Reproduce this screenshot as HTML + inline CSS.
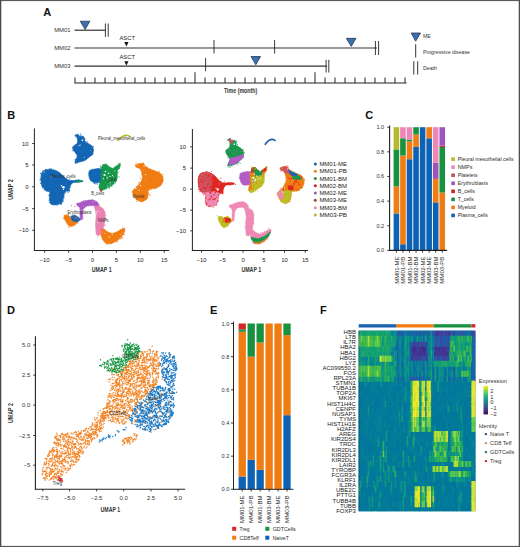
<!DOCTYPE html>
<html><head><meta charset="utf-8"><style>
html,body{margin:0;padding:0;background:#fff;}
svg{display:block;font-family:"Liberation Sans", sans-serif;}
</style></head><body>
<svg width="520" height="547" viewBox="0 0 520 547">
<rect x="0" y="0" width="520" height="547" fill="#fff"/>
<text x="43.3" y="15.8" font-size="11" font-weight="700" fill="#111">A</text>
<text x="70.6" y="32.3" font-size="5.9" text-anchor="end" textLength="16.4" lengthAdjust="spacingAndGlyphs" fill="#333">MM01</text>
<text x="70.6" y="50.1" font-size="5.9" text-anchor="end" textLength="16.4" lengthAdjust="spacingAndGlyphs" fill="#333">MM02</text>
<text x="70.6" y="68.3" font-size="5.9" text-anchor="end" textLength="16.4" lengthAdjust="spacingAndGlyphs" fill="#333">MM03</text>
<line x1="74.5" y1="30.2" x2="105.5" y2="30.2" stroke="#333" stroke-width="1.2"/>
<polygon points="80.2,21.2 89.9,21.2 85.1,29.6" fill="#3b6fae" stroke="#1c2c44" stroke-width="0.7"/>
<line x1="105.4" y1="23.5" x2="105.4" y2="36.8" stroke="#222" stroke-width="0.9"/>
<line x1="108.2" y1="23.5" x2="108.2" y2="36.8" stroke="#222" stroke-width="0.9"/>
<line x1="74.5" y1="48.0" x2="377" y2="48.0" stroke="#333" stroke-width="1.2"/>
<text x="127.2" y="39.8" font-size="5.6" text-anchor="middle" textLength="15.6" lengthAdjust="spacingAndGlyphs" fill="#222">ASCT</text>
<polygon points="124.3,42.0 128.5,42.0 126.4,46.6" fill="#111"/>
<line x1="214" y1="40" x2="214" y2="53.5" stroke="#222" stroke-width="0.9"/>
<line x1="274.6" y1="40" x2="274.6" y2="53.5" stroke="#222" stroke-width="0.9"/>
<polygon points="346.3,38.3 356.1,38.3 351.2,46.4" fill="#3b6fae" stroke="#1c2c44" stroke-width="0.7"/>
<line x1="375.4" y1="41" x2="375.4" y2="55" stroke="#222" stroke-width="0.9"/>
<line x1="378.6" y1="41" x2="378.6" y2="55" stroke="#222" stroke-width="0.9"/>
<line x1="74.5" y1="66.2" x2="327" y2="66.2" stroke="#333" stroke-width="1.2"/>
<text x="127.2" y="58.6" font-size="5.6" text-anchor="middle" textLength="15.6" lengthAdjust="spacingAndGlyphs" fill="#222">ASCT</text>
<polygon points="124.3,61.2 128.5,61.2 126.4,65.4" fill="#111"/>
<line x1="205.6" y1="57.9" x2="205.6" y2="71.3" stroke="#222" stroke-width="0.9"/>
<polygon points="251.0,56.5 260.6,56.5 255.8,64.8" fill="#3b6fae" stroke="#1c2c44" stroke-width="0.7"/>
<line x1="326.1" y1="59.8" x2="326.1" y2="72.5" stroke="#222" stroke-width="0.9"/>
<line x1="328.8" y1="59.8" x2="328.8" y2="72.5" stroke="#222" stroke-width="0.9"/>
<line x1="74.5" y1="83.0" x2="406.5" y2="83.0" stroke="#222" stroke-width="1.2"/>
<line x1="75" y1="77.5" x2="75" y2="83.0" stroke="#222" stroke-width="1.0"/>
<line x1="85" y1="77.5" x2="85" y2="83.0" stroke="#222" stroke-width="1.0"/>
<line x1="95" y1="77.5" x2="95" y2="83.0" stroke="#222" stroke-width="1.0"/>
<line x1="105" y1="77.5" x2="105" y2="83.0" stroke="#222" stroke-width="1.0"/>
<line x1="115" y1="77.5" x2="115" y2="83.0" stroke="#222" stroke-width="1.0"/>
<line x1="125" y1="77.5" x2="125" y2="83.0" stroke="#222" stroke-width="1.0"/>
<line x1="135" y1="77.5" x2="135" y2="83.0" stroke="#222" stroke-width="1.0"/>
<line x1="145" y1="77.5" x2="145" y2="83.0" stroke="#222" stroke-width="1.0"/>
<line x1="155" y1="77.5" x2="155" y2="83.0" stroke="#222" stroke-width="1.0"/>
<line x1="165" y1="77.5" x2="165" y2="83.0" stroke="#222" stroke-width="1.0"/>
<line x1="175" y1="77.5" x2="175" y2="83.0" stroke="#222" stroke-width="1.0"/>
<line x1="185" y1="77.5" x2="185" y2="83.0" stroke="#222" stroke-width="1.0"/>
<line x1="195" y1="72.2" x2="195" y2="83.0" stroke="#222" stroke-width="1.0"/>
<line x1="205" y1="77.5" x2="205" y2="83.0" stroke="#222" stroke-width="1.0"/>
<line x1="215" y1="77.5" x2="215" y2="83.0" stroke="#222" stroke-width="1.0"/>
<line x1="225" y1="77.5" x2="225" y2="83.0" stroke="#222" stroke-width="1.0"/>
<line x1="235" y1="77.5" x2="235" y2="83.0" stroke="#222" stroke-width="1.0"/>
<line x1="245" y1="77.5" x2="245" y2="83.0" stroke="#222" stroke-width="1.0"/>
<line x1="255" y1="77.5" x2="255" y2="83.0" stroke="#222" stroke-width="1.0"/>
<line x1="265" y1="77.5" x2="265" y2="83.0" stroke="#222" stroke-width="1.0"/>
<line x1="275" y1="77.5" x2="275" y2="83.0" stroke="#222" stroke-width="1.0"/>
<line x1="285" y1="77.5" x2="285" y2="83.0" stroke="#222" stroke-width="1.0"/>
<line x1="295" y1="77.5" x2="295" y2="83.0" stroke="#222" stroke-width="1.0"/>
<line x1="305" y1="77.5" x2="305" y2="83.0" stroke="#222" stroke-width="1.0"/>
<line x1="315" y1="72.2" x2="315" y2="83.0" stroke="#222" stroke-width="1.0"/>
<line x1="325" y1="77.5" x2="325" y2="83.0" stroke="#222" stroke-width="1.0"/>
<line x1="335" y1="77.5" x2="335" y2="83.0" stroke="#222" stroke-width="1.0"/>
<line x1="345" y1="77.5" x2="345" y2="83.0" stroke="#222" stroke-width="1.0"/>
<line x1="355" y1="77.5" x2="355" y2="83.0" stroke="#222" stroke-width="1.0"/>
<line x1="365" y1="77.5" x2="365" y2="83.0" stroke="#222" stroke-width="1.0"/>
<line x1="375" y1="77.5" x2="375" y2="83.0" stroke="#222" stroke-width="1.0"/>
<line x1="385" y1="77.5" x2="385" y2="83.0" stroke="#222" stroke-width="1.0"/>
<line x1="395" y1="77.5" x2="395" y2="83.0" stroke="#222" stroke-width="1.0"/>
<line x1="405" y1="77.5" x2="405" y2="83.0" stroke="#222" stroke-width="1.0"/>
<text x="240.6" y="92.6" font-size="7" text-anchor="middle" font-weight="700" textLength="33.2" lengthAdjust="spacingAndGlyphs" fill="#333">Time (month)</text>
<polygon points="411.1,33.0 420.5,33.0 415.7,41.2" fill="#3b6fae" stroke="#1c2c44" stroke-width="0.7"/>
<text x="423" y="38.3" font-size="5.5" textLength="7.8" lengthAdjust="spacingAndGlyphs" fill="#333">ME</text>
<line x1="415.7" y1="44.2" x2="415.7" y2="57.6" stroke="#333" stroke-width="1"/>
<text x="423" y="53.6" font-size="5.5" textLength="47" lengthAdjust="spacingAndGlyphs" fill="#333">Progressive disease</text>
<line x1="413.8" y1="61.2" x2="413.8" y2="74.5" stroke="#333" stroke-width="1"/>
<line x1="417.7" y1="61.2" x2="417.7" y2="74.5" stroke="#333" stroke-width="1"/>
<text x="423" y="69.9" font-size="5.5" textLength="14" lengthAdjust="spacingAndGlyphs" fill="#333">Death</text>
<text x="7.3" y="118.8" font-size="11" font-weight="700" fill="#111">B</text>
<line x1="34.4" y1="128.4" x2="34.4" y2="251.0" stroke="#222" stroke-width="1"/>
<line x1="33.9" y1="250.5" x2="169.2" y2="250.5" stroke="#222" stroke-width="1"/>
<line x1="32.199999999999996" y1="143.5" x2="34.4" y2="143.5" stroke="#222" stroke-width="0.9"/>
<text x="28.6" y="145.6" font-size="5.9" text-anchor="end" fill="#222">10</text>
<line x1="32.199999999999996" y1="165.0" x2="34.4" y2="165.0" stroke="#222" stroke-width="0.9"/>
<text x="28.6" y="167.1" font-size="5.9" text-anchor="end" fill="#222">5</text>
<line x1="32.199999999999996" y1="186.8" x2="34.4" y2="186.8" stroke="#222" stroke-width="0.9"/>
<text x="28.6" y="188.9" font-size="5.9" text-anchor="end" fill="#222">0</text>
<line x1="32.199999999999996" y1="208.6" x2="34.4" y2="208.6" stroke="#222" stroke-width="0.9"/>
<text x="28.6" y="210.7" font-size="5.9" text-anchor="end" fill="#222">−5</text>
<line x1="32.199999999999996" y1="230.3" x2="34.4" y2="230.3" stroke="#222" stroke-width="0.9"/>
<text x="28.6" y="232.4" font-size="5.9" text-anchor="end" fill="#222">−10</text>
<line x1="44.6" y1="250.5" x2="44.6" y2="252.7" stroke="#222" stroke-width="0.9"/>
<text x="44.6" y="261.5" font-size="5.9" text-anchor="middle" fill="#222">−10</text>
<line x1="68.6" y1="250.5" x2="68.6" y2="252.7" stroke="#222" stroke-width="0.9"/>
<text x="68.6" y="261.5" font-size="5.9" text-anchor="middle" fill="#222">−5</text>
<line x1="92.5" y1="250.5" x2="92.5" y2="252.7" stroke="#222" stroke-width="0.9"/>
<text x="92.5" y="261.5" font-size="5.9" text-anchor="middle" fill="#222">0</text>
<line x1="116.4" y1="250.5" x2="116.4" y2="252.7" stroke="#222" stroke-width="0.9"/>
<text x="116.4" y="261.5" font-size="5.9" text-anchor="middle" fill="#222">5</text>
<line x1="140.3" y1="250.5" x2="140.3" y2="252.7" stroke="#222" stroke-width="0.9"/>
<text x="140.3" y="261.5" font-size="5.9" text-anchor="middle" fill="#222">10</text>
<line x1="164.2" y1="250.5" x2="164.2" y2="252.7" stroke="#222" stroke-width="0.9"/>
<text x="164.2" y="261.5" font-size="5.9" text-anchor="middle" fill="#222">15</text>
<text x="101.7" y="272.4" font-size="7.2" text-anchor="middle" font-weight="700" textLength="19.8" lengthAdjust="spacingAndGlyphs" fill="#333">UMAP 1</text>
<text x="13.4" y="189.5" font-size="7.2" text-anchor="middle" font-weight="700" textLength="20.5" lengthAdjust="spacingAndGlyphs" transform="rotate(-90 13.4 189.5)" fill="#333">UMAP 2</text>
<line x1="192.4" y1="129.0" x2="192.4" y2="251.0" stroke="#222" stroke-width="1"/>
<line x1="191.9" y1="250.5" x2="308" y2="250.5" stroke="#222" stroke-width="1"/>
<line x1="190.20000000000002" y1="146.9" x2="192.4" y2="146.9" stroke="#222" stroke-width="0.9"/>
<text x="186.1" y="149.0" font-size="5.9" text-anchor="end" fill="#222">10</text>
<line x1="190.20000000000002" y1="168.1" x2="192.4" y2="168.1" stroke="#222" stroke-width="0.9"/>
<text x="186.1" y="170.2" font-size="5.9" text-anchor="end" fill="#222">5</text>
<line x1="190.20000000000002" y1="189.1" x2="192.4" y2="189.1" stroke="#222" stroke-width="0.9"/>
<text x="186.1" y="191.2" font-size="5.9" text-anchor="end" fill="#222">0</text>
<line x1="190.20000000000002" y1="210.1" x2="192.4" y2="210.1" stroke="#222" stroke-width="0.9"/>
<text x="186.1" y="212.2" font-size="5.9" text-anchor="end" fill="#222">−5</text>
<line x1="190.20000000000002" y1="230.8" x2="192.4" y2="230.8" stroke="#222" stroke-width="0.9"/>
<text x="186.1" y="232.9" font-size="5.9" text-anchor="end" fill="#222">−10</text>
<line x1="201.6" y1="250.5" x2="201.6" y2="252.7" stroke="#222" stroke-width="0.9"/>
<text x="201.6" y="261.5" font-size="5.9" text-anchor="middle" fill="#222">−10</text>
<line x1="222.3" y1="250.5" x2="222.3" y2="252.7" stroke="#222" stroke-width="0.9"/>
<text x="222.3" y="261.5" font-size="5.9" text-anchor="middle" fill="#222">−5</text>
<line x1="243.1" y1="250.5" x2="243.1" y2="252.7" stroke="#222" stroke-width="0.9"/>
<text x="243.1" y="261.5" font-size="5.9" text-anchor="middle" fill="#222">0</text>
<line x1="263.8" y1="250.5" x2="263.8" y2="252.7" stroke="#222" stroke-width="0.9"/>
<text x="263.8" y="261.5" font-size="5.9" text-anchor="middle" fill="#222">5</text>
<line x1="284.5" y1="250.5" x2="284.5" y2="252.7" stroke="#222" stroke-width="0.9"/>
<text x="284.5" y="261.5" font-size="5.9" text-anchor="middle" fill="#222">10</text>
<line x1="305.2" y1="250.5" x2="305.2" y2="252.7" stroke="#222" stroke-width="0.9"/>
<text x="305.2" y="261.5" font-size="5.9" text-anchor="middle" fill="#222">15</text>
<text x="251.3" y="272.4" font-size="7.2" text-anchor="middle" font-weight="700" textLength="19.8" lengthAdjust="spacingAndGlyphs" fill="#333">UMAP 1</text>
<circle cx="315.3" cy="163.90" r="1.5" fill="#1a64ad"/>
<text x="319.4" y="166.0" font-size="5.9" textLength="27.5" lengthAdjust="spacingAndGlyphs" fill="#222">MM01-ME</text>
<circle cx="315.3" cy="171.19" r="1.5" fill="#e8801e"/>
<text x="319.4" y="173.29" font-size="5.9" textLength="27.5" lengthAdjust="spacingAndGlyphs" fill="#222">MM01-PB</text>
<circle cx="315.3" cy="178.48" r="1.5" fill="#1a9147"/>
<text x="319.4" y="180.58" font-size="5.9" textLength="27.5" lengthAdjust="spacingAndGlyphs" fill="#222">MM01-BM</text>
<circle cx="315.3" cy="185.77" r="1.5" fill="#c8202a"/>
<text x="319.4" y="187.87" font-size="5.9" textLength="27.5" lengthAdjust="spacingAndGlyphs" fill="#222">MM02-BM</text>
<circle cx="315.3" cy="193.06" r="1.5" fill="#9a5aa6"/>
<text x="319.4" y="195.16" font-size="5.9" textLength="27.5" lengthAdjust="spacingAndGlyphs" fill="#222">MM02-ME</text>
<circle cx="315.3" cy="200.35" r="1.5" fill="#8d4a4a"/>
<text x="319.4" y="202.45000000000002" font-size="5.9" textLength="27.5" lengthAdjust="spacingAndGlyphs" fill="#222">MM03-ME</text>
<circle cx="315.3" cy="207.64" r="1.5" fill="#e389b9"/>
<text x="319.4" y="209.74" font-size="5.9" textLength="27.5" lengthAdjust="spacingAndGlyphs" fill="#222">MM03-BM</text>
<circle cx="315.3" cy="214.93" r="1.5" fill="#b3b33c"/>
<text x="319.4" y="217.03" font-size="5.9" textLength="27.5" lengthAdjust="spacingAndGlyphs" fill="#222">MM03-PB</text>
<text x="365.2" y="118.8" font-size="11" font-weight="700" fill="#111">C</text>
<rect x="393.60" y="213.44" width="5.60" height="36.96" fill="#0d62b4"/>
<rect x="393.60" y="186.34" width="5.60" height="27.10" fill="#f07c14"/>
<rect x="393.60" y="149.38" width="5.60" height="36.96" fill="#19923f"/>
<rect x="393.60" y="127.20" width="5.60" height="22.18" fill="#b7b82b"/>
<rect x="400.15" y="244.24" width="5.60" height="6.16" fill="#0d62b4"/>
<rect x="400.15" y="155.54" width="5.60" height="88.70" fill="#f07c14"/>
<rect x="400.15" y="138.29" width="5.60" height="17.25" fill="#19923f"/>
<rect x="400.15" y="127.20" width="5.60" height="11.09" fill="#ef86ba"/>
<rect x="406.70" y="159.23" width="5.60" height="91.17" fill="#0d62b4"/>
<rect x="406.70" y="141.37" width="5.60" height="17.86" fill="#f07c14"/>
<rect x="406.70" y="139.52" width="5.60" height="1.85" fill="#19923f"/>
<rect x="406.70" y="127.20" width="5.60" height="12.32" fill="#ef86ba"/>
<rect x="413.25" y="146.91" width="5.60" height="103.49" fill="#0d62b4"/>
<rect x="413.25" y="134.59" width="5.60" height="12.32" fill="#f07c14"/>
<rect x="413.25" y="127.20" width="5.60" height="7.39" fill="#19923f"/>
<rect x="419.80" y="127.20" width="5.60" height="123.20" fill="#0d62b4"/>
<rect x="426.35" y="138.29" width="5.60" height="112.11" fill="#0d62b4"/>
<rect x="426.35" y="127.20" width="5.60" height="11.09" fill="#f07c14"/>
<rect x="432.90" y="202.35" width="5.60" height="48.05" fill="#0d62b4"/>
<rect x="432.90" y="178.94" width="5.60" height="23.41" fill="#f07c14"/>
<rect x="432.90" y="162.93" width="5.60" height="16.02" fill="#9d55bd"/>
<rect x="432.90" y="127.20" width="5.60" height="35.73" fill="#ef86ba"/>
<rect x="439.45" y="192.50" width="5.60" height="57.90" fill="#f07c14"/>
<rect x="439.45" y="146.91" width="5.60" height="45.58" fill="#19923f"/>
<rect x="439.45" y="145.68" width="5.60" height="1.23" fill="#d32027"/>
<rect x="439.45" y="127.20" width="5.60" height="18.48" fill="#9d55bd"/>
<line x1="389.6" y1="125.5" x2="389.6" y2="250.9" stroke="#222" stroke-width="1.1"/>
<line x1="389.1" y1="250.4" x2="447.2" y2="250.4" stroke="#222" stroke-width="1.1"/>
<line x1="387.3" y1="250.4" x2="389.8" y2="250.4" stroke="#222" stroke-width="0.9"/>
<text x="384.2" y="252.4" font-size="5.6" text-anchor="end" fill="#333">0.0</text>
<line x1="387.3" y1="225.76" x2="389.8" y2="225.76" stroke="#222" stroke-width="0.9"/>
<text x="384.2" y="227.76" font-size="5.6" text-anchor="end" fill="#333">0.2</text>
<line x1="387.3" y1="201.12" x2="389.8" y2="201.12" stroke="#222" stroke-width="0.9"/>
<text x="384.2" y="203.12" font-size="5.6" text-anchor="end" fill="#333">0.4</text>
<line x1="387.3" y1="176.48" x2="389.8" y2="176.48" stroke="#222" stroke-width="0.9"/>
<text x="384.2" y="178.48" font-size="5.6" text-anchor="end" fill="#333">0.6</text>
<line x1="387.3" y1="151.84" x2="389.8" y2="151.84" stroke="#222" stroke-width="0.9"/>
<text x="384.2" y="153.84" font-size="5.6" text-anchor="end" fill="#333">0.8</text>
<line x1="387.3" y1="127.2" x2="389.8" y2="127.2" stroke="#222" stroke-width="0.9"/>
<text x="384.2" y="129.2" font-size="5.6" text-anchor="end" fill="#333">1.0</text>
<line x1="396.40000000000003" y1="250.4" x2="396.40000000000003" y2="252.6" stroke="#222" stroke-width="0.9"/>
<text x="398.6" y="256.7" font-size="6.2" text-anchor="end" textLength="27.0" lengthAdjust="spacingAndGlyphs" transform="rotate(-90 398.6 256.7)" fill="#2a2a2a">MM01-ME</text>
<line x1="402.95000000000005" y1="250.4" x2="402.95000000000005" y2="252.6" stroke="#222" stroke-width="0.9"/>
<text x="405.15000000000003" y="256.7" font-size="6.2" text-anchor="end" textLength="27.0" lengthAdjust="spacingAndGlyphs" transform="rotate(-90 405.15000000000003 256.7)" fill="#2a2a2a">MM01-PB</text>
<line x1="409.50000000000006" y1="250.4" x2="409.50000000000006" y2="252.6" stroke="#222" stroke-width="0.9"/>
<text x="411.70000000000005" y="256.7" font-size="6.2" text-anchor="end" textLength="27.0" lengthAdjust="spacingAndGlyphs" transform="rotate(-90 411.70000000000005 256.7)" fill="#2a2a2a">MM01-BM</text>
<line x1="416.05" y1="250.4" x2="416.05" y2="252.6" stroke="#222" stroke-width="0.9"/>
<text x="418.25" y="256.7" font-size="6.2" text-anchor="end" textLength="27.0" lengthAdjust="spacingAndGlyphs" transform="rotate(-90 418.25 256.7)" fill="#2a2a2a">MM02-BM</text>
<line x1="422.6" y1="250.4" x2="422.6" y2="252.6" stroke="#222" stroke-width="0.9"/>
<text x="424.8" y="256.7" font-size="6.2" text-anchor="end" textLength="27.0" lengthAdjust="spacingAndGlyphs" transform="rotate(-90 424.8 256.7)" fill="#2a2a2a">MM02-ME</text>
<line x1="429.15000000000003" y1="250.4" x2="429.15000000000003" y2="252.6" stroke="#222" stroke-width="0.9"/>
<text x="431.35" y="256.7" font-size="6.2" text-anchor="end" textLength="27.0" lengthAdjust="spacingAndGlyphs" transform="rotate(-90 431.35 256.7)" fill="#2a2a2a">MM03-ME</text>
<line x1="435.70000000000005" y1="250.4" x2="435.70000000000005" y2="252.6" stroke="#222" stroke-width="0.9"/>
<text x="437.90000000000003" y="256.7" font-size="6.2" text-anchor="end" textLength="27.0" lengthAdjust="spacingAndGlyphs" transform="rotate(-90 437.90000000000003 256.7)" fill="#2a2a2a">MM03-BM</text>
<line x1="442.25000000000006" y1="250.4" x2="442.25000000000006" y2="252.6" stroke="#222" stroke-width="0.9"/>
<text x="444.45000000000005" y="256.7" font-size="6.2" text-anchor="end" textLength="27.0" lengthAdjust="spacingAndGlyphs" transform="rotate(-90 444.45000000000005 256.7)" fill="#2a2a2a">MM03-PB</text>
<rect x="451.30" y="157.35" width="3.60" height="3.60" fill="#b7b82b"/>
<text x="457.7" y="161.1" font-size="5.7" textLength="55.8" lengthAdjust="spacingAndGlyphs" fill="#2a2a2a">Pleural mesothelial cells</text>
<rect x="451.30" y="165.39" width="3.60" height="3.60" fill="#ef86ba"/>
<text x="457.7" y="169.14" font-size="5.7" textLength="14.7" lengthAdjust="spacingAndGlyphs" fill="#2a2a2a">NMPs</text>
<rect x="451.30" y="173.43" width="3.60" height="3.60" fill="#c05457"/>
<text x="457.7" y="177.18" font-size="5.7" textLength="19.8" lengthAdjust="spacingAndGlyphs" fill="#2a2a2a">Platelets</text>
<rect x="451.30" y="181.47" width="3.60" height="3.60" fill="#9d55bd"/>
<text x="457.7" y="185.22" font-size="5.7" textLength="30.3" lengthAdjust="spacingAndGlyphs" fill="#2a2a2a">Erythroblasts</text>
<rect x="451.30" y="189.51" width="3.60" height="3.60" fill="#d32027"/>
<text x="457.7" y="193.26" font-size="5.7" textLength="17.2" lengthAdjust="spacingAndGlyphs" fill="#2a2a2a">B_cells</text>
<rect x="451.30" y="197.55" width="3.60" height="3.60" fill="#19923f"/>
<text x="457.7" y="201.29999999999998" font-size="5.7" textLength="16.2" lengthAdjust="spacingAndGlyphs" fill="#2a2a2a">T_cells</text>
<rect x="451.30" y="205.59" width="3.60" height="3.60" fill="#f07c14"/>
<text x="457.7" y="209.33999999999997" font-size="5.7" textLength="18.0" lengthAdjust="spacingAndGlyphs" fill="#2a2a2a">Myeloid</text>
<rect x="451.30" y="213.63" width="3.60" height="3.60" fill="#0d62b4"/>
<text x="457.7" y="217.38" font-size="5.7" textLength="30.2" lengthAdjust="spacingAndGlyphs" fill="#2a2a2a">Plasma_cells</text>
<text x="210.0" y="314.4" font-size="11" font-weight="700" fill="#111">E</text>
<rect x="238.60" y="476.53" width="7.30" height="12.77" fill="#0d62b4"/>
<rect x="238.60" y="331.79" width="7.30" height="144.74" fill="#f07c14"/>
<rect x="238.60" y="329.30" width="7.30" height="2.49" fill="#19923f"/>
<rect x="238.60" y="323.50" width="7.30" height="5.80" fill="#d62728"/>
<rect x="247.55" y="459.79" width="7.30" height="29.51" fill="#0d62b4"/>
<rect x="247.55" y="356.66" width="7.30" height="103.13" fill="#f07c14"/>
<rect x="247.55" y="323.50" width="7.30" height="33.16" fill="#19923f"/>
<rect x="256.50" y="469.90" width="7.30" height="19.40" fill="#0d62b4"/>
<rect x="256.50" y="342.57" width="7.30" height="127.33" fill="#f07c14"/>
<rect x="256.50" y="323.50" width="7.30" height="19.07" fill="#19923f"/>
<rect x="265.45" y="323.50" width="7.30" height="165.80" fill="#f07c14"/>
<rect x="274.40" y="323.50" width="7.30" height="165.80" fill="#f07c14"/>
<rect x="283.35" y="415.19" width="7.30" height="74.11" fill="#0d62b4"/>
<rect x="283.35" y="335.11" width="7.30" height="80.08" fill="#f07c14"/>
<rect x="283.35" y="323.50" width="7.30" height="11.61" fill="#19923f"/>
<line x1="233.5" y1="321.5" x2="233.5" y2="489.8" stroke="#222" stroke-width="1"/>
<line x1="233.0" y1="489.3" x2="293.5" y2="489.3" stroke="#222" stroke-width="1"/>
<line x1="231.0" y1="489.3" x2="233.5" y2="489.3" stroke="#222" stroke-width="0.9"/>
<text x="229.3" y="491.3" font-size="5.6" text-anchor="end" fill="#333">0.0</text>
<line x1="231.0" y1="456.14" x2="233.5" y2="456.14" stroke="#222" stroke-width="0.9"/>
<text x="229.3" y="458.14" font-size="5.6" text-anchor="end" fill="#333">0.2</text>
<line x1="231.0" y1="422.98" x2="233.5" y2="422.98" stroke="#222" stroke-width="0.9"/>
<text x="229.3" y="424.98" font-size="5.6" text-anchor="end" fill="#333">0.4</text>
<line x1="231.0" y1="389.82" x2="233.5" y2="389.82" stroke="#222" stroke-width="0.9"/>
<text x="229.3" y="391.82" font-size="5.6" text-anchor="end" fill="#333">0.6</text>
<line x1="231.0" y1="356.65999999999997" x2="233.5" y2="356.65999999999997" stroke="#222" stroke-width="0.9"/>
<text x="229.3" y="358.65999999999997" font-size="5.6" text-anchor="end" fill="#333">0.8</text>
<line x1="231.0" y1="323.5" x2="233.5" y2="323.5" stroke="#222" stroke-width="0.9"/>
<text x="229.3" y="325.5" font-size="5.6" text-anchor="end" fill="#333">1.0</text>
<line x1="242.25" y1="489.3" x2="242.25" y2="491.5" stroke="#222" stroke-width="0.9"/>
<text x="244.45" y="495.5" font-size="6.2" text-anchor="end" textLength="27.4" lengthAdjust="spacingAndGlyphs" transform="rotate(-90 244.45 495.5)" fill="#2a2a2a">MM01-ME</text>
<line x1="251.2" y1="489.3" x2="251.2" y2="491.5" stroke="#222" stroke-width="0.9"/>
<text x="253.39999999999998" y="495.5" font-size="6.2" text-anchor="end" textLength="27.4" lengthAdjust="spacingAndGlyphs" transform="rotate(-90 253.39999999999998 495.5)" fill="#2a2a2a">MM01-PB</text>
<line x1="260.15" y1="489.3" x2="260.15" y2="491.5" stroke="#222" stroke-width="0.9"/>
<text x="262.34999999999997" y="495.5" font-size="6.2" text-anchor="end" textLength="27.4" lengthAdjust="spacingAndGlyphs" transform="rotate(-90 262.34999999999997 495.5)" fill="#2a2a2a">MM01-BM</text>
<line x1="269.09999999999997" y1="489.3" x2="269.09999999999997" y2="491.5" stroke="#222" stroke-width="0.9"/>
<text x="271.29999999999995" y="495.5" font-size="6.2" text-anchor="end" textLength="27.4" lengthAdjust="spacingAndGlyphs" transform="rotate(-90 271.29999999999995 495.5)" fill="#2a2a2a">MM03-BM</text>
<line x1="278.04999999999995" y1="489.3" x2="278.04999999999995" y2="491.5" stroke="#222" stroke-width="0.9"/>
<text x="280.24999999999994" y="495.5" font-size="6.2" text-anchor="end" textLength="27.4" lengthAdjust="spacingAndGlyphs" transform="rotate(-90 280.24999999999994 495.5)" fill="#2a2a2a">MM03-ME</text>
<line x1="287.0" y1="489.3" x2="287.0" y2="491.5" stroke="#222" stroke-width="0.9"/>
<text x="289.2" y="495.5" font-size="6.2" text-anchor="end" textLength="27.4" lengthAdjust="spacingAndGlyphs" transform="rotate(-90 289.2 495.5)" fill="#2a2a2a">MM03-PB</text>
<rect x="232.20" y="526.80" width="4.00" height="4.00" fill="#d62728"/>
<text x="239.6" y="530.8" font-size="5.6" textLength="10" lengthAdjust="spacingAndGlyphs" fill="#2a2a2a">Treg</text>
<rect x="265.30" y="526.80" width="4.00" height="4.00" fill="#19923f"/>
<text x="272.7" y="530.8" font-size="5.6" textLength="23.1" lengthAdjust="spacingAndGlyphs" fill="#2a2a2a">GDTCells</text>
<rect x="232.20" y="535.70" width="4.00" height="4.00" fill="#f07c14"/>
<text x="239.6" y="539.7" font-size="5.6" textLength="19.2" lengthAdjust="spacingAndGlyphs" fill="#2a2a2a">CD8Teff</text>
<rect x="265.30" y="535.70" width="4.00" height="4.00" fill="#0d62b4"/>
<text x="272.7" y="539.7" font-size="5.6" textLength="16.1" lengthAdjust="spacingAndGlyphs" fill="#2a2a2a">NaiveT</text>
<text x="319.9" y="314.4" font-size="11" font-weight="700" fill="#111">F</text>
<rect x="358.70" y="324.20" width="37.30" height="3.30" fill="#1a64ad"/>
<rect x="396.00" y="324.20" width="37.70" height="3.30" fill="#f07c14"/>
<rect x="433.70" y="324.20" width="37.70" height="3.30" fill="#19923f"/>
<rect x="471.40" y="324.20" width="4.00" height="3.30" fill="#d62728"/>
<rect x="358.7" y="330.7" width="116.70" height="180.50" fill="#00789b"/>
<g transform="translate(358.7,330.7) scale(0.99744,5.01389)">
<path fill="#3b1f7d" d="M55 3h1.6v1.2h-1.6zM63 3h1.6v1.2h-1.6z"/>
<path fill="#3d2481" d="M75 4h1.6v1.2h-1.6z"/>
<path fill="#3e2986" d="M64 3h1.6v1.2h-1.6zM66 3h1.6v1.2h-1.6zM81 3h1.6v1.2h-1.6zM83 3h1.6v1.2h-1.6zM85 3h1.6v1.2h-1.6zM87 3h1.6v1.2h-1.6zM90 3h1.6v1.2h-1.6zM54 4h1.6v1.2h-1.6zM87 4h1.6v1.2h-1.6z"/>
<path fill="#402d8a" d="M78 0h1.6v1.2h-1.6zM91 0h1.6v1.2h-1.6zM57 3h1.6v1.2h-1.6zM61 3h1.6v1.2h-1.6zM65 3h1.6v1.2h-1.6zM76 3h1.6v1.2h-1.6zM80 3h1.6v1.2h-1.6zM55 4h1.6v1.2h-1.6zM57 4h1.6v1.2h-1.6zM60 4h1.6v1.2h-1.6zM65 4h1.6v1.2h-1.6zM76 4h1.6v1.2h-1.6zM78 4h1.6v1.2h-1.6zM81 4h1.6v1.2h-1.6zM84 4h1.6v1.2h-1.6zM88 4h1.6v1.2h-1.6zM52 5h1.6v1.2h-1.6z"/>
<path fill="#41328f" d="M52 3h1.6v1.2h-1.6zM54 3h1.6v1.2h-1.6zM56 3h1.6v1.2h-1.6zM59 3h1.6v1.2h-1.6zM77 3h2.6v1.2h-2.6zM52 4h1.6v1.2h-1.6zM61 4h1.6v1.2h-1.6zM63 4h2.6v1.2h-2.6zM66 4h1.6v1.2h-1.6zM80 4h1.6v1.2h-1.6zM83 4h1.6v1.2h-1.6zM86 4h1.6v1.2h-1.6z"/>
<path fill="#433793" d="M39 0h1.6v1.2h-1.6zM77 0h1.6v1.2h-1.6zM80 0h1.6v1.2h-1.6zM83 0h1.6v1.2h-1.6zM90 0h1.6v1.2h-1.6zM94 0h2.6v1.2h-2.6zM112 0h1.6v1.2h-1.6zM55 2h1.6v1.2h-1.6zM58 2h2.6v1.2h-2.6zM67 2h1.6v1.2h-1.6zM53 3h1.6v1.2h-1.6zM60 3h1.6v1.2h-1.6zM62 3h1.6v1.2h-1.6zM67 3h1.6v1.2h-1.6zM79 3h1.6v1.2h-1.6zM84 3h1.6v1.2h-1.6zM86 3h1.6v1.2h-1.6zM89 3h1.6v1.2h-1.6zM56 4h1.6v1.2h-1.6zM58 4h2.6v1.2h-2.6zM62 4h1.6v1.2h-1.6zM67 4h1.6v1.2h-1.6zM85 4h1.6v1.2h-1.6zM53 5h1.6v1.2h-1.6zM55 5h1.6v1.2h-1.6zM59 5h1.6v1.2h-1.6zM67 5h1.6v1.2h-1.6z"/>
<path fill="#443c98" d="M79 0h1.6v1.2h-1.6zM87 0h1.6v1.2h-1.6zM89 0h1.6v1.2h-1.6zM56 2h1.6v1.2h-1.6zM75 3h1.6v1.2h-1.6zM53 4h1.6v1.2h-1.6zM77 4h1.6v1.2h-1.6zM79 4h1.6v1.2h-1.6zM82 4h1.6v1.2h-1.6zM57 5h1.6v1.2h-1.6zM61 5h1.6v1.2h-1.6zM85 5h1.6v1.2h-1.6zM60 9h1.6v1.2h-1.6z"/>
<path fill="#40419b" d="M68 0h1.6v1.2h-1.6zM73 0h1.6v1.2h-1.6zM75 0h2.6v1.2h-2.6zM82 0h1.6v1.2h-1.6zM88 0h1.6v1.2h-1.6zM114 0h1.6v1.2h-1.6zM76 1h1.6v1.2h-1.6zM54 2h1.6v1.2h-1.6zM63 2h1.6v1.2h-1.6zM82 3h1.6v1.2h-1.6zM88 3h1.6v1.2h-1.6zM90 4h1.6v1.2h-1.6zM56 5h1.6v1.2h-1.6zM60 5h1.6v1.2h-1.6zM79 5h1.6v1.2h-1.6zM86 5h1.6v1.2h-1.6zM89 5h1.6v1.2h-1.6z"/>
<path fill="#3b469d" d="M60 0h1.6v1.2h-1.6zM81 0h1.6v1.2h-1.6zM86 0h1.6v1.2h-1.6zM104 0h1.6v1.2h-1.6zM113 0h1.6v1.2h-1.6zM64 1h1.6v1.2h-1.6zM78 1h1.6v1.2h-1.6zM89 1h1.6v1.2h-1.6zM52 2h1.6v1.2h-1.6zM61 2h2.6v1.2h-2.6zM58 3h1.6v1.2h-1.6zM89 4h1.6v1.2h-1.6zM54 5h1.6v1.2h-1.6zM58 5h1.6v1.2h-1.6zM62 5h2.6v1.2h-2.6zM65 5h1.6v1.2h-1.6zM77 5h1.6v1.2h-1.6zM80 5h1.6v1.2h-1.6zM84 5h1.6v1.2h-1.6zM87 5h1.6v1.2h-1.6zM68 7h1.6v1.2h-1.6zM112 7h1.6v1.2h-1.6zM53 9h1.6v1.2h-1.6zM68 9h1.6v1.2h-1.6zM89 9h1.6v1.2h-1.6z"/>
<path fill="#374ba0" d="M51 0h1.6v1.2h-1.6zM57 0h1.6v1.2h-1.6zM84 0h2.6v1.2h-2.6zM108 0h1.6v1.2h-1.6zM115 0h2v1.2h-2zM81 1h2.6v1.2h-2.6zM88 1h1.6v1.2h-1.6zM90 1h1.6v1.2h-1.6zM53 2h1.6v1.2h-1.6zM57 2h1.6v1.2h-1.6zM64 2h1.6v1.2h-1.6zM66 2h1.6v1.2h-1.6zM81 2h2.6v1.2h-2.6zM84 2h1.6v1.2h-1.6zM90 2h1.6v1.2h-1.6zM82 5h2.6v1.2h-2.6zM88 5h1.6v1.2h-1.6zM54 9h1.6v1.2h-1.6zM57 9h1.6v1.2h-1.6zM95 9h1.6v1.2h-1.6z"/>
<path fill="#3350a3" d="M38 0h1.6v1.2h-1.6zM64 0h2.6v1.2h-2.6zM100 0h1.6v1.2h-1.6zM105 0h1.6v1.2h-1.6zM68 1h1.6v1.2h-1.6zM83 1h1.6v1.2h-1.6zM60 2h1.6v1.2h-1.6zM65 2h1.6v1.2h-1.6zM75 2h1.6v1.2h-1.6zM78 2h1.6v1.2h-1.6zM89 2h1.6v1.2h-1.6zM68 4h1.6v1.2h-1.6zM114 4h1.6v1.2h-1.6zM64 5h1.6v1.2h-1.6zM68 5h1.6v1.2h-1.6zM78 5h1.6v1.2h-1.6zM64 6h1.6v1.2h-1.6zM68 6h1.6v1.2h-1.6zM64 7h1.6v1.2h-1.6zM94 7h1.6v1.2h-1.6zM95 8h1.6v1.2h-1.6zM39 9h1.6v1.2h-1.6zM64 9h1.6v1.2h-1.6zM79 9h1.6v1.2h-1.6z"/>
<path fill="#2e55a5" d="M42 0h2.6v1.2h-2.6zM69 0h1.6v1.2h-1.6zM71 0h1.6v1.2h-1.6zM96 0h1.6v1.2h-1.6zM102 0h1.6v1.2h-1.6zM57 1h1.6v1.2h-1.6zM80 1h1.6v1.2h-1.6zM86 1h1.6v1.2h-1.6zM68 2h1.6v1.2h-1.6zM76 2h2.6v1.2h-2.6zM83 2h1.6v1.2h-1.6zM85 2h1.6v1.2h-1.6zM87 2h2.6v1.2h-2.6zM38 4h1.6v1.2h-1.6zM66 5h1.6v1.2h-1.6zM75 5h1.6v1.2h-1.6zM81 5h1.6v1.2h-1.6zM39 6h1.6v1.2h-1.6zM60 6h1.6v1.2h-1.6zM95 7h1.6v1.2h-1.6zM51 9h1.6v1.2h-1.6zM55 9h1.6v1.2h-1.6zM112 9h1.6v1.2h-1.6zM115 9h1.6v1.2h-1.6z"/>
<path fill="#2a5aa8" d="M55 0h1.6v1.2h-1.6zM101 0h1.6v1.2h-1.6zM103 0h1.6v1.2h-1.6zM75 1h1.6v1.2h-1.6zM79 1h1.6v1.2h-1.6zM85 1h1.6v1.2h-1.6zM38 2h1.6v1.2h-1.6zM80 2h1.6v1.2h-1.6zM113 2h1.6v1.2h-1.6zM39 3h1.6v1.2h-1.6zM113 3h1.6v1.2h-1.6zM39 5h1.6v1.2h-1.6zM76 5h1.6v1.2h-1.6zM114 5h1.6v1.2h-1.6zM116 5h1v1.2h-1zM39 7h1.6v1.2h-1.6zM79 7h1.6v1.2h-1.6zM51 8h1.6v1.2h-1.6zM79 8h1.6v1.2h-1.6zM43 9h1.6v1.2h-1.6zM62 9h1.6v1.2h-1.6zM71 9h1.6v1.2h-1.6zM73 9h1.6v1.2h-1.6z"/>
<path fill="#245da8" d="M44 0h2.6v1.2h-2.6zM61 0h1.6v1.2h-1.6zM99 0h1.6v1.2h-1.6zM77 1h1.6v1.2h-1.6zM87 1h1.6v1.2h-1.6zM113 1h3.6v1.2h-3.6zM39 2h1.6v1.2h-1.6zM86 2h1.6v1.2h-1.6zM114 2h2.6v1.2h-2.6zM68 3h1.6v1.2h-1.6zM114 3h1.6v1.2h-1.6zM39 4h1.6v1.2h-1.6zM115 4h2v1.2h-2zM73 5h1.6v1.2h-1.6zM90 5h1.6v1.2h-1.6zM115 5h1.6v1.2h-1.6zM38 6h1.6v1.2h-1.6zM57 6h1.6v1.2h-1.6zM71 6h1.6v1.2h-1.6zM51 7h1.6v1.2h-1.6zM57 8h1.6v1.2h-1.6zM64 8h1.6v1.2h-1.6zM68 8h1.6v1.2h-1.6zM112 8h1.6v1.2h-1.6zM65 9h1.6v1.2h-1.6zM94 9h1.6v1.2h-1.6zM95 24h1.6v1.2h-1.6z"/>
<path fill="#1e60a8" d="M40 0h1.6v1.2h-1.6zM62 0h1.6v1.2h-1.6zM93 0h1.6v1.2h-1.6zM106 0h1.6v1.2h-1.6zM84 1h1.6v1.2h-1.6zM116 1h1v1.2h-1zM43 2h1.6v1.2h-1.6zM73 2h1.6v1.2h-1.6zM79 2h1.6v1.2h-1.6zM37 3h1.6v1.2h-1.6zM51 3h1.6v1.2h-1.6zM115 3h2v1.2h-2zM51 4h1.6v1.2h-1.6zM113 4h1.6v1.2h-1.6zM51 5h1.6v1.2h-1.6zM113 5h1.6v1.2h-1.6zM62 6h1.6v1.2h-1.6zM113 6h1.6v1.2h-1.6zM60 7h1.6v1.2h-1.6zM75 7h1.6v1.2h-1.6zM89 7h1.6v1.2h-1.6zM113 7h1.6v1.2h-1.6zM116 7h1v1.2h-1zM38 8h2.6v1.2h-2.6zM73 8h1.6v1.2h-1.6zM113 8h2.6v1.2h-2.6zM45 9h1.6v1.2h-1.6zM56 9h1.6v1.2h-1.6zM86 9h2.6v1.2h-2.6zM90 9h1.6v1.2h-1.6zM104 9h1.6v1.2h-1.6zM116 9h1v1.2h-1zM67 15h1.6v1.2h-1.6z"/>
<path fill="#1963a8" d="M49 0h2.6v1.2h-2.6zM54 0h1.6v1.2h-1.6zM56 0h1.6v1.2h-1.6zM92 0h1.6v1.2h-1.6zM98 0h1.6v1.2h-1.6zM39 1h1.6v1.2h-1.6zM51 1h1.6v1.2h-1.6zM65 1h1.6v1.2h-1.6zM71 1h1.6v1.2h-1.6zM116 2h1v1.2h-1zM43 3h1.6v1.2h-1.6zM34 4h1.6v1.2h-1.6zM14 5h1.6v1.2h-1.6zM43 5h1.6v1.2h-1.6zM43 6h1.6v1.2h-1.6zM69 6h1.6v1.2h-1.6zM73 6h1.6v1.2h-1.6zM114 6h3v1.2h-3zM38 7h1.6v1.2h-1.6zM73 7h1.6v1.2h-1.6zM43 8h1.6v1.2h-1.6zM87 8h1.6v1.2h-1.6zM94 8h1.6v1.2h-1.6zM115 8h1.6v1.2h-1.6zM38 9h1.6v1.2h-1.6zM52 9h1.6v1.2h-1.6zM69 9h1.6v1.2h-1.6zM75 9h1.6v1.2h-1.6zM100 9h1.6v1.2h-1.6zM113 9h2.6v1.2h-2.6zM66 11h1.6v1.2h-1.6zM62 12h1.6v1.2h-1.6zM79 22h1.6v1.2h-1.6z"/>
<path fill="#1366a8" d="M41 0h1.6v1.2h-1.6zM59 0h1.6v1.2h-1.6zM70 0h1.6v1.2h-1.6zM60 1h1.6v1.2h-1.6zM34 3h1.6v1.2h-1.6zM38 3h1.6v1.2h-1.6zM50 3h1.6v1.2h-1.6zM73 3h1.6v1.2h-1.6zM43 4h1.6v1.2h-1.6zM71 4h1.6v1.2h-1.6zM73 4h1.6v1.2h-1.6zM38 5h1.6v1.2h-1.6zM42 5h1.6v1.2h-1.6zM71 5h1.6v1.2h-1.6zM42 6h1.6v1.2h-1.6zM48 6h1.6v1.2h-1.6zM51 6h1.6v1.2h-1.6zM54 6h1.6v1.2h-1.6zM104 6h1.6v1.2h-1.6zM112 6h1.6v1.2h-1.6zM42 7h1.6v1.2h-1.6zM62 7h1.6v1.2h-1.6zM71 7h1.6v1.2h-1.6zM85 7h2.6v1.2h-2.6zM115 7h1.6v1.2h-1.6zM60 8h1.6v1.2h-1.6zM65 8h1.6v1.2h-1.6zM75 8h1.6v1.2h-1.6zM78 8h1.6v1.2h-1.6zM89 8h1.6v1.2h-1.6zM100 8h1.6v1.2h-1.6zM116 8h1v1.2h-1zM42 9h1.6v1.2h-1.6zM58 9h2.6v1.2h-2.6zM67 11h1.6v1.2h-1.6zM66 16h1.6v1.2h-1.6zM97 23h1.6v1.2h-1.6z"/>
<path fill="#0d6ba6" d="M33 0h1.6v1.2h-1.6zM52 0h1.6v1.2h-1.6zM58 0h1.6v1.2h-1.6zM66 0h1.6v1.2h-1.6zM74 0h1.6v1.2h-1.6zM97 0h1.6v1.2h-1.6zM107 0h1.6v1.2h-1.6zM111 0h1.6v1.2h-1.6zM38 1h1.6v1.2h-1.6zM55 1h1.6v1.2h-1.6zM73 1h1.6v1.2h-1.6zM36 3h1.6v1.2h-1.6zM71 3h1.6v1.2h-1.6zM42 4h1.6v1.2h-1.6zM69 4h1.6v1.2h-1.6zM45 5h1.6v1.2h-1.6zM69 5h1.6v1.2h-1.6zM55 6h1.6v1.2h-1.6zM55 7h2.6v1.2h-2.6zM65 7h1.6v1.2h-1.6zM87 7h1.6v1.2h-1.6zM104 7h1.6v1.2h-1.6zM114 7h1.6v1.2h-1.6zM54 8h2.6v1.2h-2.6zM50 9h1.6v1.2h-1.6zM63 9h1.6v1.2h-1.6zM106 9h1.6v1.2h-1.6zM116 22h1v1.2h-1zM46 23h1.6v1.2h-1.6zM116 24h1v1.2h-1zM116 29h1v1.2h-1zM109 31h1.6v1.2h-1.6zM97 33h1.6v1.2h-1.6z"/>
<path fill="#0870a2" d="M48 0h1.6v1.2h-1.6zM53 0h1.6v1.2h-1.6zM48 1h1.6v1.2h-1.6zM62 1h1.6v1.2h-1.6zM45 2h1.6v1.2h-1.6zM51 2h1.6v1.2h-1.6zM71 2h1.6v1.2h-1.6zM42 3h1.6v1.2h-1.6zM74 3h1.6v1.2h-1.6zM36 4h1.6v1.2h-1.6zM45 4h1.6v1.2h-1.6zM94 4h1.6v1.2h-1.6zM8 5h1.6v1.2h-1.6zM36 5h1.6v1.2h-1.6zM50 5h1.6v1.2h-1.6zM97 5h1.6v1.2h-1.6zM65 6h1.6v1.2h-1.6zM57 7h1.6v1.2h-1.6zM63 7h1.6v1.2h-1.6zM90 7h2.6v1.2h-2.6zM96 7h1.6v1.2h-1.6zM100 7h1.6v1.2h-1.6zM62 8h1.6v1.2h-1.6zM85 8h1.6v1.2h-1.6zM36 9h1.6v1.2h-1.6zM44 9h1.6v1.2h-1.6zM66 9h1.6v1.2h-1.6zM74 9h1.6v1.2h-1.6zM78 9h1.6v1.2h-1.6zM84 9h2.6v1.2h-2.6zM91 9h1.6v1.2h-1.6zM96 9h1.6v1.2h-1.6zM98 9h1.6v1.2h-1.6zM101 9h1.6v1.2h-1.6zM105 9h1.6v1.2h-1.6zM11 10h1.6v1.2h-1.6zM110 10h1.6v1.2h-1.6zM3 11h1.6v1.2h-1.6zM29 11h1.6v1.2h-1.6zM36 11h1.6v1.2h-1.6zM40 11h1.6v1.2h-1.6zM49 11h1.6v1.2h-1.6zM103 11h1.6v1.2h-1.6zM17 12h1.6v1.2h-1.6zM25 12h1.6v1.2h-1.6zM79 12h1.6v1.2h-1.6zM83 12h1.6v1.2h-1.6zM91 12h1.6v1.2h-1.6zM95 12h1.6v1.2h-1.6zM11 13h1.6v1.2h-1.6zM18 13h1.6v1.2h-1.6zM36 13h2.6v1.2h-2.6zM47 13h1.6v1.2h-1.6zM72 13h1.6v1.2h-1.6zM79 13h1.6v1.2h-1.6zM110 13h1.6v1.2h-1.6zM30 14h1.6v1.2h-1.6zM35 14h1.6v1.2h-1.6zM39 14h1.6v1.2h-1.6zM41 14h1.6v1.2h-1.6zM45 14h2.6v1.2h-2.6zM80 14h1.6v1.2h-1.6zM91 14h1.6v1.2h-1.6zM96 14h1.6v1.2h-1.6zM7 15h1.6v1.2h-1.6zM11 15h1.6v1.2h-1.6zM20 15h1.6v1.2h-1.6zM45 15h1.6v1.2h-1.6zM49 15h1.6v1.2h-1.6zM82 15h1.6v1.2h-1.6zM101 15h1.6v1.2h-1.6zM110 15h1.6v1.2h-1.6zM30 16h1.6v1.2h-1.6zM92 16h2.6v1.2h-2.6zM95 16h1.6v1.2h-1.6zM110 16h1.6v1.2h-1.6zM0 17h1.6v1.2h-1.6zM3 17h1.6v1.2h-1.6zM46 17h1.6v1.2h-1.6zM62 17h1.6v1.2h-1.6zM91 17h1.6v1.2h-1.6zM107 17h1.6v1.2h-1.6zM111 17h1.6v1.2h-1.6zM6 18h1.6v1.2h-1.6zM39 18h1.6v1.2h-1.6zM47 18h1.6v1.2h-1.6zM73 18h1.6v1.2h-1.6zM84 18h1.6v1.2h-1.6zM112 18h1.6v1.2h-1.6zM15 19h1.6v1.2h-1.6zM32 19h1.6v1.2h-1.6zM42 19h1.6v1.2h-1.6zM78 19h1.6v1.2h-1.6zM94 19h3.6v1.2h-3.6zM111 19h1.6v1.2h-1.6zM21 20h1.6v1.2h-1.6zM29 20h1.6v1.2h-1.6zM37 20h1.6v1.2h-1.6zM47 20h1.6v1.2h-1.6zM54 20h1.6v1.2h-1.6zM59 20h1.6v1.2h-1.6zM64 20h2.6v1.2h-2.6zM67 20h1.6v1.2h-1.6zM107 20h1.6v1.2h-1.6zM111 20h1.6v1.2h-1.6zM2 21h1.6v1.2h-1.6zM10 21h1.6v1.2h-1.6zM13 21h1.6v1.2h-1.6zM18 21h1.6v1.2h-1.6zM26 21h1.6v1.2h-1.6zM52 21h1.6v1.2h-1.6zM62 21h1.6v1.2h-1.6zM66 21h1.6v1.2h-1.6zM103 21h1.6v1.2h-1.6zM109 21h1.6v1.2h-1.6zM115 21h1.6v1.2h-1.6zM8 22h2.6v1.2h-2.6zM12 22h1.6v1.2h-1.6zM15 22h1.6v1.2h-1.6zM21 22h1.6v1.2h-1.6zM27 22h1.6v1.2h-1.6zM46 22h1.6v1.2h-1.6zM52 22h1.6v1.2h-1.6zM63 22h1.6v1.2h-1.6zM65 22h1.6v1.2h-1.6zM3 23h1.6v1.2h-1.6zM32 23h1.6v1.2h-1.6zM40 23h1.6v1.2h-1.6zM0 24h1.6v1.2h-1.6zM9 24h1.6v1.2h-1.6zM22 24h1.6v1.2h-1.6zM28 24h1.6v1.2h-1.6zM32 24h1.6v1.2h-1.6zM46 24h1.6v1.2h-1.6zM68 24h1.6v1.2h-1.6zM104 24h1.6v1.2h-1.6zM115 24h1.6v1.2h-1.6zM12 25h1.6v1.2h-1.6zM15 25h1.6v1.2h-1.6zM41 25h1.6v1.2h-1.6zM60 25h1.6v1.2h-1.6zM105 25h1.6v1.2h-1.6zM5 26h1.6v1.2h-1.6zM48 26h1.6v1.2h-1.6zM77 26h1.6v1.2h-1.6zM79 26h1.6v1.2h-1.6zM93 26h1.6v1.2h-1.6zM4 27h1.6v1.2h-1.6zM27 27h1.6v1.2h-1.6zM36 27h1.6v1.2h-1.6zM39 27h3.6v1.2h-3.6zM48 27h1.6v1.2h-1.6zM91 27h1.6v1.2h-1.6zM112 27h1.6v1.2h-1.6zM115 27h2v1.2h-2zM1 28h1.6v1.2h-1.6zM3 28h1.6v1.2h-1.6zM11 28h1.6v1.2h-1.6zM16 28h1.6v1.2h-1.6zM66 28h1.6v1.2h-1.6zM68 28h1.6v1.2h-1.6zM80 28h1.6v1.2h-1.6zM82 28h1.6v1.2h-1.6zM4 29h1.6v1.2h-1.6zM27 29h1.6v1.2h-1.6zM35 29h1.6v1.2h-1.6zM42 29h1.6v1.2h-1.6zM60 29h1.6v1.2h-1.6zM66 29h2.6v1.2h-2.6zM114 29h1.6v1.2h-1.6zM3 30h1.6v1.2h-1.6zM9 30h1.6v1.2h-1.6zM21 30h1.6v1.2h-1.6zM29 30h1.6v1.2h-1.6zM33 30h1.6v1.2h-1.6zM38 30h1.6v1.2h-1.6zM40 30h1.6v1.2h-1.6zM87 30h1.6v1.2h-1.6zM94 30h1.6v1.2h-1.6zM96 30h1.6v1.2h-1.6zM109 30h1.6v1.2h-1.6zM1 31h1.6v1.2h-1.6zM6 31h1.6v1.2h-1.6zM9 31h1.6v1.2h-1.6zM11 31h2.6v1.2h-2.6zM48 31h1.6v1.2h-1.6zM54 31h1.6v1.2h-1.6zM90 31h1.6v1.2h-1.6zM97 31h1.6v1.2h-1.6zM31 32h1.6v1.2h-1.6zM34 32h1.6v1.2h-1.6zM37 32h1.6v1.2h-1.6zM50 32h1.6v1.2h-1.6zM32 33h1.6v1.2h-1.6zM37 33h1.6v1.2h-1.6zM45 33h1.6v1.2h-1.6zM73 33h1.6v1.2h-1.6zM81 33h1.6v1.2h-1.6zM31 34h2.6v1.2h-2.6zM46 34h1.6v1.2h-1.6zM72 34h1.6v1.2h-1.6zM87 34h1.6v1.2h-1.6zM93 34h1.6v1.2h-1.6zM105 34h1.6v1.2h-1.6zM112 34h1.6v1.2h-1.6zM34 35h2.6v1h-2.6zM37 35h1.6v1h-1.6zM39 35h1.6v1h-1.6zM60 35h1.6v1h-1.6zM89 35h1.6v1h-1.6zM98 35h1.6v1h-1.6zM103 35h1.6v1h-1.6zM110 35h1.6v1h-1.6z"/>
<path fill="#03759d" d="M47 0h1.6v1.2h-1.6zM63 0h1.6v1.2h-1.6zM110 0h1.6v1.2h-1.6zM43 1h1.6v1.2h-1.6zM54 1h1.6v1.2h-1.6zM56 1h1.6v1.2h-1.6zM69 1h1.6v1.2h-1.6zM37 2h1.6v1.2h-1.6zM42 2h1.6v1.2h-1.6zM44 2h1.6v1.2h-1.6zM50 2h1.6v1.2h-1.6zM69 2h1.6v1.2h-1.6zM32 4h2.6v1.2h-2.6zM44 4h1.6v1.2h-1.6zM50 4h1.6v1.2h-1.6zM3 5h1.6v1.2h-1.6zM6 5h1.6v1.2h-1.6zM40 5h1.6v1.2h-1.6zM48 5h1.6v1.2h-1.6zM95 5h1.6v1.2h-1.6zM6 6h1.6v1.2h-1.6zM14 6h1.6v1.2h-1.6zM33 6h1.6v1.2h-1.6zM44 6h1.6v1.2h-1.6zM43 7h1.6v1.2h-1.6zM45 7h1.6v1.2h-1.6zM54 7h1.6v1.2h-1.6zM106 7h1.6v1.2h-1.6zM48 8h1.6v1.2h-1.6zM61 8h1.6v1.2h-1.6zM71 8h1.6v1.2h-1.6zM74 8h1.6v1.2h-1.6zM86 8h1.6v1.2h-1.6zM35 9h1.6v1.2h-1.6zM48 9h1.6v1.2h-1.6zM61 9h1.6v1.2h-1.6zM92 9h1.6v1.2h-1.6zM102 9h1.6v1.2h-1.6zM107 9h1.6v1.2h-1.6zM0 10h2.6v1.2h-2.6zM3 10h2.6v1.2h-2.6zM7 10h1.6v1.2h-1.6zM12 10h2.6v1.2h-2.6zM18 10h1.6v1.2h-1.6zM21 10h1.6v1.2h-1.6zM24 10h1.6v1.2h-1.6zM28 10h1.6v1.2h-1.6zM32 10h1.6v1.2h-1.6zM35 10h1.6v1.2h-1.6zM39 10h3.6v1.2h-3.6zM43 10h3.6v1.2h-3.6zM48 10h1.6v1.2h-1.6zM50 10h1.6v1.2h-1.6zM67 10h1.6v1.2h-1.6zM72 10h1.6v1.2h-1.6zM74 10h2.6v1.2h-2.6zM78 10h1.6v1.2h-1.6zM80 10h2.6v1.2h-2.6zM83 10h3.6v1.2h-3.6zM88 10h3.6v1.2h-3.6zM93 10h1.6v1.2h-1.6zM95 10h2.6v1.2h-2.6zM98 10h1.6v1.2h-1.6zM101 10h2.6v1.2h-2.6zM107 10h2.6v1.2h-2.6zM112 10h1.6v1.2h-1.6zM1 11h2.6v1.2h-2.6zM4 11h1.6v1.2h-1.6zM9 11h3.6v1.2h-3.6zM15 11h1.6v1.2h-1.6zM18 11h4.6v1.2h-4.6zM26 11h1.6v1.2h-1.6zM33 11h2.6v1.2h-2.6zM37 11h3.6v1.2h-3.6zM41 11h1.6v1.2h-1.6zM45 11h1.6v1.2h-1.6zM51 11h1.6v1.2h-1.6zM72 11h1.6v1.2h-1.6zM75 11h2.6v1.2h-2.6zM78 11h1.6v1.2h-1.6zM83 11h1.6v1.2h-1.6zM87 11h1.6v1.2h-1.6zM89 11h1.6v1.2h-1.6zM91 11h1.6v1.2h-1.6zM96 11h2.6v1.2h-2.6zM99 11h2.6v1.2h-2.6zM104 11h1.6v1.2h-1.6zM107 11h1.6v1.2h-1.6zM109 11h2.6v1.2h-2.6zM0 12h2.6v1.2h-2.6zM5 12h3.6v1.2h-3.6zM9 12h1.6v1.2h-1.6zM16 12h1.6v1.2h-1.6zM22 12h2.6v1.2h-2.6zM27 12h1.6v1.2h-1.6zM31 12h1.6v1.2h-1.6zM33 12h2.6v1.2h-2.6zM37 12h1.6v1.2h-1.6zM40 12h2.6v1.2h-2.6zM43 12h1.6v1.2h-1.6zM51 12h1.6v1.2h-1.6zM60 12h1.6v1.2h-1.6zM72 12h1.6v1.2h-1.6zM78 12h1.6v1.2h-1.6zM84 12h3.6v1.2h-3.6zM89 12h2.6v1.2h-2.6zM92 12h2.6v1.2h-2.6zM96 12h1.6v1.2h-1.6zM98 12h1.6v1.2h-1.6zM100 12h1.6v1.2h-1.6zM1 13h1.6v1.2h-1.6zM3 13h3.6v1.2h-3.6zM10 13h1.6v1.2h-1.6zM16 13h2.6v1.2h-2.6zM20 13h2.6v1.2h-2.6zM23 13h2.6v1.2h-2.6zM32 13h1.6v1.2h-1.6zM34 13h2.6v1.2h-2.6zM40 13h2.6v1.2h-2.6zM43 13h1.6v1.2h-1.6zM45 13h1.6v1.2h-1.6zM51 13h1.6v1.2h-1.6zM60 13h1.6v1.2h-1.6zM66 13h2.6v1.2h-2.6zM73 13h6.6v1.2h-6.6zM81 13h3.6v1.2h-3.6zM85 13h3.6v1.2h-3.6zM89 13h1.6v1.2h-1.6zM92 13h1.6v1.2h-1.6zM95 13h1.6v1.2h-1.6zM98 13h1.6v1.2h-1.6zM103 13h1.6v1.2h-1.6zM105 13h3.6v1.2h-3.6zM111 13h1.6v1.2h-1.6zM0 14h4.6v1.2h-4.6zM6 14h1.6v1.2h-1.6zM11 14h1.6v1.2h-1.6zM13 14h1.6v1.2h-1.6zM15 14h7.6v1.2h-7.6zM24 14h1.6v1.2h-1.6zM27 14h2.6v1.2h-2.6zM31 14h1.6v1.2h-1.6zM40 14h1.6v1.2h-1.6zM42 14h1.6v1.2h-1.6zM48 14h1.6v1.2h-1.6zM50 14h2.6v1.2h-2.6zM74 14h2.6v1.2h-2.6zM77 14h3.6v1.2h-3.6zM81 14h2.6v1.2h-2.6zM85 14h2.6v1.2h-2.6zM90 14h1.6v1.2h-1.6zM92 14h3.6v1.2h-3.6zM97 14h1.6v1.2h-1.6zM101 14h2.6v1.2h-2.6zM105 14h2.6v1.2h-2.6zM108 14h2.6v1.2h-2.6zM0 15h1.6v1.2h-1.6zM3 15h3.6v1.2h-3.6zM10 15h1.6v1.2h-1.6zM13 15h1.6v1.2h-1.6zM15 15h2.6v1.2h-2.6zM19 15h1.6v1.2h-1.6zM24 15h1.6v1.2h-1.6zM26 15h1.6v1.2h-1.6zM28 15h1.6v1.2h-1.6zM30 15h2.6v1.2h-2.6zM34 15h2.6v1.2h-2.6zM37 15h1.6v1.2h-1.6zM41 15h2.6v1.2h-2.6zM44 15h1.6v1.2h-1.6zM46 15h2.6v1.2h-2.6zM51 15h1.6v1.2h-1.6zM74 15h2.6v1.2h-2.6zM84 15h1.6v1.2h-1.6zM86 15h3.6v1.2h-3.6zM92 15h2.6v1.2h-2.6zM96 15h1.6v1.2h-1.6zM103 15h2.6v1.2h-2.6zM107 15h3.6v1.2h-3.6zM0 16h1.6v1.2h-1.6zM2 16h1.6v1.2h-1.6zM5 16h1.6v1.2h-1.6zM7 16h2.6v1.2h-2.6zM10 16h1.6v1.2h-1.6zM12 16h1.6v1.2h-1.6zM15 16h1.6v1.2h-1.6zM18 16h1.6v1.2h-1.6zM22 16h1.6v1.2h-1.6zM24 16h1.6v1.2h-1.6zM26 16h2.6v1.2h-2.6zM29 16h1.6v1.2h-1.6zM31 16h2.6v1.2h-2.6zM35 16h1.6v1.2h-1.6zM37 16h1.6v1.2h-1.6zM41 16h1.6v1.2h-1.6zM44 16h1.6v1.2h-1.6zM47 16h1.6v1.2h-1.6zM72 16h2.6v1.2h-2.6zM75 16h1.6v1.2h-1.6zM77 16h1.6v1.2h-1.6zM80 16h4.6v1.2h-4.6zM86 16h3.6v1.2h-3.6zM90 16h1.6v1.2h-1.6zM94 16h1.6v1.2h-1.6zM96 16h2.6v1.2h-2.6zM106 16h3.6v1.2h-3.6zM112 16h1.6v1.2h-1.6zM5 17h1.6v1.2h-1.6zM7 17h1.6v1.2h-1.6zM11 17h1.6v1.2h-1.6zM16 17h1.6v1.2h-1.6zM22 17h1.6v1.2h-1.6zM24 17h1.6v1.2h-1.6zM27 17h3.6v1.2h-3.6zM31 17h1.6v1.2h-1.6zM34 17h2.6v1.2h-2.6zM41 17h1.6v1.2h-1.6zM44 17h2.6v1.2h-2.6zM51 17h1.6v1.2h-1.6zM60 17h1.6v1.2h-1.6zM73 17h6.6v1.2h-6.6zM80 17h4.6v1.2h-4.6zM87 17h1.6v1.2h-1.6zM90 17h1.6v1.2h-1.6zM98 17h1.6v1.2h-1.6zM101 17h1.6v1.2h-1.6zM105 17h2.6v1.2h-2.6zM108 17h2.6v1.2h-2.6zM112 17h1.6v1.2h-1.6zM0 18h2.6v1.2h-2.6zM4 18h1.6v1.2h-1.6zM7 18h1.6v1.2h-1.6zM9 18h1.6v1.2h-1.6zM11 18h4.6v1.2h-4.6zM19 18h1.6v1.2h-1.6zM23 18h2.6v1.2h-2.6zM28 18h2.6v1.2h-2.6zM32 18h2.6v1.2h-2.6zM35 18h1.6v1.2h-1.6zM38 18h1.6v1.2h-1.6zM41 18h3.6v1.2h-3.6zM46 18h1.6v1.2h-1.6zM49 18h1.6v1.2h-1.6zM51 18h1.6v1.2h-1.6zM61 18h1.6v1.2h-1.6zM72 18h1.6v1.2h-1.6zM75 18h1.6v1.2h-1.6zM77 18h5.6v1.2h-5.6zM83 18h1.6v1.2h-1.6zM86 18h2.6v1.2h-2.6zM89 18h3.6v1.2h-3.6zM93 18h1.6v1.2h-1.6zM96 18h2.6v1.2h-2.6zM99 18h2.6v1.2h-2.6zM104 18h4.6v1.2h-4.6zM109 18h2.6v1.2h-2.6zM4 19h1.6v1.2h-1.6zM6 19h1.6v1.2h-1.6zM9 19h2.6v1.2h-2.6zM12 19h2.6v1.2h-2.6zM16 19h1.6v1.2h-1.6zM19 19h1.6v1.2h-1.6zM21 19h1.6v1.2h-1.6zM24 19h1.6v1.2h-1.6zM27 19h1.6v1.2h-1.6zM29 19h1.6v1.2h-1.6zM31 19h1.6v1.2h-1.6zM33 19h2.6v1.2h-2.6zM38 19h3.6v1.2h-3.6zM46 19h1.6v1.2h-1.6zM49 19h1.6v1.2h-1.6zM51 19h1.6v1.2h-1.6zM72 19h1.6v1.2h-1.6zM75 19h1.6v1.2h-1.6zM79 19h1.6v1.2h-1.6zM81 19h1.6v1.2h-1.6zM83 19h4.6v1.2h-4.6zM88 19h1.6v1.2h-1.6zM90 19h4.6v1.2h-4.6zM98 19h2.6v1.2h-2.6zM102 19h1.6v1.2h-1.6zM105 19h1.6v1.2h-1.6zM109 19h1.6v1.2h-1.6zM112 19h1.6v1.2h-1.6zM1 20h4.6v1.2h-4.6zM9 20h2.6v1.2h-2.6zM12 20h1.6v1.2h-1.6zM14 20h2.6v1.2h-2.6zM24 20h3.6v1.2h-3.6zM28 20h1.6v1.2h-1.6zM30 20h3.6v1.2h-3.6zM34 20h2.6v1.2h-2.6zM42 20h1.6v1.2h-1.6zM44 20h3.6v1.2h-3.6zM52 20h2.6v1.2h-2.6zM57 20h2.6v1.2h-2.6zM61 20h1.6v1.2h-1.6zM70 20h1.6v1.2h-1.6zM72 20h1.6v1.2h-1.6zM74 20h1.6v1.2h-1.6zM90 20h2.6v1.2h-2.6zM105 20h2.6v1.2h-2.6zM109 20h2.6v1.2h-2.6zM112 20h1.6v1.2h-1.6zM114 20h3v1.2h-3zM1 21h1.6v1.2h-1.6zM3 21h6.6v1.2h-6.6zM14 21h1.6v1.2h-1.6zM20 21h1.6v1.2h-1.6zM22 21h1.6v1.2h-1.6zM28 21h2.6v1.2h-2.6zM31 21h1.6v1.2h-1.6zM33 21h1.6v1.2h-1.6zM36 21h1.6v1.2h-1.6zM39 21h1.6v1.2h-1.6zM42 21h2.6v1.2h-2.6zM45 21h2.6v1.2h-2.6zM53 21h1.6v1.2h-1.6zM64 21h1.6v1.2h-1.6zM67 21h2.6v1.2h-2.6zM71 21h2.6v1.2h-2.6zM74 21h1.6v1.2h-1.6zM89 21h3.6v1.2h-3.6zM101 21h1.6v1.2h-1.6zM106 21h3.6v1.2h-3.6zM112 21h1.6v1.2h-1.6zM114 21h1.6v1.2h-1.6zM2 22h1.6v1.2h-1.6zM4 22h1.6v1.2h-1.6zM7 22h1.6v1.2h-1.6zM10 22h1.6v1.2h-1.6zM13 22h1.6v1.2h-1.6zM23 22h1.6v1.2h-1.6zM25 22h1.6v1.2h-1.6zM30 22h1.6v1.2h-1.6zM36 22h3.6v1.2h-3.6zM43 22h2.6v1.2h-2.6zM49 22h1.6v1.2h-1.6zM51 22h1.6v1.2h-1.6zM53 22h1.6v1.2h-1.6zM57 22h2.6v1.2h-2.6zM61 22h2.6v1.2h-2.6zM70 22h1.6v1.2h-1.6zM89 22h2.6v1.2h-2.6zM104 22h3.6v1.2h-3.6zM108 22h3.6v1.2h-3.6zM0 23h2.6v1.2h-2.6zM5 23h2.6v1.2h-2.6zM8 23h6.6v1.2h-6.6zM15 23h1.6v1.2h-1.6zM17 23h1.6v1.2h-1.6zM19 23h2.6v1.2h-2.6zM22 23h1.6v1.2h-1.6zM25 23h2.6v1.2h-2.6zM29 23h3.6v1.2h-3.6zM33 23h2.6v1.2h-2.6zM37 23h3.6v1.2h-3.6zM41 23h1.6v1.2h-1.6zM45 23h1.6v1.2h-1.6zM57 23h3.6v1.2h-3.6zM61 23h1.6v1.2h-1.6zM63 23h2.6v1.2h-2.6zM66 23h1.6v1.2h-1.6zM68 23h2.6v1.2h-2.6zM71 23h1.6v1.2h-1.6zM89 23h2.6v1.2h-2.6zM105 23h1.6v1.2h-1.6zM110 23h2.6v1.2h-2.6zM114 23h1.6v1.2h-1.6zM116 23h1v1.2h-1zM1 24h1.6v1.2h-1.6zM5 24h2.6v1.2h-2.6zM11 24h1.6v1.2h-1.6zM17 24h2.6v1.2h-2.6zM26 24h1.6v1.2h-1.6zM29 24h1.6v1.2h-1.6zM36 24h1.6v1.2h-1.6zM38 24h1.6v1.2h-1.6zM41 24h1.6v1.2h-1.6zM43 24h1.6v1.2h-1.6zM49 24h5.6v1.2h-5.6zM64 24h2.6v1.2h-2.6zM72 24h1.6v1.2h-1.6zM89 24h1.6v1.2h-1.6zM107 24h2.6v1.2h-2.6zM111 24h1.6v1.2h-1.6zM113 24h1.6v1.2h-1.6zM1 25h1.6v1.2h-1.6zM3 25h1.6v1.2h-1.6zM7 25h1.6v1.2h-1.6zM9 25h1.6v1.2h-1.6zM13 25h1.6v1.2h-1.6zM16 25h1.6v1.2h-1.6zM19 25h1.6v1.2h-1.6zM22 25h1.6v1.2h-1.6zM25 25h1.6v1.2h-1.6zM29 25h2.6v1.2h-2.6zM32 25h1.6v1.2h-1.6zM37 25h1.6v1.2h-1.6zM39 25h2.6v1.2h-2.6zM42 25h1.6v1.2h-1.6zM48 25h1.6v1.2h-1.6zM52 25h3.6v1.2h-3.6zM57 25h2.6v1.2h-2.6zM61 25h3.6v1.2h-3.6zM69 25h1.6v1.2h-1.6zM74 25h1.6v1.2h-1.6zM89 25h2.6v1.2h-2.6zM107 25h2.6v1.2h-2.6zM111 25h1.6v1.2h-1.6zM113 25h1.6v1.2h-1.6zM116 25h1v1.2h-1zM0 26h1.6v1.2h-1.6zM4 26h1.6v1.2h-1.6zM6 26h2.6v1.2h-2.6zM15 26h1.6v1.2h-1.6zM20 26h1.6v1.2h-1.6zM25 26h2.6v1.2h-2.6zM31 26h2.6v1.2h-2.6zM34 26h1.6v1.2h-1.6zM36 26h1.6v1.2h-1.6zM38 26h1.6v1.2h-1.6zM41 26h1.6v1.2h-1.6zM43 26h1.6v1.2h-1.6zM45 26h1.6v1.2h-1.6zM47 26h1.6v1.2h-1.6zM49 26h1.6v1.2h-1.6zM51 26h2.6v1.2h-2.6zM54 26h1.6v1.2h-1.6zM57 26h2.6v1.2h-2.6zM61 26h4.6v1.2h-4.6zM68 26h2.6v1.2h-2.6zM71 26h2.6v1.2h-2.6zM74 26h2.6v1.2h-2.6zM82 26h1.6v1.2h-1.6zM84 26h1.6v1.2h-1.6zM90 26h3.6v1.2h-3.6zM115 26h2v1.2h-2zM0 27h1.6v1.2h-1.6zM2 27h2.6v1.2h-2.6zM7 27h2.6v1.2h-2.6zM11 27h1.6v1.2h-1.6zM22 27h1.6v1.2h-1.6zM25 27h2.6v1.2h-2.6zM28 27h1.6v1.2h-1.6zM31 27h1.6v1.2h-1.6zM37 27h2.6v1.2h-2.6zM42 27h1.6v1.2h-1.6zM45 27h3.6v1.2h-3.6zM49 27h3.6v1.2h-3.6zM53 27h1.6v1.2h-1.6zM55 27h1.6v1.2h-1.6zM57 27h1.6v1.2h-1.6zM60 27h4.6v1.2h-4.6zM65 27h2.6v1.2h-2.6zM69 27h1.6v1.2h-1.6zM89 27h2.6v1.2h-2.6zM94 27h1.6v1.2h-1.6zM97 27h1.6v1.2h-1.6zM99 27h1.6v1.2h-1.6zM101 27h3.6v1.2h-3.6zM107 27h1.6v1.2h-1.6zM110 27h2.6v1.2h-2.6zM4 28h2.6v1.2h-2.6zM12 28h2.6v1.2h-2.6zM19 28h2.6v1.2h-2.6zM22 28h1.6v1.2h-1.6zM27 28h1.6v1.2h-1.6zM33 28h1.6v1.2h-1.6zM37 28h2.6v1.2h-2.6zM40 28h1.6v1.2h-1.6zM42 28h2.6v1.2h-2.6zM49 28h1.6v1.2h-1.6zM51 28h2.6v1.2h-2.6zM55 28h1.6v1.2h-1.6zM57 28h1.6v1.2h-1.6zM60 28h1.6v1.2h-1.6zM62 28h1.6v1.2h-1.6zM65 28h1.6v1.2h-1.6zM67 28h1.6v1.2h-1.6zM70 28h2.6v1.2h-2.6zM74 28h1.6v1.2h-1.6zM77 28h1.6v1.2h-1.6zM86 28h2.6v1.2h-2.6zM114 28h1.6v1.2h-1.6zM116 28h1v1.2h-1zM0 29h1.6v1.2h-1.6zM6 29h2.6v1.2h-2.6zM9 29h3.6v1.2h-3.6zM13 29h4.6v1.2h-4.6zM19 29h1.6v1.2h-1.6zM24 29h1.6v1.2h-1.6zM31 29h1.6v1.2h-1.6zM37 29h1.6v1.2h-1.6zM40 29h2.6v1.2h-2.6zM46 29h1.6v1.2h-1.6zM51 29h2.6v1.2h-2.6zM55 29h1.6v1.2h-1.6zM58 29h2.6v1.2h-2.6zM64 29h2.6v1.2h-2.6zM70 29h2.6v1.2h-2.6zM73 29h1.6v1.2h-1.6zM76 29h1.6v1.2h-1.6zM78 29h2.6v1.2h-2.6zM82 29h2.6v1.2h-2.6zM85 29h1.6v1.2h-1.6zM88 29h1.6v1.2h-1.6zM106 29h1.6v1.2h-1.6zM109 29h1.6v1.2h-1.6zM112 29h2.6v1.2h-2.6zM5 30h2.6v1.2h-2.6zM10 30h1.6v1.2h-1.6zM13 30h1.6v1.2h-1.6zM16 30h1.6v1.2h-1.6zM22 30h1.6v1.2h-1.6zM24 30h2.6v1.2h-2.6zM27 30h2.6v1.2h-2.6zM31 30h1.6v1.2h-1.6zM39 30h1.6v1.2h-1.6zM43 30h2.6v1.2h-2.6zM48 30h1.6v1.2h-1.6zM50 30h1.6v1.2h-1.6zM53 30h2.6v1.2h-2.6zM57 30h2.6v1.2h-2.6zM60 30h1.6v1.2h-1.6zM63 30h1.6v1.2h-1.6zM67 30h1.6v1.2h-1.6zM71 30h2.6v1.2h-2.6zM74 30h6.6v1.2h-6.6zM81 30h2.6v1.2h-2.6zM84 30h1.6v1.2h-1.6zM88 30h2.6v1.2h-2.6zM92 30h2.6v1.2h-2.6zM95 30h1.6v1.2h-1.6zM97 30h1.6v1.2h-1.6zM103 30h1.6v1.2h-1.6zM108 30h1.6v1.2h-1.6zM112 30h1.6v1.2h-1.6zM2 31h4.6v1.2h-4.6zM7 31h1.6v1.2h-1.6zM10 31h1.6v1.2h-1.6zM15 31h1.6v1.2h-1.6zM19 31h1.6v1.2h-1.6zM21 31h2.6v1.2h-2.6zM24 31h1.6v1.2h-1.6zM26 31h3.6v1.2h-3.6zM34 31h3.6v1.2h-3.6zM44 31h1.6v1.2h-1.6zM47 31h1.6v1.2h-1.6zM49 31h5.6v1.2h-5.6zM61 31h1.6v1.2h-1.6zM67 31h1.6v1.2h-1.6zM72 31h2.6v1.2h-2.6zM75 31h1.6v1.2h-1.6zM77 31h1.6v1.2h-1.6zM79 31h2.6v1.2h-2.6zM82 31h2.6v1.2h-2.6zM85 31h1.6v1.2h-1.6zM88 31h2.6v1.2h-2.6zM91 31h1.6v1.2h-1.6zM96 31h1.6v1.2h-1.6zM101 31h1.6v1.2h-1.6zM103 31h3.6v1.2h-3.6zM110 31h2.6v1.2h-2.6zM6 32h6.6v1.2h-6.6zM15 32h1.6v1.2h-1.6zM17 32h2.6v1.2h-2.6zM24 32h3.6v1.2h-3.6zM28 32h3.6v1.2h-3.6zM36 32h1.6v1.2h-1.6zM38 32h1.6v1.2h-1.6zM42 32h2.6v1.2h-2.6zM49 32h1.6v1.2h-1.6zM55 32h1.6v1.2h-1.6zM72 32h1.6v1.2h-1.6zM79 32h3.6v1.2h-3.6zM86 32h3.6v1.2h-3.6zM90 32h3.6v1.2h-3.6zM95 32h3.6v1.2h-3.6zM104 32h1.6v1.2h-1.6zM108 32h1.6v1.2h-1.6zM110 32h3.6v1.2h-3.6zM0 33h1.6v1.2h-1.6zM4 33h1.6v1.2h-1.6zM7 33h3.6v1.2h-3.6zM11 33h1.6v1.2h-1.6zM15 33h1.6v1.2h-1.6zM21 33h3.6v1.2h-3.6zM25 33h1.6v1.2h-1.6zM27 33h5.6v1.2h-5.6zM33 33h1.6v1.2h-1.6zM35 33h2.6v1.2h-2.6zM38 33h1.6v1.2h-1.6zM40 33h1.6v1.2h-1.6zM42 33h1.6v1.2h-1.6zM46 33h1.6v1.2h-1.6zM48 33h1.6v1.2h-1.6zM50 33h2.6v1.2h-2.6zM53 33h2.6v1.2h-2.6zM67 33h1.6v1.2h-1.6zM75 33h1.6v1.2h-1.6zM77 33h3.6v1.2h-3.6zM83 33h1.6v1.2h-1.6zM89 33h2.6v1.2h-2.6zM93 33h1.6v1.2h-1.6zM95 33h2.6v1.2h-2.6zM103 33h1.6v1.2h-1.6zM106 33h1.6v1.2h-1.6zM108 33h1.6v1.2h-1.6zM0 34h2.6v1.2h-2.6zM3 34h6.6v1.2h-6.6zM14 34h4.6v1.2h-4.6zM26 34h1.6v1.2h-1.6zM28 34h1.6v1.2h-1.6zM30 34h1.6v1.2h-1.6zM35 34h2.6v1.2h-2.6zM38 34h1.6v1.2h-1.6zM45 34h1.6v1.2h-1.6zM48 34h1.6v1.2h-1.6zM50 34h2.6v1.2h-2.6zM53 34h2.6v1.2h-2.6zM62 34h1.6v1.2h-1.6zM66 34h1.6v1.2h-1.6zM73 34h1.6v1.2h-1.6zM77 34h1.6v1.2h-1.6zM81 34h3.6v1.2h-3.6zM91 34h1.6v1.2h-1.6zM95 34h3.6v1.2h-3.6zM99 34h1.6v1.2h-1.6zM104 34h1.6v1.2h-1.6zM106 34h1.6v1.2h-1.6zM108 34h3.6v1.2h-3.6zM1 35h1.6v1h-1.6zM4 35h2.6v1h-2.6zM7 35h2.6v1h-2.6zM11 35h1.6v1h-1.6zM13 35h1.6v1h-1.6zM18 35h1.6v1h-1.6zM20 35h1.6v1h-1.6zM22 35h1.6v1h-1.6zM24 35h1.6v1h-1.6zM26 35h1.6v1h-1.6zM29 35h1.6v1h-1.6zM32 35h2.6v1h-2.6zM36 35h1.6v1h-1.6zM40 35h1.6v1h-1.6zM42 35h2.6v1h-2.6zM45 35h1.6v1h-1.6zM47 35h2.6v1h-2.6zM51 35h1.6v1h-1.6zM56 35h1.6v1h-1.6zM59 35h1.6v1h-1.6zM61 35h1.6v1h-1.6zM64 35h1.6v1h-1.6zM66 35h1.6v1h-1.6zM68 35h1.6v1h-1.6zM71 35h1.6v1h-1.6zM73 35h1.6v1h-1.6zM75 35h2.6v1h-2.6zM79 35h2.6v1h-2.6zM84 35h2.6v1h-2.6zM87 35h2.6v1h-2.6zM90 35h3.6v1h-3.6zM94 35h1.6v1h-1.6zM96 35h2.6v1h-2.6zM101 35h2.6v1h-2.6zM104 35h2.6v1h-2.6zM107 35h1.6v1h-1.6zM109 35h1.6v1h-1.6zM111 35h2.6v1h-2.6z"/>
<path fill="#027b99" d="M67 0h1.6v1.2h-1.6zM109 0h1.6v1.2h-1.6zM36 1h1.6v1.2h-1.6zM42 1h1.6v1.2h-1.6zM44 1h2.6v1.2h-2.6zM48 2h1.6v1.2h-1.6zM44 3h1.6v1.2h-1.6zM48 3h1.6v1.2h-1.6zM69 3h1.6v1.2h-1.6zM40 4h1.6v1.2h-1.6zM48 4h1.6v1.2h-1.6zM12 5h1.6v1.2h-1.6zM47 5h1.6v1.2h-1.6zM12 6h1.6v1.2h-1.6zM17 6h1.6v1.2h-1.6zM30 6h1.6v1.2h-1.6zM47 6h1.6v1.2h-1.6zM58 6h1.6v1.2h-1.6zM44 7h1.6v1.2h-1.6zM69 7h1.6v1.2h-1.6zM74 7h1.6v1.2h-1.6zM77 7h2.6v1.2h-2.6zM99 7h1.6v1.2h-1.6zM102 7h1.6v1.2h-1.6zM105 7h1.6v1.2h-1.6zM108 7h1.6v1.2h-1.6zM40 8h1.6v1.2h-1.6zM42 8h1.6v1.2h-1.6zM44 8h1.6v1.2h-1.6zM50 8h1.6v1.2h-1.6zM52 8h1.6v1.2h-1.6zM69 8h1.6v1.2h-1.6zM90 8h1.6v1.2h-1.6zM96 8h1.6v1.2h-1.6zM40 9h2.6v1.2h-2.6zM67 9h1.6v1.2h-1.6zM70 9h1.6v1.2h-1.6zM108 9h1.6v1.2h-1.6zM2 10h1.6v1.2h-1.6zM5 10h1.6v1.2h-1.6zM8 10h3.6v1.2h-3.6zM15 10h3.6v1.2h-3.6zM19 10h2.6v1.2h-2.6zM23 10h1.6v1.2h-1.6zM25 10h3.6v1.2h-3.6zM29 10h1.6v1.2h-1.6zM31 10h1.6v1.2h-1.6zM33 10h1.6v1.2h-1.6zM36 10h1.6v1.2h-1.6zM38 10h1.6v1.2h-1.6zM46 10h2.6v1.2h-2.6zM49 10h1.6v1.2h-1.6zM51 10h1.6v1.2h-1.6zM73 10h1.6v1.2h-1.6zM76 10h2.6v1.2h-2.6zM82 10h1.6v1.2h-1.6zM86 10h2.6v1.2h-2.6zM91 10h2.6v1.2h-2.6zM94 10h1.6v1.2h-1.6zM97 10h1.6v1.2h-1.6zM99 10h2.6v1.2h-2.6zM104 10h3.6v1.2h-3.6zM109 10h1.6v1.2h-1.6zM111 10h1.6v1.2h-1.6zM0 11h1.6v1.2h-1.6zM5 11h4.6v1.2h-4.6zM13 11h2.6v1.2h-2.6zM16 11h2.6v1.2h-2.6zM22 11h4.6v1.2h-4.6zM27 11h2.6v1.2h-2.6zM30 11h2.6v1.2h-2.6zM35 11h1.6v1.2h-1.6zM42 11h3.6v1.2h-3.6zM47 11h2.6v1.2h-2.6zM50 11h1.6v1.2h-1.6zM61 11h1.6v1.2h-1.6zM74 11h1.6v1.2h-1.6zM80 11h1.6v1.2h-1.6zM82 11h1.6v1.2h-1.6zM84 11h3.6v1.2h-3.6zM90 11h1.6v1.2h-1.6zM92 11h4.6v1.2h-4.6zM98 11h1.6v1.2h-1.6zM101 11h2.6v1.2h-2.6zM105 11h2.6v1.2h-2.6zM111 11h2.6v1.2h-2.6zM3 12h2.6v1.2h-2.6zM8 12h1.6v1.2h-1.6zM10 12h6.6v1.2h-6.6zM19 12h3.6v1.2h-3.6zM24 12h1.6v1.2h-1.6zM26 12h1.6v1.2h-1.6zM28 12h1.6v1.2h-1.6zM32 12h1.6v1.2h-1.6zM35 12h2.6v1.2h-2.6zM38 12h2.6v1.2h-2.6zM44 12h2.6v1.2h-2.6zM47 12h1.6v1.2h-1.6zM50 12h1.6v1.2h-1.6zM73 12h5.6v1.2h-5.6zM80 12h2.6v1.2h-2.6zM87 12h2.6v1.2h-2.6zM94 12h1.6v1.2h-1.6zM97 12h1.6v1.2h-1.6zM99 12h1.6v1.2h-1.6zM101 12h2.6v1.2h-2.6zM104 12h1.6v1.2h-1.6zM106 12h2.6v1.2h-2.6zM109 12h1.6v1.2h-1.6zM111 12h1.6v1.2h-1.6zM0 13h1.6v1.2h-1.6zM2 13h1.6v1.2h-1.6zM6 13h4.6v1.2h-4.6zM12 13h3.6v1.2h-3.6zM19 13h1.6v1.2h-1.6zM22 13h1.6v1.2h-1.6zM26 13h5.6v1.2h-5.6zM33 13h1.6v1.2h-1.6zM42 13h1.6v1.2h-1.6zM49 13h1.6v1.2h-1.6zM84 13h1.6v1.2h-1.6zM88 13h1.6v1.2h-1.6zM90 13h2.6v1.2h-2.6zM93 13h2.6v1.2h-2.6zM96 13h2.6v1.2h-2.6zM99 13h1.6v1.2h-1.6zM101 13h2.6v1.2h-2.6zM104 13h1.6v1.2h-1.6zM108 13h2.6v1.2h-2.6zM112 13h1.6v1.2h-1.6zM4 14h2.6v1.2h-2.6zM7 14h4.6v1.2h-4.6zM12 14h1.6v1.2h-1.6zM22 14h2.6v1.2h-2.6zM25 14h1.6v1.2h-1.6zM29 14h1.6v1.2h-1.6zM32 14h1.6v1.2h-1.6zM34 14h1.6v1.2h-1.6zM36 14h3.6v1.2h-3.6zM44 14h1.6v1.2h-1.6zM47 14h1.6v1.2h-1.6zM49 14h1.6v1.2h-1.6zM62 14h1.6v1.2h-1.6zM72 14h2.6v1.2h-2.6zM76 14h1.6v1.2h-1.6zM84 14h1.6v1.2h-1.6zM89 14h1.6v1.2h-1.6zM99 14h1.6v1.2h-1.6zM103 14h2.6v1.2h-2.6zM107 14h1.6v1.2h-1.6zM110 14h1.6v1.2h-1.6zM112 14h1.6v1.2h-1.6zM1 15h2.6v1.2h-2.6zM6 15h1.6v1.2h-1.6zM8 15h1.6v1.2h-1.6zM12 15h1.6v1.2h-1.6zM17 15h2.6v1.2h-2.6zM21 15h3.6v1.2h-3.6zM25 15h1.6v1.2h-1.6zM27 15h1.6v1.2h-1.6zM29 15h1.6v1.2h-1.6zM32 15h2.6v1.2h-2.6zM36 15h1.6v1.2h-1.6zM38 15h1.6v1.2h-1.6zM40 15h1.6v1.2h-1.6zM48 15h1.6v1.2h-1.6zM72 15h2.6v1.2h-2.6zM76 15h5.6v1.2h-5.6zM83 15h1.6v1.2h-1.6zM85 15h1.6v1.2h-1.6zM90 15h1.6v1.2h-1.6zM95 15h1.6v1.2h-1.6zM97 15h1.6v1.2h-1.6zM100 15h1.6v1.2h-1.6zM105 15h2.6v1.2h-2.6zM111 15h2.6v1.2h-2.6zM3 16h2.6v1.2h-2.6zM11 16h1.6v1.2h-1.6zM13 16h2.6v1.2h-2.6zM16 16h2.6v1.2h-2.6zM19 16h2.6v1.2h-2.6zM23 16h1.6v1.2h-1.6zM25 16h1.6v1.2h-1.6zM28 16h1.6v1.2h-1.6zM33 16h2.6v1.2h-2.6zM36 16h1.6v1.2h-1.6zM38 16h2.6v1.2h-2.6zM42 16h1.6v1.2h-1.6zM45 16h2.6v1.2h-2.6zM48 16h1.6v1.2h-1.6zM51 16h1.6v1.2h-1.6zM60 16h1.6v1.2h-1.6zM67 16h1.6v1.2h-1.6zM76 16h1.6v1.2h-1.6zM78 16h2.6v1.2h-2.6zM84 16h2.6v1.2h-2.6zM89 16h1.6v1.2h-1.6zM91 16h1.6v1.2h-1.6zM98 16h4.6v1.2h-4.6zM103 16h3.6v1.2h-3.6zM109 16h1.6v1.2h-1.6zM111 16h1.6v1.2h-1.6zM1 17h2.6v1.2h-2.6zM4 17h1.6v1.2h-1.6zM6 17h1.6v1.2h-1.6zM8 17h3.6v1.2h-3.6zM12 17h4.6v1.2h-4.6zM17 17h3.6v1.2h-3.6zM21 17h1.6v1.2h-1.6zM23 17h1.6v1.2h-1.6zM25 17h2.6v1.2h-2.6zM30 17h1.6v1.2h-1.6zM33 17h1.6v1.2h-1.6zM37 17h3.6v1.2h-3.6zM47 17h2.6v1.2h-2.6zM72 17h1.6v1.2h-1.6zM79 17h1.6v1.2h-1.6zM84 17h3.6v1.2h-3.6zM88 17h2.6v1.2h-2.6zM92 17h6.6v1.2h-6.6zM99 17h2.6v1.2h-2.6zM104 17h1.6v1.2h-1.6zM110 17h1.6v1.2h-1.6zM2 18h2.6v1.2h-2.6zM10 18h1.6v1.2h-1.6zM15 18h1.6v1.2h-1.6zM17 18h1.6v1.2h-1.6zM21 18h1.6v1.2h-1.6zM26 18h2.6v1.2h-2.6zM30 18h2.6v1.2h-2.6zM34 18h1.6v1.2h-1.6zM36 18h2.6v1.2h-2.6zM44 18h2.6v1.2h-2.6zM48 18h1.6v1.2h-1.6zM74 18h1.6v1.2h-1.6zM76 18h1.6v1.2h-1.6zM82 18h1.6v1.2h-1.6zM85 18h1.6v1.2h-1.6zM92 18h1.6v1.2h-1.6zM94 18h2.6v1.2h-2.6zM98 18h1.6v1.2h-1.6zM101 18h2.6v1.2h-2.6zM108 18h1.6v1.2h-1.6zM111 18h1.6v1.2h-1.6zM0 19h4.6v1.2h-4.6zM5 19h1.6v1.2h-1.6zM8 19h1.6v1.2h-1.6zM11 19h1.6v1.2h-1.6zM17 19h1.6v1.2h-1.6zM23 19h1.6v1.2h-1.6zM25 19h2.6v1.2h-2.6zM30 19h1.6v1.2h-1.6zM35 19h1.6v1.2h-1.6zM37 19h1.6v1.2h-1.6zM41 19h1.6v1.2h-1.6zM43 19h2.6v1.2h-2.6zM47 19h2.6v1.2h-2.6zM74 19h1.6v1.2h-1.6zM77 19h1.6v1.2h-1.6zM80 19h1.6v1.2h-1.6zM82 19h1.6v1.2h-1.6zM87 19h1.6v1.2h-1.6zM89 19h1.6v1.2h-1.6zM97 19h1.6v1.2h-1.6zM101 19h1.6v1.2h-1.6zM104 19h1.6v1.2h-1.6zM106 19h3.6v1.2h-3.6zM110 19h1.6v1.2h-1.6zM0 20h1.6v1.2h-1.6zM5 20h4.6v1.2h-4.6zM13 20h1.6v1.2h-1.6zM16 20h5.6v1.2h-5.6zM22 20h2.6v1.2h-2.6zM33 20h1.6v1.2h-1.6zM38 20h3.6v1.2h-3.6zM43 20h1.6v1.2h-1.6zM48 20h2.6v1.2h-2.6zM51 20h1.6v1.2h-1.6zM56 20h1.6v1.2h-1.6zM60 20h1.6v1.2h-1.6zM62 20h2.6v1.2h-2.6zM66 20h1.6v1.2h-1.6zM68 20h2.6v1.2h-2.6zM71 20h1.6v1.2h-1.6zM73 20h1.6v1.2h-1.6zM89 20h1.6v1.2h-1.6zM101 20h1.6v1.2h-1.6zM104 20h1.6v1.2h-1.6zM113 20h1.6v1.2h-1.6zM9 21h1.6v1.2h-1.6zM15 21h2.6v1.2h-2.6zM21 21h1.6v1.2h-1.6zM23 21h3.6v1.2h-3.6zM30 21h1.6v1.2h-1.6zM32 21h1.6v1.2h-1.6zM37 21h2.6v1.2h-2.6zM40 21h2.6v1.2h-2.6zM44 21h1.6v1.2h-1.6zM49 21h3.6v1.2h-3.6zM56 21h6.6v1.2h-6.6zM65 21h1.6v1.2h-1.6zM69 21h2.6v1.2h-2.6zM73 21h1.6v1.2h-1.6zM104 21h2.6v1.2h-2.6zM110 21h1.6v1.2h-1.6zM116 21h1v1.2h-1zM0 22h2.6v1.2h-2.6zM5 22h2.6v1.2h-2.6zM11 22h1.6v1.2h-1.6zM16 22h3.6v1.2h-3.6zM20 22h1.6v1.2h-1.6zM22 22h1.6v1.2h-1.6zM26 22h1.6v1.2h-1.6zM28 22h2.6v1.2h-2.6zM32 22h3.6v1.2h-3.6zM39 22h4.6v1.2h-4.6zM45 22h1.6v1.2h-1.6zM47 22h1.6v1.2h-1.6zM50 22h1.6v1.2h-1.6zM55 22h2.6v1.2h-2.6zM59 22h1.6v1.2h-1.6zM64 22h1.6v1.2h-1.6zM66 22h2.6v1.2h-2.6zM69 22h1.6v1.2h-1.6zM71 22h2.6v1.2h-2.6zM74 22h1.6v1.2h-1.6zM107 22h1.6v1.2h-1.6zM112 22h2.6v1.2h-2.6zM115 22h1.6v1.2h-1.6zM4 23h1.6v1.2h-1.6zM7 23h1.6v1.2h-1.6zM14 23h1.6v1.2h-1.6zM16 23h1.6v1.2h-1.6zM21 23h1.6v1.2h-1.6zM23 23h1.6v1.2h-1.6zM28 23h1.6v1.2h-1.6zM35 23h2.6v1.2h-2.6zM42 23h3.6v1.2h-3.6zM47 23h5.6v1.2h-5.6zM53 23h1.6v1.2h-1.6zM55 23h2.6v1.2h-2.6zM60 23h1.6v1.2h-1.6zM67 23h1.6v1.2h-1.6zM70 23h1.6v1.2h-1.6zM72 23h1.6v1.2h-1.6zM91 23h1.6v1.2h-1.6zM101 23h1.6v1.2h-1.6zM104 23h1.6v1.2h-1.6zM106 23h2.6v1.2h-2.6zM109 23h1.6v1.2h-1.6zM112 23h1.6v1.2h-1.6zM115 23h1.6v1.2h-1.6zM2 24h1.6v1.2h-1.6zM4 24h1.6v1.2h-1.6zM7 24h2.6v1.2h-2.6zM10 24h1.6v1.2h-1.6zM12 24h5.6v1.2h-5.6zM19 24h2.6v1.2h-2.6zM23 24h1.6v1.2h-1.6zM25 24h1.6v1.2h-1.6zM30 24h2.6v1.2h-2.6zM33 24h3.6v1.2h-3.6zM37 24h1.6v1.2h-1.6zM39 24h2.6v1.2h-2.6zM42 24h1.6v1.2h-1.6zM45 24h1.6v1.2h-1.6zM47 24h2.6v1.2h-2.6zM55 24h1.6v1.2h-1.6zM57 24h4.6v1.2h-4.6zM63 24h1.6v1.2h-1.6zM66 24h2.6v1.2h-2.6zM69 24h2.6v1.2h-2.6zM74 24h1.6v1.2h-1.6zM91 24h1.6v1.2h-1.6zM106 24h1.6v1.2h-1.6zM109 24h2.6v1.2h-2.6zM112 24h1.6v1.2h-1.6zM114 24h1.6v1.2h-1.6zM0 25h1.6v1.2h-1.6zM2 25h1.6v1.2h-1.6zM4 25h2.6v1.2h-2.6zM10 25h2.6v1.2h-2.6zM17 25h1.6v1.2h-1.6zM20 25h1.6v1.2h-1.6zM23 25h1.6v1.2h-1.6zM28 25h1.6v1.2h-1.6zM31 25h1.6v1.2h-1.6zM33 25h1.6v1.2h-1.6zM38 25h1.6v1.2h-1.6zM43 25h1.6v1.2h-1.6zM45 25h3.6v1.2h-3.6zM50 25h2.6v1.2h-2.6zM56 25h1.6v1.2h-1.6zM59 25h1.6v1.2h-1.6zM64 25h2.6v1.2h-2.6zM67 25h2.6v1.2h-2.6zM91 25h1.6v1.2h-1.6zM104 25h1.6v1.2h-1.6zM106 25h1.6v1.2h-1.6zM109 25h2.6v1.2h-2.6zM112 25h1.6v1.2h-1.6zM1 26h3.6v1.2h-3.6zM8 26h1.6v1.2h-1.6zM10 26h1.6v1.2h-1.6zM13 26h1.6v1.2h-1.6zM16 26h4.6v1.2h-4.6zM23 26h1.6v1.2h-1.6zM27 26h1.6v1.2h-1.6zM29 26h2.6v1.2h-2.6zM35 26h1.6v1.2h-1.6zM37 26h1.6v1.2h-1.6zM39 26h1.6v1.2h-1.6zM42 26h1.6v1.2h-1.6zM46 26h1.6v1.2h-1.6zM53 26h1.6v1.2h-1.6zM55 26h2.6v1.2h-2.6zM59 26h2.6v1.2h-2.6zM65 26h2.6v1.2h-2.6zM70 26h1.6v1.2h-1.6zM73 26h1.6v1.2h-1.6zM76 26h1.6v1.2h-1.6zM78 26h1.6v1.2h-1.6zM81 26h1.6v1.2h-1.6zM85 26h5.6v1.2h-5.6zM1 27h1.6v1.2h-1.6zM5 27h2.6v1.2h-2.6zM10 27h1.6v1.2h-1.6zM12 27h6.6v1.2h-6.6zM19 27h2.6v1.2h-2.6zM23 27h1.6v1.2h-1.6zM32 27h1.6v1.2h-1.6zM43 27h1.6v1.2h-1.6zM52 27h1.6v1.2h-1.6zM54 27h1.6v1.2h-1.6zM56 27h1.6v1.2h-1.6zM58 27h2.6v1.2h-2.6zM64 27h1.6v1.2h-1.6zM68 27h1.6v1.2h-1.6zM70 27h4.6v1.2h-4.6zM92 27h2.6v1.2h-2.6zM95 27h2.6v1.2h-2.6zM98 27h1.6v1.2h-1.6zM104 27h3.6v1.2h-3.6zM109 27h1.6v1.2h-1.6zM113 27h1.6v1.2h-1.6zM0 28h1.6v1.2h-1.6zM6 28h2.6v1.2h-2.6zM10 28h1.6v1.2h-1.6zM14 28h2.6v1.2h-2.6zM17 28h2.6v1.2h-2.6zM23 28h3.6v1.2h-3.6zM28 28h1.6v1.2h-1.6zM31 28h1.6v1.2h-1.6zM34 28h1.6v1.2h-1.6zM39 28h1.6v1.2h-1.6zM41 28h1.6v1.2h-1.6zM44 28h2.6v1.2h-2.6zM47 28h2.6v1.2h-2.6zM50 28h1.6v1.2h-1.6zM53 28h2.6v1.2h-2.6zM58 28h1.6v1.2h-1.6zM61 28h1.6v1.2h-1.6zM63 28h1.6v1.2h-1.6zM72 28h2.6v1.2h-2.6zM76 28h1.6v1.2h-1.6zM79 28h1.6v1.2h-1.6zM81 28h1.6v1.2h-1.6zM85 28h1.6v1.2h-1.6zM88 28h1.6v1.2h-1.6zM103 28h1.6v1.2h-1.6zM112 28h2.6v1.2h-2.6zM1 29h1.6v1.2h-1.6zM5 29h1.6v1.2h-1.6zM12 29h1.6v1.2h-1.6zM17 29h1.6v1.2h-1.6zM20 29h1.6v1.2h-1.6zM22 29h2.6v1.2h-2.6zM25 29h1.6v1.2h-1.6zM28 29h1.6v1.2h-1.6zM33 29h2.6v1.2h-2.6zM38 29h2.6v1.2h-2.6zM43 29h3.6v1.2h-3.6zM47 29h3.6v1.2h-3.6zM53 29h2.6v1.2h-2.6zM61 29h3.6v1.2h-3.6zM68 29h1.6v1.2h-1.6zM72 29h1.6v1.2h-1.6zM74 29h1.6v1.2h-1.6zM77 29h1.6v1.2h-1.6zM80 29h2.6v1.2h-2.6zM84 29h1.6v1.2h-1.6zM86 29h2.6v1.2h-2.6zM89 29h1.6v1.2h-1.6zM115 29h1.6v1.2h-1.6zM0 30h1.6v1.2h-1.6zM2 30h1.6v1.2h-1.6zM4 30h1.6v1.2h-1.6zM11 30h2.6v1.2h-2.6zM17 30h1.6v1.2h-1.6zM19 30h2.6v1.2h-2.6zM30 30h1.6v1.2h-1.6zM34 30h2.6v1.2h-2.6zM37 30h1.6v1.2h-1.6zM47 30h1.6v1.2h-1.6zM51 30h1.6v1.2h-1.6zM55 30h2.6v1.2h-2.6zM61 30h2.6v1.2h-2.6zM65 30h2.6v1.2h-2.6zM68 30h3.6v1.2h-3.6zM73 30h1.6v1.2h-1.6zM80 30h1.6v1.2h-1.6zM85 30h2.6v1.2h-2.6zM90 30h2.6v1.2h-2.6zM99 30h4.6v1.2h-4.6zM104 30h2.6v1.2h-2.6zM107 30h1.6v1.2h-1.6zM110 30h2.6v1.2h-2.6zM8 31h1.6v1.2h-1.6zM13 31h2.6v1.2h-2.6zM17 31h2.6v1.2h-2.6zM20 31h1.6v1.2h-1.6zM23 31h1.6v1.2h-1.6zM25 31h1.6v1.2h-1.6zM29 31h3.6v1.2h-3.6zM33 31h1.6v1.2h-1.6zM37 31h5.6v1.2h-5.6zM43 31h1.6v1.2h-1.6zM55 31h1.6v1.2h-1.6zM62 31h1.6v1.2h-1.6zM66 31h1.6v1.2h-1.6zM76 31h1.6v1.2h-1.6zM78 31h1.6v1.2h-1.6zM81 31h1.6v1.2h-1.6zM86 31h1.6v1.2h-1.6zM92 31h4.6v1.2h-4.6zM98 31h3.6v1.2h-3.6zM102 31h1.6v1.2h-1.6zM106 31h3.6v1.2h-3.6zM112 31h1.6v1.2h-1.6zM1 32h4.6v1.2h-4.6zM12 32h3.6v1.2h-3.6zM16 32h1.6v1.2h-1.6zM19 32h2.6v1.2h-2.6zM23 32h1.6v1.2h-1.6zM27 32h1.6v1.2h-1.6zM33 32h1.6v1.2h-1.6zM35 32h1.6v1.2h-1.6zM39 32h3.6v1.2h-3.6zM44 32h1.6v1.2h-1.6zM47 32h2.6v1.2h-2.6zM52 32h3.6v1.2h-3.6zM61 32h2.6v1.2h-2.6zM66 32h2.6v1.2h-2.6zM75 32h4.6v1.2h-4.6zM82 32h4.6v1.2h-4.6zM94 32h1.6v1.2h-1.6zM98 32h2.6v1.2h-2.6zM103 32h1.6v1.2h-1.6zM105 32h3.6v1.2h-3.6zM109 32h1.6v1.2h-1.6zM1 33h3.6v1.2h-3.6zM5 33h2.6v1.2h-2.6zM12 33h1.6v1.2h-1.6zM14 33h1.6v1.2h-1.6zM17 33h3.6v1.2h-3.6zM24 33h1.6v1.2h-1.6zM26 33h1.6v1.2h-1.6zM34 33h1.6v1.2h-1.6zM39 33h1.6v1.2h-1.6zM41 33h1.6v1.2h-1.6zM43 33h1.6v1.2h-1.6zM47 33h1.6v1.2h-1.6zM49 33h1.6v1.2h-1.6zM55 33h1.6v1.2h-1.6zM62 33h1.6v1.2h-1.6zM72 33h1.6v1.2h-1.6zM80 33h1.6v1.2h-1.6zM82 33h1.6v1.2h-1.6zM84 33h4.6v1.2h-4.6zM91 33h2.6v1.2h-2.6zM94 33h1.6v1.2h-1.6zM98 33h1.6v1.2h-1.6zM101 33h1.6v1.2h-1.6zM104 33h2.6v1.2h-2.6zM107 33h1.6v1.2h-1.6zM109 33h4.6v1.2h-4.6zM2 34h1.6v1.2h-1.6zM9 34h1.6v1.2h-1.6zM11 34h2.6v1.2h-2.6zM18 34h1.6v1.2h-1.6zM21 34h5.6v1.2h-5.6zM29 34h1.6v1.2h-1.6zM39 34h1.6v1.2h-1.6zM41 34h1.6v1.2h-1.6zM43 34h1.6v1.2h-1.6zM47 34h1.6v1.2h-1.6zM49 34h1.6v1.2h-1.6zM55 34h1.6v1.2h-1.6zM61 34h1.6v1.2h-1.6zM67 34h1.6v1.2h-1.6zM75 34h1.6v1.2h-1.6zM78 34h2.6v1.2h-2.6zM84 34h2.6v1.2h-2.6zM88 34h3.6v1.2h-3.6zM92 34h1.6v1.2h-1.6zM94 34h1.6v1.2h-1.6zM98 34h1.6v1.2h-1.6zM101 34h1.6v1.2h-1.6zM103 34h1.6v1.2h-1.6zM111 34h1.6v1.2h-1.6zM2 35h2.6v1h-2.6zM6 35h1.6v1h-1.6zM9 35h1.6v1h-1.6zM12 35h1.6v1h-1.6zM14 35h4.6v1h-4.6zM19 35h1.6v1h-1.6zM21 35h1.6v1h-1.6zM23 35h1.6v1h-1.6zM25 35h1.6v1h-1.6zM27 35h2.6v1h-2.6zM31 35h1.6v1h-1.6zM38 35h1.6v1h-1.6zM46 35h1.6v1h-1.6zM49 35h2.6v1h-2.6zM52 35h4.6v1h-4.6zM57 35h2.6v1h-2.6zM62 35h2.6v1h-2.6zM65 35h1.6v1h-1.6zM67 35h1.6v1h-1.6zM69 35h2.6v1h-2.6zM72 35h1.6v1h-1.6zM77 35h2.6v1h-2.6zM81 35h3.6v1h-3.6zM86 35h1.6v1h-1.6zM93 35h1.6v1h-1.6zM95 35h1.6v1h-1.6zM99 35h1.6v1h-1.6zM106 35h1.6v1h-1.6zM108 35h1.6v1h-1.6z"/>
<path fill="#058096" d="M32 0h1.6v1.2h-1.6zM34 0h1.6v1.2h-1.6zM59 1h1.6v1.2h-1.6zM61 1h1.6v1.2h-1.6zM70 1h1.6v1.2h-1.6zM74 1h1.6v1.2h-1.6zM94 1h1.6v1.2h-1.6zM91 2h1.6v1.2h-1.6zM40 3h1.6v1.2h-1.6zM70 3h1.6v1.2h-1.6zM70 4h1.6v1.2h-1.6zM1 5h1.6v1.2h-1.6zM7 5h1.6v1.2h-1.6zM19 5h1.6v1.2h-1.6zM34 5h1.6v1.2h-1.6zM74 5h1.6v1.2h-1.6zM107 5h1.6v1.2h-1.6zM7 6h1.6v1.2h-1.6zM20 6h1.6v1.2h-1.6zM23 6h1.6v1.2h-1.6zM32 6h1.6v1.2h-1.6zM40 6h1.6v1.2h-1.6zM50 6h1.6v1.2h-1.6zM53 6h1.6v1.2h-1.6zM56 6h1.6v1.2h-1.6zM61 6h1.6v1.2h-1.6zM36 7h2.6v1.2h-2.6zM50 7h1.6v1.2h-1.6zM92 7h2.6v1.2h-2.6zM45 8h1.6v1.2h-1.6zM47 8h1.6v1.2h-1.6zM56 8h1.6v1.2h-1.6zM58 8h1.6v1.2h-1.6zM66 8h1.6v1.2h-1.6zM77 8h1.6v1.2h-1.6zM101 8h1.6v1.2h-1.6zM81 9h2.6v1.2h-2.6zM93 9h1.6v1.2h-1.6zM97 9h1.6v1.2h-1.6zM99 9h1.6v1.2h-1.6zM14 10h1.6v1.2h-1.6zM30 10h1.6v1.2h-1.6zM34 10h1.6v1.2h-1.6zM37 10h1.6v1.2h-1.6zM42 10h1.6v1.2h-1.6zM60 10h1.6v1.2h-1.6zM103 10h1.6v1.2h-1.6zM12 11h1.6v1.2h-1.6zM32 11h1.6v1.2h-1.6zM73 11h1.6v1.2h-1.6zM77 11h1.6v1.2h-1.6zM81 11h1.6v1.2h-1.6zM88 11h1.6v1.2h-1.6zM108 11h1.6v1.2h-1.6zM2 12h1.6v1.2h-1.6zM18 12h1.6v1.2h-1.6zM29 12h2.6v1.2h-2.6zM42 12h1.6v1.2h-1.6zM48 12h2.6v1.2h-2.6zM61 12h1.6v1.2h-1.6zM82 12h1.6v1.2h-1.6zM103 12h1.6v1.2h-1.6zM105 12h1.6v1.2h-1.6zM108 12h1.6v1.2h-1.6zM110 12h1.6v1.2h-1.6zM112 12h1.6v1.2h-1.6zM15 13h1.6v1.2h-1.6zM25 13h1.6v1.2h-1.6zM31 13h1.6v1.2h-1.6zM38 13h2.6v1.2h-2.6zM44 13h1.6v1.2h-1.6zM48 13h1.6v1.2h-1.6zM50 13h1.6v1.2h-1.6zM80 13h1.6v1.2h-1.6zM100 13h1.6v1.2h-1.6zM14 14h1.6v1.2h-1.6zM33 14h1.6v1.2h-1.6zM43 14h1.6v1.2h-1.6zM67 14h1.6v1.2h-1.6zM83 14h1.6v1.2h-1.6zM87 14h2.6v1.2h-2.6zM95 14h1.6v1.2h-1.6zM100 14h1.6v1.2h-1.6zM111 14h1.6v1.2h-1.6zM14 15h1.6v1.2h-1.6zM39 15h1.6v1.2h-1.6zM50 15h1.6v1.2h-1.6zM61 15h1.6v1.2h-1.6zM66 15h1.6v1.2h-1.6zM81 15h1.6v1.2h-1.6zM91 15h1.6v1.2h-1.6zM99 15h1.6v1.2h-1.6zM1 16h1.6v1.2h-1.6zM6 16h1.6v1.2h-1.6zM21 16h1.6v1.2h-1.6zM49 16h2.6v1.2h-2.6zM74 16h1.6v1.2h-1.6zM32 17h1.6v1.2h-1.6zM36 17h1.6v1.2h-1.6zM42 17h1.6v1.2h-1.6zM49 17h2.6v1.2h-2.6zM103 17h1.6v1.2h-1.6zM5 18h1.6v1.2h-1.6zM16 18h1.6v1.2h-1.6zM18 18h1.6v1.2h-1.6zM20 18h1.6v1.2h-1.6zM22 18h1.6v1.2h-1.6zM25 18h1.6v1.2h-1.6zM62 18h1.6v1.2h-1.6zM88 18h1.6v1.2h-1.6zM7 19h1.6v1.2h-1.6zM14 19h1.6v1.2h-1.6zM18 19h1.6v1.2h-1.6zM20 19h1.6v1.2h-1.6zM22 19h1.6v1.2h-1.6zM28 19h1.6v1.2h-1.6zM36 19h1.6v1.2h-1.6zM45 19h1.6v1.2h-1.6zM73 19h1.6v1.2h-1.6zM100 19h1.6v1.2h-1.6zM11 20h1.6v1.2h-1.6zM36 20h1.6v1.2h-1.6zM41 20h1.6v1.2h-1.6zM108 20h1.6v1.2h-1.6zM0 21h1.6v1.2h-1.6zM11 21h2.6v1.2h-2.6zM17 21h1.6v1.2h-1.6zM34 21h2.6v1.2h-2.6zM47 21h1.6v1.2h-1.6zM63 21h1.6v1.2h-1.6zM111 21h1.6v1.2h-1.6zM113 21h1.6v1.2h-1.6zM3 22h1.6v1.2h-1.6zM14 22h1.6v1.2h-1.6zM31 22h1.6v1.2h-1.6zM35 22h1.6v1.2h-1.6zM60 22h1.6v1.2h-1.6zM91 22h1.6v1.2h-1.6zM111 22h1.6v1.2h-1.6zM2 23h1.6v1.2h-1.6zM18 23h1.6v1.2h-1.6zM52 23h1.6v1.2h-1.6zM54 23h1.6v1.2h-1.6zM65 23h1.6v1.2h-1.6zM73 23h2.6v1.2h-2.6zM108 23h1.6v1.2h-1.6zM113 23h1.6v1.2h-1.6zM3 24h1.6v1.2h-1.6zM54 24h1.6v1.2h-1.6zM56 24h1.6v1.2h-1.6zM61 24h2.6v1.2h-2.6zM105 24h1.6v1.2h-1.6zM6 25h1.6v1.2h-1.6zM8 25h1.6v1.2h-1.6zM18 25h1.6v1.2h-1.6zM34 25h3.6v1.2h-3.6zM72 25h1.6v1.2h-1.6zM114 25h2.6v1.2h-2.6zM12 26h1.6v1.2h-1.6zM22 26h1.6v1.2h-1.6zM28 26h1.6v1.2h-1.6zM33 26h1.6v1.2h-1.6zM40 26h1.6v1.2h-1.6zM67 26h1.6v1.2h-1.6zM80 26h1.6v1.2h-1.6zM94 26h1.6v1.2h-1.6zM112 26h1.6v1.2h-1.6zM114 26h1.6v1.2h-1.6zM18 27h1.6v1.2h-1.6zM33 27h1.6v1.2h-1.6zM44 27h1.6v1.2h-1.6zM100 27h1.6v1.2h-1.6zM108 27h1.6v1.2h-1.6zM2 28h1.6v1.2h-1.6zM8 28h1.6v1.2h-1.6zM32 28h1.6v1.2h-1.6zM59 28h1.6v1.2h-1.6zM64 28h1.6v1.2h-1.6zM69 28h1.6v1.2h-1.6zM78 28h1.6v1.2h-1.6zM84 28h1.6v1.2h-1.6zM89 28h1.6v1.2h-1.6zM115 28h1.6v1.2h-1.6zM2 29h2.6v1.2h-2.6zM32 29h1.6v1.2h-1.6zM50 29h1.6v1.2h-1.6zM69 29h1.6v1.2h-1.6zM95 29h1.6v1.2h-1.6zM102 29h1.6v1.2h-1.6zM104 29h1.6v1.2h-1.6zM108 29h1.6v1.2h-1.6zM7 30h1.6v1.2h-1.6zM23 30h1.6v1.2h-1.6zM41 30h1.6v1.2h-1.6zM49 30h1.6v1.2h-1.6zM52 30h1.6v1.2h-1.6zM59 30h1.6v1.2h-1.6zM64 30h1.6v1.2h-1.6zM83 30h1.6v1.2h-1.6zM106 30h1.6v1.2h-1.6zM87 31h1.6v1.2h-1.6zM5 32h1.6v1.2h-1.6zM22 32h1.6v1.2h-1.6zM32 32h1.6v1.2h-1.6zM51 32h1.6v1.2h-1.6zM89 32h1.6v1.2h-1.6zM93 32h1.6v1.2h-1.6zM100 32h2.6v1.2h-2.6zM16 33h1.6v1.2h-1.6zM61 33h1.6v1.2h-1.6zM76 33h1.6v1.2h-1.6zM88 33h1.6v1.2h-1.6zM99 33h1.6v1.2h-1.6zM19 34h1.6v1.2h-1.6zM27 34h1.6v1.2h-1.6zM33 34h2.6v1.2h-2.6zM37 34h1.6v1.2h-1.6zM40 34h1.6v1.2h-1.6zM42 34h1.6v1.2h-1.6zM76 34h1.6v1.2h-1.6zM80 34h1.6v1.2h-1.6zM86 34h1.6v1.2h-1.6zM102 34h1.6v1.2h-1.6zM107 34h1.6v1.2h-1.6zM0 35h1.6v1h-1.6zM30 35h1.6v1h-1.6zM41 35h1.6v1h-1.6z"/>
<path fill="#088693" d="M36 0h1.6v1.2h-1.6zM46 0h1.6v1.2h-1.6zM40 1h1.6v1.2h-1.6zM50 1h1.6v1.2h-1.6zM91 1h1.6v1.2h-1.6zM101 1h1.6v1.2h-1.6zM108 2h1.6v1.2h-1.6zM35 3h1.6v1.2h-1.6zM41 3h1.6v1.2h-1.6zM93 3h1.6v1.2h-1.6zM4 5h1.6v1.2h-1.6zM11 5h1.6v1.2h-1.6zM15 5h1.6v1.2h-1.6zM37 5h1.6v1.2h-1.6zM44 5h1.6v1.2h-1.6zM49 5h1.6v1.2h-1.6zM96 5h1.6v1.2h-1.6zM1 6h1.6v1.2h-1.6zM11 6h1.6v1.2h-1.6zM13 6h1.6v1.2h-1.6zM19 6h1.6v1.2h-1.6zM45 6h1.6v1.2h-1.6zM59 6h1.6v1.2h-1.6zM63 6h1.6v1.2h-1.6zM40 7h1.6v1.2h-1.6zM52 7h2.6v1.2h-2.6zM58 7h1.6v1.2h-1.6zM61 7h1.6v1.2h-1.6zM66 7h1.6v1.2h-1.6zM70 7h1.6v1.2h-1.6zM82 7h2.6v1.2h-2.6zM36 8h1.6v1.2h-1.6zM82 8h1.6v1.2h-1.6zM91 8h2.6v1.2h-2.6zM1 9h1.6v1.2h-1.6zM6 9h1.6v1.2h-1.6zM14 9h1.6v1.2h-1.6zM37 9h1.6v1.2h-1.6zM49 9h1.6v1.2h-1.6zM77 9h1.6v1.2h-1.6zM61 13h1.6v1.2h-1.6zM61 14h1.6v1.2h-1.6zM66 14h1.6v1.2h-1.6zM94 15h1.6v1.2h-1.6zM43 16h1.6v1.2h-1.6zM61 16h1.6v1.2h-1.6zM20 17h1.6v1.2h-1.6zM8 18h1.6v1.2h-1.6zM40 18h1.6v1.2h-1.6zM60 18h1.6v1.2h-1.6zM67 18h1.6v1.2h-1.6zM103 18h1.6v1.2h-1.6zM67 19h1.6v1.2h-1.6zM103 19h1.6v1.2h-1.6zM68 22h1.6v1.2h-1.6zM114 22h1.6v1.2h-1.6zM93 24h1.6v1.2h-1.6zM66 25h1.6v1.2h-1.6zM113 26h1.6v1.2h-1.6zM114 27h1.6v1.2h-1.6zM21 28h1.6v1.2h-1.6zM35 28h1.6v1.2h-1.6zM90 29h1.6v1.2h-1.6zM93 29h1.6v1.2h-1.6zM96 29h1.6v1.2h-1.6zM100 29h1.6v1.2h-1.6zM107 29h1.6v1.2h-1.6zM14 30h1.6v1.2h-1.6zM74 35h1.6v1h-1.6z"/>
<path fill="#0b8b8f" d="M37 0h1.6v1.2h-1.6zM41 1h1.6v1.2h-1.6zM96 1h1.6v1.2h-1.6zM36 2h1.6v1.2h-1.6zM40 2h2.6v1.2h-2.6zM49 2h1.6v1.2h-1.6zM70 2h1.6v1.2h-1.6zM74 2h1.6v1.2h-1.6zM96 2h1.6v1.2h-1.6zM99 2h1.6v1.2h-1.6zM102 2h1.6v1.2h-1.6zM33 3h1.6v1.2h-1.6zM45 3h1.6v1.2h-1.6zM47 3h1.6v1.2h-1.6zM37 4h1.6v1.2h-1.6zM41 4h1.6v1.2h-1.6zM74 4h1.6v1.2h-1.6zM92 4h1.6v1.2h-1.6zM108 4h1.6v1.2h-1.6zM5 5h1.6v1.2h-1.6zM17 5h1.6v1.2h-1.6zM10 6h1.6v1.2h-1.6zM24 6h1.6v1.2h-1.6zM28 6h1.6v1.2h-1.6zM34 6h1.6v1.2h-1.6zM41 6h1.6v1.2h-1.6zM66 6h2.6v1.2h-2.6zM74 6h1.6v1.2h-1.6zM106 6h1.6v1.2h-1.6zM41 7h1.6v1.2h-1.6zM48 7h1.6v1.2h-1.6zM59 7h1.6v1.2h-1.6zM67 7h1.6v1.2h-1.6zM84 7h1.6v1.2h-1.6zM98 7h1.6v1.2h-1.6zM101 7h1.6v1.2h-1.6zM107 7h1.6v1.2h-1.6zM111 7h1.6v1.2h-1.6zM31 8h1.6v1.2h-1.6zM53 8h1.6v1.2h-1.6zM59 8h1.6v1.2h-1.6zM84 8h1.6v1.2h-1.6zM88 8h1.6v1.2h-1.6zM98 8h1.6v1.2h-1.6zM4 9h1.6v1.2h-1.6zM13 9h1.6v1.2h-1.6zM23 9h1.6v1.2h-1.6zM47 9h1.6v1.2h-1.6zM6 10h1.6v1.2h-1.6zM98 14h1.6v1.2h-1.6zM9 16h1.6v1.2h-1.6zM40 17h1.6v1.2h-1.6zM67 17h1.6v1.2h-1.6zM60 19h1.6v1.2h-1.6zM66 19h1.6v1.2h-1.6zM55 20h1.6v1.2h-1.6zM99 20h1.6v1.2h-1.6zM102 20h1.6v1.2h-1.6zM73 22h1.6v1.2h-1.6zM78 23h1.6v1.2h-1.6zM21 24h1.6v1.2h-1.6zM81 24h1.6v1.2h-1.6zM88 24h1.6v1.2h-1.6zM24 25h1.6v1.2h-1.6zM102 25h1.6v1.2h-1.6zM14 26h1.6v1.2h-1.6zM24 26h1.6v1.2h-1.6zM29 28h2.6v1.2h-2.6zM30 29h1.6v1.2h-1.6zM36 29h1.6v1.2h-1.6zM94 29h1.6v1.2h-1.6zM110 29h2.6v1.2h-2.6zM36 30h1.6v1.2h-1.6zM46 30h1.6v1.2h-1.6zM98 30h1.6v1.2h-1.6zM45 31h1.6v1.2h-1.6zM0 32h1.6v1.2h-1.6zM20 33h1.6v1.2h-1.6zM10 34h1.6v1.2h-1.6zM100 34h1.6v1.2h-1.6zM10 35h1.6v1h-1.6z"/>
<path fill="#0e918c" d="M35 0h1.6v1.2h-1.6zM72 0h1.6v1.2h-1.6zM1 1h1.6v1.2h-1.6zM23 1h2.6v1.2h-2.6zM31 1h1.6v1.2h-1.6zM53 1h1.6v1.2h-1.6zM63 1h1.6v1.2h-1.6zM66 1h2.6v1.2h-2.6zM92 1h1.6v1.2h-1.6zM97 1h1.6v1.2h-1.6zM28 2h1.6v1.2h-1.6zM34 2h1.6v1.2h-1.6zM47 2h1.6v1.2h-1.6zM107 2h1.6v1.2h-1.6zM112 2h1.6v1.2h-1.6zM32 3h1.6v1.2h-1.6zM103 3h1.6v1.2h-1.6zM97 4h1.6v1.2h-1.6zM107 4h1.6v1.2h-1.6zM109 4h2.6v1.2h-2.6zM41 5h1.6v1.2h-1.6zM92 5h2.6v1.2h-2.6zM98 5h1.6v1.2h-1.6zM100 5h1.6v1.2h-1.6zM103 5h2.6v1.2h-2.6zM108 5h1.6v1.2h-1.6zM110 5h1.6v1.2h-1.6zM4 6h1.6v1.2h-1.6zM8 6h1.6v1.2h-1.6zM18 6h1.6v1.2h-1.6zM31 6h1.6v1.2h-1.6zM37 6h1.6v1.2h-1.6zM52 6h1.6v1.2h-1.6zM70 6h1.6v1.2h-1.6zM100 6h1.6v1.2h-1.6zM105 6h1.6v1.2h-1.6zM81 7h1.6v1.2h-1.6zM88 7h1.6v1.2h-1.6zM103 7h1.6v1.2h-1.6zM110 7h1.6v1.2h-1.6zM23 8h1.6v1.2h-1.6zM27 8h1.6v1.2h-1.6zM30 8h1.6v1.2h-1.6zM37 8h1.6v1.2h-1.6zM41 8h1.6v1.2h-1.6zM67 8h1.6v1.2h-1.6zM70 8h1.6v1.2h-1.6zM81 8h1.6v1.2h-1.6zM93 8h1.6v1.2h-1.6zM3 9h1.6v1.2h-1.6zM46 9h1.6v1.2h-1.6zM83 9h1.6v1.2h-1.6zM103 9h1.6v1.2h-1.6zM22 10h1.6v1.2h-1.6zM66 10h1.6v1.2h-1.6zM46 11h1.6v1.2h-1.6zM60 11h1.6v1.2h-1.6zM46 12h1.6v1.2h-1.6zM67 12h1.6v1.2h-1.6zM43 15h1.6v1.2h-1.6zM60 15h1.6v1.2h-1.6zM62 15h1.6v1.2h-1.6zM98 15h1.6v1.2h-1.6zM102 15h1.6v1.2h-1.6zM40 16h1.6v1.2h-1.6zM66 17h1.6v1.2h-1.6zM50 19h1.6v1.2h-1.6zM62 19h1.6v1.2h-1.6zM76 19h1.6v1.2h-1.6zM19 21h1.6v1.2h-1.6zM84 22h1.6v1.2h-1.6zM27 23h1.6v1.2h-1.6zM88 23h1.6v1.2h-1.6zM92 23h1.6v1.2h-1.6zM97 24h1.6v1.2h-1.6zM102 24h1.6v1.2h-1.6zM27 25h1.6v1.2h-1.6zM44 25h1.6v1.2h-1.6zM70 25h1.6v1.2h-1.6zM101 25h1.6v1.2h-1.6zM9 26h1.6v1.2h-1.6zM83 26h1.6v1.2h-1.6zM9 27h1.6v1.2h-1.6zM97 29h1.6v1.2h-1.6zM103 29h1.6v1.2h-1.6zM8 30h1.6v1.2h-1.6zM15 30h1.6v1.2h-1.6zM18 30h1.6v1.2h-1.6zM42 31h1.6v1.2h-1.6zM46 32h1.6v1.2h-1.6zM10 33h1.6v1.2h-1.6zM102 33h1.6v1.2h-1.6zM52 34h1.6v1.2h-1.6zM44 35h1.6v1h-1.6z"/>
<path fill="#0e9586" d="M28 1h1.6v1.2h-1.6zM30 1h1.6v1.2h-1.6zM24 2h1.6v1.2h-1.6zM106 2h1.6v1.2h-1.6zM46 3h1.6v1.2h-1.6zM96 3h1.6v1.2h-1.6zM99 3h1.6v1.2h-1.6zM106 3h1.6v1.2h-1.6zM21 4h1.6v1.2h-1.6zM47 4h1.6v1.2h-1.6zM96 4h1.6v1.2h-1.6zM10 5h1.6v1.2h-1.6zM13 5h1.6v1.2h-1.6zM70 5h1.6v1.2h-1.6zM72 5h1.6v1.2h-1.6zM3 6h1.6v1.2h-1.6zM22 6h1.6v1.2h-1.6zM49 6h1.6v1.2h-1.6zM72 6h1.6v1.2h-1.6zM101 6h2.6v1.2h-2.6zM22 7h3.6v1.2h-3.6zM46 7h2.6v1.2h-2.6zM63 8h1.6v1.2h-1.6zM80 8h1.6v1.2h-1.6zM83 8h1.6v1.2h-1.6zM99 8h1.6v1.2h-1.6zM107 8h1.6v1.2h-1.6zM8 9h1.6v1.2h-1.6zM11 9h1.6v1.2h-1.6zM19 9h1.6v1.2h-1.6zM22 9h1.6v1.2h-1.6zM24 9h1.6v1.2h-1.6zM31 9h1.6v1.2h-1.6zM76 9h1.6v1.2h-1.6zM80 9h1.6v1.2h-1.6zM110 9h1.6v1.2h-1.6zM61 10h1.6v1.2h-1.6zM79 11h1.6v1.2h-1.6zM60 14h1.6v1.2h-1.6zM102 17h1.6v1.2h-1.6zM61 19h1.6v1.2h-1.6zM27 21h1.6v1.2h-1.6zM95 22h1.6v1.2h-1.6zM62 23h1.6v1.2h-1.6zM73 24h1.6v1.2h-1.6zM92 24h1.6v1.2h-1.6zM94 24h1.6v1.2h-1.6zM105 26h1.6v1.2h-1.6zM21 27h1.6v1.2h-1.6zM80 27h1.6v1.2h-1.6zM9 28h1.6v1.2h-1.6zM56 28h1.6v1.2h-1.6zM83 28h1.6v1.2h-1.6zM18 29h1.6v1.2h-1.6zM26 29h1.6v1.2h-1.6zM92 29h1.6v1.2h-1.6zM99 29h1.6v1.2h-1.6zM105 29h1.6v1.2h-1.6zM32 30h1.6v1.2h-1.6zM42 30h1.6v1.2h-1.6zM45 30h1.6v1.2h-1.6zM46 31h1.6v1.2h-1.6zM64 32h1.6v1.2h-1.6zM73 32h1.6v1.2h-1.6zM102 32h1.6v1.2h-1.6zM13 34h1.6v1.2h-1.6zM100 35h1.6v1h-1.6z"/>
<path fill="#0f9880" d="M21 0h1.6v1.2h-1.6zM37 1h1.6v1.2h-1.6zM47 1h1.6v1.2h-1.6zM49 1h1.6v1.2h-1.6zM52 1h1.6v1.2h-1.6zM72 1h1.6v1.2h-1.6zM107 1h1.6v1.2h-1.6zM110 1h1.6v1.2h-1.6zM23 2h1.6v1.2h-1.6zM27 2h1.6v1.2h-1.6zM30 2h1.6v1.2h-1.6zM72 2h1.6v1.2h-1.6zM95 2h1.6v1.2h-1.6zM97 2h1.6v1.2h-1.6zM104 2h1.6v1.2h-1.6zM23 3h1.6v1.2h-1.6zM31 3h1.6v1.2h-1.6zM49 3h1.6v1.2h-1.6zM97 3h1.6v1.2h-1.6zM107 3h1.6v1.2h-1.6zM2 4h1.6v1.2h-1.6zM5 4h1.6v1.2h-1.6zM26 4h1.6v1.2h-1.6zM31 4h1.6v1.2h-1.6zM2 5h1.6v1.2h-1.6zM20 5h1.6v1.2h-1.6zM46 5h1.6v1.2h-1.6zM2 6h1.6v1.2h-1.6zM15 6h1.6v1.2h-1.6zM25 6h1.6v1.2h-1.6zM27 6h1.6v1.2h-1.6zM80 6h1.6v1.2h-1.6zM96 6h1.6v1.2h-1.6zM103 6h1.6v1.2h-1.6zM108 6h1.6v1.2h-1.6zM1 7h1.6v1.2h-1.6zM27 7h2.6v1.2h-2.6zM31 7h1.6v1.2h-1.6zM49 7h1.6v1.2h-1.6zM76 7h1.6v1.2h-1.6zM80 7h1.6v1.2h-1.6zM102 8h1.6v1.2h-1.6zM7 9h1.6v1.2h-1.6zM15 9h1.6v1.2h-1.6zM30 9h1.6v1.2h-1.6zM32 9h1.6v1.2h-1.6zM88 9h1.6v1.2h-1.6zM109 9h1.6v1.2h-1.6zM111 9h1.6v1.2h-1.6zM53 10h1.6v1.2h-1.6zM46 13h1.6v1.2h-1.6zM26 14h1.6v1.2h-1.6zM9 15h1.6v1.2h-1.6zM62 16h1.6v1.2h-1.6zM102 16h1.6v1.2h-1.6zM61 17h1.6v1.2h-1.6zM50 18h1.6v1.2h-1.6zM52 18h1.6v1.2h-1.6zM68 19h1.6v1.2h-1.6zM55 21h1.6v1.2h-1.6zM102 21h1.6v1.2h-1.6zM19 22h1.6v1.2h-1.6zM83 22h1.6v1.2h-1.6zM93 22h1.6v1.2h-1.6zM71 24h1.6v1.2h-1.6zM83 24h1.6v1.2h-1.6zM98 24h1.6v1.2h-1.6zM49 25h1.6v1.2h-1.6zM80 25h1.6v1.2h-1.6zM85 25h1.6v1.2h-1.6zM88 25h1.6v1.2h-1.6zM103 25h1.6v1.2h-1.6zM11 26h1.6v1.2h-1.6zM106 26h1.6v1.2h-1.6zM30 27h1.6v1.2h-1.6zM26 28h1.6v1.2h-1.6zM46 28h1.6v1.2h-1.6zM29 29h1.6v1.2h-1.6zM75 29h1.6v1.2h-1.6zM32 31h1.6v1.2h-1.6zM84 31h1.6v1.2h-1.6zM21 32h1.6v1.2h-1.6zM45 32h1.6v1.2h-1.6zM13 33h1.6v1.2h-1.6zM100 33h1.6v1.2h-1.6zM44 34h1.6v1.2h-1.6z"/>
<path fill="#109c7b" d="M3 0h1.6v1.2h-1.6zM5 0h1.6v1.2h-1.6zM7 0h1.6v1.2h-1.6zM25 0h1.6v1.2h-1.6zM30 0h2.6v1.2h-2.6zM35 1h1.6v1.2h-1.6zM46 1h1.6v1.2h-1.6zM58 1h1.6v1.2h-1.6zM106 1h1.6v1.2h-1.6zM22 2h1.6v1.2h-1.6zM105 2h1.6v1.2h-1.6zM110 2h1.6v1.2h-1.6zM2 3h3.6v1.2h-3.6zM15 3h1.6v1.2h-1.6zM17 3h1.6v1.2h-1.6zM20 3h2.6v1.2h-2.6zM26 3h1.6v1.2h-1.6zM72 3h1.6v1.2h-1.6zM98 3h1.6v1.2h-1.6zM101 3h2.6v1.2h-2.6zM105 3h1.6v1.2h-1.6zM109 3h1.6v1.2h-1.6zM112 3h1.6v1.2h-1.6zM0 4h2.6v1.2h-2.6zM6 4h1.6v1.2h-1.6zM10 4h1.6v1.2h-1.6zM12 4h1.6v1.2h-1.6zM16 4h1.6v1.2h-1.6zM19 4h2.6v1.2h-2.6zM22 4h1.6v1.2h-1.6zM25 4h1.6v1.2h-1.6zM29 4h2.6v1.2h-2.6zM35 4h1.6v1.2h-1.6zM46 4h1.6v1.2h-1.6zM49 4h1.6v1.2h-1.6zM104 4h1.6v1.2h-1.6zM18 5h1.6v1.2h-1.6zM35 5h1.6v1.2h-1.6zM5 6h1.6v1.2h-1.6zM16 6h1.6v1.2h-1.6zM46 6h1.6v1.2h-1.6zM78 6h1.6v1.2h-1.6zM85 6h1.6v1.2h-1.6zM91 6h1.6v1.2h-1.6zM93 6h2.6v1.2h-2.6zM25 7h1.6v1.2h-1.6zM30 7h1.6v1.2h-1.6zM33 7h1.6v1.2h-1.6zM72 7h1.6v1.2h-1.6zM97 7h1.6v1.2h-1.6zM24 8h1.6v1.2h-1.6zM28 8h1.6v1.2h-1.6zM34 8h1.6v1.2h-1.6zM49 8h1.6v1.2h-1.6zM97 8h1.6v1.2h-1.6zM12 9h1.6v1.2h-1.6zM16 9h2.6v1.2h-2.6zM20 9h1.6v1.2h-1.6zM25 9h1.6v1.2h-1.6zM27 9h2.6v1.2h-2.6zM79 10h1.6v1.2h-1.6zM62 13h1.6v1.2h-1.6zM89 15h1.6v1.2h-1.6zM43 17h1.6v1.2h-1.6zM66 18h1.6v1.2h-1.6zM50 20h1.6v1.2h-1.6zM92 20h1.6v1.2h-1.6zM103 20h1.6v1.2h-1.6zM48 21h1.6v1.2h-1.6zM93 21h1.6v1.2h-1.6zM48 22h1.6v1.2h-1.6zM82 22h1.6v1.2h-1.6zM92 22h1.6v1.2h-1.6zM94 22h1.6v1.2h-1.6zM102 22h1.6v1.2h-1.6zM79 23h1.6v1.2h-1.6zM83 23h1.6v1.2h-1.6zM86 23h1.6v1.2h-1.6zM82 24h1.6v1.2h-1.6zM90 24h1.6v1.2h-1.6zM99 24h2.6v1.2h-2.6zM103 24h1.6v1.2h-1.6zM14 25h1.6v1.2h-1.6zM26 25h1.6v1.2h-1.6zM73 25h1.6v1.2h-1.6zM100 25h1.6v1.2h-1.6zM21 26h1.6v1.2h-1.6zM24 27h1.6v1.2h-1.6zM29 27h1.6v1.2h-1.6zM75 28h1.6v1.2h-1.6zM108 28h1.6v1.2h-1.6zM110 28h2.6v1.2h-2.6zM21 29h1.6v1.2h-1.6zM57 29h1.6v1.2h-1.6zM98 29h1.6v1.2h-1.6zM101 29h1.6v1.2h-1.6zM1 30h1.6v1.2h-1.6zM26 30h1.6v1.2h-1.6zM44 33h1.6v1.2h-1.6zM20 34h1.6v1.2h-1.6z"/>
<path fill="#10a075" d="M0 0h1.6v1.2h-1.6zM4 0h1.6v1.2h-1.6zM6 0h1.6v1.2h-1.6zM10 0h3.6v1.2h-3.6zM14 0h3.6v1.2h-3.6zM18 0h1.6v1.2h-1.6zM20 0h1.6v1.2h-1.6zM22 0h1.6v1.2h-1.6zM24 0h1.6v1.2h-1.6zM26 0h1.6v1.2h-1.6zM29 0h1.6v1.2h-1.6zM21 1h1.6v1.2h-1.6zM25 1h1.6v1.2h-1.6zM27 1h1.6v1.2h-1.6zM29 1h1.6v1.2h-1.6zM33 1h2.6v1.2h-2.6zM95 1h1.6v1.2h-1.6zM104 1h1.6v1.2h-1.6zM111 1h1.6v1.2h-1.6zM1 2h1.6v1.2h-1.6zM31 2h3.6v1.2h-3.6zM98 2h1.6v1.2h-1.6zM101 2h1.6v1.2h-1.6zM109 2h1.6v1.2h-1.6zM1 3h1.6v1.2h-1.6zM5 3h1.6v1.2h-1.6zM7 3h2.6v1.2h-2.6zM10 3h5.6v1.2h-5.6zM16 3h1.6v1.2h-1.6zM22 3h1.6v1.2h-1.6zM25 3h1.6v1.2h-1.6zM29 3h1.6v1.2h-1.6zM94 3h1.6v1.2h-1.6zM110 3h1.6v1.2h-1.6zM8 4h2.6v1.2h-2.6zM11 4h1.6v1.2h-1.6zM15 4h1.6v1.2h-1.6zM17 4h1.6v1.2h-1.6zM23 4h1.6v1.2h-1.6zM95 4h1.6v1.2h-1.6zM112 4h1.6v1.2h-1.6zM33 5h1.6v1.2h-1.6zM105 5h1.6v1.2h-1.6zM111 5h1.6v1.2h-1.6zM21 6h1.6v1.2h-1.6zM29 6h1.6v1.2h-1.6zM35 6h2.6v1.2h-2.6zM75 6h3.6v1.2h-3.6zM79 6h1.6v1.2h-1.6zM81 6h2.6v1.2h-2.6zM84 6h1.6v1.2h-1.6zM87 6h4.6v1.2h-4.6zM92 6h1.6v1.2h-1.6zM95 6h1.6v1.2h-1.6zM99 6h1.6v1.2h-1.6zM6 7h1.6v1.2h-1.6zM14 7h1.6v1.2h-1.6zM34 7h2.6v1.2h-2.6zM109 7h1.6v1.2h-1.6zM1 8h1.6v1.2h-1.6zM6 8h1.6v1.2h-1.6zM25 8h1.6v1.2h-1.6zM29 8h1.6v1.2h-1.6zM33 8h1.6v1.2h-1.6zM46 8h1.6v1.2h-1.6zM76 8h1.6v1.2h-1.6zM111 8h1.6v1.2h-1.6zM5 9h1.6v1.2h-1.6zM10 9h1.6v1.2h-1.6zM33 9h2.6v1.2h-2.6zM72 9h1.6v1.2h-1.6zM62 10h1.6v1.2h-1.6zM62 11h1.6v1.2h-1.6zM64 17h1.6v1.2h-1.6zM53 19h1.6v1.2h-1.6zM27 20h1.6v1.2h-1.6zM54 21h1.6v1.2h-1.6zM81 21h1.6v1.2h-1.6zM78 22h1.6v1.2h-1.6zM80 22h1.6v1.2h-1.6zM103 22h1.6v1.2h-1.6zM98 23h1.6v1.2h-1.6zM27 24h1.6v1.2h-1.6zM44 24h1.6v1.2h-1.6zM87 24h1.6v1.2h-1.6zM55 25h1.6v1.2h-1.6zM44 26h1.6v1.2h-1.6zM50 26h1.6v1.2h-1.6zM108 26h1.6v1.2h-1.6zM110 26h1.6v1.2h-1.6zM34 27h2.6v1.2h-2.6zM67 27h1.6v1.2h-1.6zM56 29h1.6v1.2h-1.6zM91 29h1.6v1.2h-1.6zM16 31h1.6v1.2h-1.6zM66 33h1.6v1.2h-1.6z"/>
<path fill="#19a56c" d="M2 0h1.6v1.2h-1.6zM8 0h2.6v1.2h-2.6zM13 0h1.6v1.2h-1.6zM19 0h1.6v1.2h-1.6zM23 0h1.6v1.2h-1.6zM27 0h2.6v1.2h-2.6zM6 1h1.6v1.2h-1.6zM93 1h1.6v1.2h-1.6zM98 1h1.6v1.2h-1.6zM105 1h1.6v1.2h-1.6zM25 2h1.6v1.2h-1.6zM29 2h1.6v1.2h-1.6zM35 2h1.6v1.2h-1.6zM46 2h1.6v1.2h-1.6zM93 2h1.6v1.2h-1.6zM103 2h1.6v1.2h-1.6zM111 2h1.6v1.2h-1.6zM0 3h1.6v1.2h-1.6zM6 3h1.6v1.2h-1.6zM9 3h1.6v1.2h-1.6zM27 3h1.6v1.2h-1.6zM30 3h1.6v1.2h-1.6zM91 3h1.6v1.2h-1.6zM104 3h1.6v1.2h-1.6zM3 4h1.6v1.2h-1.6zM7 4h1.6v1.2h-1.6zM13 4h2.6v1.2h-2.6zM18 4h1.6v1.2h-1.6zM24 4h1.6v1.2h-1.6zM27 4h2.6v1.2h-2.6zM102 4h2.6v1.2h-2.6zM0 5h1.6v1.2h-1.6zM16 5h1.6v1.2h-1.6zM9 6h1.6v1.2h-1.6zM22 8h1.6v1.2h-1.6zM32 8h1.6v1.2h-1.6zM72 8h1.6v1.2h-1.6zM110 8h1.6v1.2h-1.6zM18 9h1.6v1.2h-1.6zM66 12h1.6v1.2h-1.6zM53 15h1.6v1.2h-1.6zM93 20h1.6v1.2h-1.6zM92 21h1.6v1.2h-1.6zM94 21h1.6v1.2h-1.6zM54 22h1.6v1.2h-1.6zM88 22h1.6v1.2h-1.6zM77 23h1.6v1.2h-1.6zM80 23h1.6v1.2h-1.6zM102 23h1.6v1.2h-1.6zM75 24h1.6v1.2h-1.6zM96 24h1.6v1.2h-1.6zM21 25h1.6v1.2h-1.6zM71 25h1.6v1.2h-1.6zM76 25h1.6v1.2h-1.6zM78 25h1.6v1.2h-1.6zM87 25h1.6v1.2h-1.6zM90 28h1.6v1.2h-1.6zM96 28h1.6v1.2h-1.6zM98 28h1.6v1.2h-1.6zM102 28h1.6v1.2h-1.6zM8 29h1.6v1.2h-1.6zM52 33h1.6v1.2h-1.6zM74 34h1.6v1.2h-1.6z"/>
<path fill="#22aa63" d="M1 0h1.6v1.2h-1.6zM17 0h1.6v1.2h-1.6zM14 1h1.6v1.2h-1.6zM32 1h1.6v1.2h-1.6zM99 1h1.6v1.2h-1.6zM108 1h1.6v1.2h-1.6zM18 3h2.6v1.2h-2.6zM24 3h1.6v1.2h-1.6zM28 3h1.6v1.2h-1.6zM72 4h1.6v1.2h-1.6zM93 4h1.6v1.2h-1.6zM99 4h1.6v1.2h-1.6zM9 5h1.6v1.2h-1.6zM106 5h1.6v1.2h-1.6zM83 6h1.6v1.2h-1.6zM110 6h1.6v1.2h-1.6zM29 7h1.6v1.2h-1.6zM32 7h1.6v1.2h-1.6zM3 8h2.6v1.2h-2.6zM13 8h1.6v1.2h-1.6zM35 8h1.6v1.2h-1.6zM21 9h1.6v1.2h-1.6zM52 12h2.6v1.2h-2.6zM53 16h1.6v1.2h-1.6zM53 18h1.6v1.2h-1.6zM100 21h1.6v1.2h-1.6zM75 22h1.6v1.2h-1.6zM86 22h2.6v1.2h-2.6zM98 22h2.6v1.2h-2.6zM75 25h1.6v1.2h-1.6zM77 25h1.6v1.2h-1.6zM83 25h1.6v1.2h-1.6zM95 25h1.6v1.2h-1.6zM100 26h1.6v1.2h-1.6zM102 26h1.6v1.2h-1.6zM109 28h1.6v1.2h-1.6z"/>
<path fill="#2aae5a" d="M8 1h1.6v1.2h-1.6zM12 1h1.6v1.2h-1.6zM15 1h1.6v1.2h-1.6zM100 1h1.6v1.2h-1.6zM102 1h2.6v1.2h-2.6zM112 1h1.6v1.2h-1.6zM3 2h1.6v1.2h-1.6zM6 2h1.6v1.2h-1.6zM13 2h1.6v1.2h-1.6zM15 2h1.6v1.2h-1.6zM21 2h1.6v1.2h-1.6zM26 2h1.6v1.2h-1.6zM100 2h1.6v1.2h-1.6zM92 3h1.6v1.2h-1.6zM100 3h1.6v1.2h-1.6zM4 4h1.6v1.2h-1.6zM91 4h1.6v1.2h-1.6zM98 4h1.6v1.2h-1.6zM100 4h1.6v1.2h-1.6zM106 4h1.6v1.2h-1.6zM91 5h1.6v1.2h-1.6zM101 5h1.6v1.2h-1.6zM112 5h1.6v1.2h-1.6zM0 6h1.6v1.2h-1.6zM86 6h1.6v1.2h-1.6zM97 6h1.6v1.2h-1.6zM107 6h1.6v1.2h-1.6zM109 6h1.6v1.2h-1.6zM3 7h1.6v1.2h-1.6zM21 8h1.6v1.2h-1.6zM26 8h1.6v1.2h-1.6zM104 8h1.6v1.2h-1.6zM109 8h1.6v1.2h-1.6zM0 9h1.6v1.2h-1.6zM2 9h1.6v1.2h-1.6zM9 9h1.6v1.2h-1.6zM52 11h1.6v1.2h-1.6zM53 13h1.6v1.2h-1.6zM52 16h1.6v1.2h-1.6zM52 19h1.6v1.2h-1.6zM97 21h1.6v1.2h-1.6zM24 22h1.6v1.2h-1.6zM85 22h1.6v1.2h-1.6zM24 23h1.6v1.2h-1.6zM76 23h1.6v1.2h-1.6zM82 23h1.6v1.2h-1.6zM87 23h1.6v1.2h-1.6zM103 23h1.6v1.2h-1.6zM84 24h1.6v1.2h-1.6zM81 25h1.6v1.2h-1.6zM94 25h1.6v1.2h-1.6zM99 26h1.6v1.2h-1.6zM109 26h1.6v1.2h-1.6zM91 28h1.6v1.2h-1.6zM94 28h1.6v1.2h-1.6zM0 31h1.6v1.2h-1.6zM64 33h1.6v1.2h-1.6z"/>
<path fill="#33b351" d="M20 1h1.6v1.2h-1.6zM22 1h1.6v1.2h-1.6zM111 4h1.6v1.2h-1.6zM94 5h1.6v1.2h-1.6zM26 6h1.6v1.2h-1.6zM98 6h1.6v1.2h-1.6zM12 7h1.6v1.2h-1.6zM17 7h1.6v1.2h-1.6zM26 7h1.6v1.2h-1.6zM11 8h1.6v1.2h-1.6zM14 8h1.6v1.2h-1.6zM26 9h1.6v1.2h-1.6zM52 10h1.6v1.2h-1.6zM53 17h1.6v1.2h-1.6zM55 17h1.6v1.2h-1.6zM55 18h1.6v1.2h-1.6zM84 21h1.6v1.2h-1.6zM98 21h1.6v1.2h-1.6zM76 22h1.6v1.2h-1.6zM81 22h1.6v1.2h-1.6zM101 22h1.6v1.2h-1.6zM85 23h1.6v1.2h-1.6zM78 24h1.6v1.2h-1.6zM80 24h1.6v1.2h-1.6zM79 25h1.6v1.2h-1.6zM84 25h1.6v1.2h-1.6zM101 26h1.6v1.2h-1.6zM104 26h1.6v1.2h-1.6zM36 28h1.6v1.2h-1.6zM106 28h1.6v1.2h-1.6zM63 32h1.6v1.2h-1.6zM65 33h1.6v1.2h-1.6z"/>
<path fill="#3cb848" d="M3 1h1.6v1.2h-1.6zM10 1h1.6v1.2h-1.6zM16 1h2.6v1.2h-2.6zM26 1h1.6v1.2h-1.6zM2 2h1.6v1.2h-1.6zM4 2h2.6v1.2h-2.6zM8 2h1.6v1.2h-1.6zM11 2h1.6v1.2h-1.6zM14 2h1.6v1.2h-1.6zM94 2h1.6v1.2h-1.6zM111 3h1.6v1.2h-1.6zM101 4h1.6v1.2h-1.6zM25 5h1.6v1.2h-1.6zM32 5h1.6v1.2h-1.6zM111 6h1.6v1.2h-1.6zM4 7h1.6v1.2h-1.6zM11 7h1.6v1.2h-1.6zM15 7h1.6v1.2h-1.6zM19 7h1.6v1.2h-1.6zM21 7h1.6v1.2h-1.6zM5 8h1.6v1.2h-1.6zM8 8h1.6v1.2h-1.6zM105 8h1.6v1.2h-1.6zM29 9h1.6v1.2h-1.6zM53 11h1.6v1.2h-1.6zM52 14h2.6v1.2h-2.6zM52 17h1.6v1.2h-1.6zM71 19h1.6v1.2h-1.6zM82 20h1.6v1.2h-1.6zM97 20h1.6v1.2h-1.6zM97 22h1.6v1.2h-1.6zM100 22h1.6v1.2h-1.6zM84 23h1.6v1.2h-1.6zM95 23h2.6v1.2h-2.6zM99 23h1.6v1.2h-1.6zM79 24h1.6v1.2h-1.6zM86 25h1.6v1.2h-1.6zM92 25h1.6v1.2h-1.6zM79 27h1.6v1.2h-1.6zM83 27h1.6v1.2h-1.6zM104 28h1.6v1.2h-1.6zM107 28h1.6v1.2h-1.6zM65 31h1.6v1.2h-1.6zM74 31h1.6v1.2h-1.6zM63 33h1.6v1.2h-1.6z"/>
<path fill="#46bd4a" d="M4 1h2.6v1.2h-2.6zM7 1h1.6v1.2h-1.6zM11 1h1.6v1.2h-1.6zM13 1h1.6v1.2h-1.6zM19 1h1.6v1.2h-1.6zM109 1h1.6v1.2h-1.6zM7 2h1.6v1.2h-1.6zM17 2h1.6v1.2h-1.6zM92 2h1.6v1.2h-1.6zM108 3h1.6v1.2h-1.6zM28 5h1.6v1.2h-1.6zM102 5h1.6v1.2h-1.6zM109 5h1.6v1.2h-1.6zM7 7h2.6v1.2h-2.6zM13 7h1.6v1.2h-1.6zM16 7h1.6v1.2h-1.6zM2 8h1.6v1.2h-1.6zM7 8h1.6v1.2h-1.6zM10 8h1.6v1.2h-1.6zM12 8h1.6v1.2h-1.6zM15 8h3.6v1.2h-3.6zM19 8h2.6v1.2h-2.6zM106 8h1.6v1.2h-1.6zM59 17h1.6v1.2h-1.6zM65 17h1.6v1.2h-1.6zM115 18h1.6v1.2h-1.6zM55 19h3.6v1.2h-3.6zM69 19h1.6v1.2h-1.6zM115 19h1.6v1.2h-1.6zM83 20h1.6v1.2h-1.6zM85 20h1.6v1.2h-1.6zM77 21h1.6v1.2h-1.6zM93 23h2.6v1.2h-2.6zM77 24h1.6v1.2h-1.6zM85 24h1.6v1.2h-1.6zM82 25h1.6v1.2h-1.6zM98 25h1.6v1.2h-1.6zM76 27h2.6v1.2h-2.6zM99 28h1.6v1.2h-1.6z"/>
<path fill="#51c24b" d="M10 2h1.6v1.2h-1.6zM12 2h1.6v1.2h-1.6zM105 4h1.6v1.2h-1.6zM30 5h1.6v1.2h-1.6zM18 7h1.6v1.2h-1.6zM20 7h1.6v1.2h-1.6zM103 8h1.6v1.2h-1.6zM108 8h1.6v1.2h-1.6zM52 13h1.6v1.2h-1.6zM68 13h1.6v1.2h-1.6zM52 15h1.6v1.2h-1.6zM71 17h1.6v1.2h-1.6zM59 18h1.6v1.2h-1.6zM113 18h1.6v1.2h-1.6zM116 18h1v1.2h-1zM63 19h3.6v1.2h-3.6zM70 19h1.6v1.2h-1.6zM100 20h1.6v1.2h-1.6zM77 22h1.6v1.2h-1.6zM101 24h1.6v1.2h-1.6zM93 25h1.6v1.2h-1.6zM111 26h1.6v1.2h-1.6zM97 28h1.6v1.2h-1.6zM64 34h1.6v1.2h-1.6z"/>
<path fill="#5bc64d" d="M19 2h2.6v1.2h-2.6zM95 3h1.6v1.2h-1.6zM2 7h1.6v1.2h-1.6zM5 7h1.6v1.2h-1.6zM10 7h1.6v1.2h-1.6zM69 15h1.6v1.2h-1.6zM57 17h1.6v1.2h-1.6zM57 18h2.6v1.2h-2.6zM71 18h1.6v1.2h-1.6zM75 20h1.6v1.2h-1.6zM77 20h1.6v1.2h-1.6zM75 21h1.6v1.2h-1.6zM96 22h1.6v1.2h-1.6zM81 23h1.6v1.2h-1.6zM100 23h1.6v1.2h-1.6zM103 26h1.6v1.2h-1.6zM107 26h1.6v1.2h-1.6zM92 28h2.6v1.2h-2.6zM105 28h1.6v1.2h-1.6zM65 32h1.6v1.2h-1.6zM74 32h1.6v1.2h-1.6z"/>
<path fill="#66cb4e" d="M16 2h1.6v1.2h-1.6zM18 2h1.6v1.2h-1.6zM22 5h1.6v1.2h-1.6zM27 5h1.6v1.2h-1.6zM99 5h1.6v1.2h-1.6zM63 14h1.6v1.2h-1.6zM71 14h1.6v1.2h-1.6zM65 15h1.6v1.2h-1.6zM63 17h1.6v1.2h-1.6zM68 17h1.6v1.2h-1.6zM114 17h2.6v1.2h-2.6zM69 18h1.6v1.2h-1.6zM114 18h1.6v1.2h-1.6zM113 19h2.6v1.2h-2.6zM116 19h1v1.2h-1zM84 20h1.6v1.2h-1.6zM98 20h1.6v1.2h-1.6zM85 21h2.6v1.2h-2.6zM95 21h1.6v1.2h-1.6zM24 24h1.6v1.2h-1.6zM97 25h1.6v1.2h-1.6zM99 25h1.6v1.2h-1.6zM84 27h1.6v1.2h-1.6zM86 27h1.6v1.2h-1.6zM95 28h1.6v1.2h-1.6zM63 31h1.6v1.2h-1.6zM65 34h1.6v1.2h-1.6z"/>
<path fill="#70d050" d="M2 1h1.6v1.2h-1.6zM24 5h1.6v1.2h-1.6zM31 5h1.6v1.2h-1.6zM63 12h1.6v1.2h-1.6zM58 17h1.6v1.2h-1.6zM113 17h1.6v1.2h-1.6zM116 17h1v1.2h-1zM68 18h1.6v1.2h-1.6zM70 18h1.6v1.2h-1.6zM95 20h1.6v1.2h-1.6zM78 21h1.6v1.2h-1.6zM99 21h1.6v1.2h-1.6zM101 28h1.6v1.2h-1.6zM59 34h1.6v1.2h-1.6zM63 34h1.6v1.2h-1.6zM68 34h1.6v1.2h-1.6z"/>
<path fill="#7ed24b" d="M0 1h1.6v1.2h-1.6zM23 5h1.6v1.2h-1.6zM29 5h1.6v1.2h-1.6zM0 7h1.6v1.2h-1.6zM0 8h1.6v1.2h-1.6zM69 17h2.6v1.2h-2.6zM58 19h2.6v1.2h-2.6zM80 20h1.6v1.2h-1.6zM86 20h2.6v1.2h-2.6zM94 20h1.6v1.2h-1.6zM82 21h1.6v1.2h-1.6zM96 21h1.6v1.2h-1.6zM75 23h1.6v1.2h-1.6zM76 24h1.6v1.2h-1.6zM86 24h1.6v1.2h-1.6zM97 26h1.6v1.2h-1.6zM85 27h1.6v1.2h-1.6zM57 31h1.6v1.2h-1.6zM70 34h1.6v1.2h-1.6z"/>
<path fill="#8dd546" d="M18 1h1.6v1.2h-1.6zM9 2h1.6v1.2h-1.6zM18 8h1.6v1.2h-1.6zM71 10h1.6v1.2h-1.6zM71 11h1.6v1.2h-1.6zM68 12h1.6v1.2h-1.6zM65 13h1.6v1.2h-1.6zM71 15h1.6v1.2h-1.6zM69 16h1.6v1.2h-1.6zM63 18h1.6v1.2h-1.6zM96 20h1.6v1.2h-1.6zM80 21h1.6v1.2h-1.6zM95 26h1.6v1.2h-1.6zM75 27h1.6v1.2h-1.6zM100 28h1.6v1.2h-1.6zM56 31h1.6v1.2h-1.6zM58 31h1.6v1.2h-1.6zM64 31h1.6v1.2h-1.6zM69 31h1.6v1.2h-1.6z"/>
<path fill="#9bd742" d="M0 2h1.6v1.2h-1.6zM26 5h1.6v1.2h-1.6zM9 7h1.6v1.2h-1.6zM69 10h1.6v1.2h-1.6zM65 12h1.6v1.2h-1.6zM59 15h1.6v1.2h-1.6zM64 15h1.6v1.2h-1.6zM65 18h1.6v1.2h-1.6zM83 21h1.6v1.2h-1.6zM87 21h1.6v1.2h-1.6zM96 25h1.6v1.2h-1.6zM74 27h1.6v1.2h-1.6zM82 27h1.6v1.2h-1.6zM70 31h1.6v1.2h-1.6zM69 32h1.6v1.2h-1.6z"/>
<path fill="#aada3d" d="M64 10h1.6v1.2h-1.6zM64 11h2.6v1.2h-2.6zM56 12h1.6v1.2h-1.6zM69 12h1.6v1.2h-1.6zM63 13h1.6v1.2h-1.6zM69 13h1.6v1.2h-1.6zM64 14h1.6v1.2h-1.6zM70 15h1.6v1.2h-1.6zM56 17h1.6v1.2h-1.6zM64 18h1.6v1.2h-1.6zM54 19h1.6v1.2h-1.6zM78 20h1.6v1.2h-1.6zM79 21h1.6v1.2h-1.6zM88 27h1.6v1.2h-1.6zM68 31h1.6v1.2h-1.6zM58 33h1.6v1.2h-1.6z"/>
<path fill="#b8dc38" d="M9 1h1.6v1.2h-1.6zM9 8h1.6v1.2h-1.6zM63 10h1.6v1.2h-1.6zM55 11h1.6v1.2h-1.6zM58 11h1.6v1.2h-1.6zM69 14h2.6v1.2h-2.6zM58 15h1.6v1.2h-1.6zM57 16h1.6v1.2h-1.6zM54 18h1.6v1.2h-1.6zM81 20h1.6v1.2h-1.6zM78 27h1.6v1.2h-1.6zM60 32h1.6v1.2h-1.6zM57 33h1.6v1.2h-1.6zM74 33h1.6v1.2h-1.6zM115 33h1.6v1.2h-1.6z"/>
<path fill="#c1de35" d="M55 10h2.6v1.2h-2.6zM59 11h1.6v1.2h-1.6zM64 12h1.6v1.2h-1.6zM55 13h2.6v1.2h-2.6zM70 13h2.6v1.2h-2.6zM57 14h1.6v1.2h-1.6zM68 14h1.6v1.2h-1.6zM54 15h2.6v1.2h-2.6zM63 15h1.6v1.2h-1.6zM68 16h1.6v1.2h-1.6zM71 16h1.6v1.2h-1.6zM54 17h1.6v1.2h-1.6zM56 18h1.6v1.2h-1.6zM79 20h1.6v1.2h-1.6zM76 21h1.6v1.2h-1.6zM88 21h1.6v1.2h-1.6zM96 26h1.6v1.2h-1.6zM98 26h1.6v1.2h-1.6zM81 27h1.6v1.2h-1.6zM87 27h1.6v1.2h-1.6zM71 31h1.6v1.2h-1.6zM56 33h1.6v1.2h-1.6zM116 33h1v1.2h-1zM57 34h1.6v1.2h-1.6z"/>
<path fill="#cbe033" d="M65 10h1.6v1.2h-1.6zM116 10h1v1.2h-1zM63 11h1.6v1.2h-1.6zM68 11h2.6v1.2h-2.6zM70 12h1.6v1.2h-1.6zM114 13h1.6v1.2h-1.6zM57 15h1.6v1.2h-1.6zM114 31h2.6v1.2h-2.6zM56 32h1.6v1.2h-1.6zM68 32h1.6v1.2h-1.6zM70 32h1.6v1.2h-1.6zM60 33h1.6v1.2h-1.6zM70 33h1.6v1.2h-1.6zM56 34h1.6v1.2h-1.6zM60 34h1.6v1.2h-1.6z"/>
<path fill="#d4e230" d="M58 10h1.6v1.2h-1.6zM68 10h1.6v1.2h-1.6zM113 10h1.6v1.2h-1.6zM58 12h1.6v1.2h-1.6zM71 12h1.6v1.2h-1.6zM114 12h1.6v1.2h-1.6zM59 13h1.6v1.2h-1.6zM58 14h1.6v1.2h-1.6zM113 14h4v1.2h-4zM68 15h1.6v1.2h-1.6zM55 16h1.6v1.2h-1.6zM58 16h2.6v1.2h-2.6zM63 16h2.6v1.2h-2.6zM70 16h1.6v1.2h-1.6zM115 16h1.6v1.2h-1.6zM76 20h1.6v1.2h-1.6zM88 20h1.6v1.2h-1.6zM114 30h3v1.2h-3zM113 31h1.6v1.2h-1.6zM116 31h1v1.2h-1zM113 32h2.6v1.2h-2.6zM116 32h1v1.2h-1zM68 33h2.6v1.2h-2.6zM114 33h1.6v1.2h-1.6zM116 34h1v1.2h-1zM114 35h1.6v1h-1.6zM116 35h1v1h-1z"/>
<path fill="#dde42d" d="M54 10h1.6v1.2h-1.6zM57 10h1.6v1.2h-1.6zM115 10h1.6v1.2h-1.6zM54 11h1.6v1.2h-1.6zM115 11h1.6v1.2h-1.6zM55 12h1.6v1.2h-1.6zM59 12h1.6v1.2h-1.6zM115 13h1.6v1.2h-1.6zM55 14h1.6v1.2h-1.6zM56 15h1.6v1.2h-1.6zM114 15h3v1.2h-3zM114 16h1.6v1.2h-1.6zM116 16h1v1.2h-1zM59 31h2.6v1.2h-2.6zM58 32h1.6v1.2h-1.6zM115 32h1.6v1.2h-1.6zM113 33h1.6v1.2h-1.6zM58 34h1.6v1.2h-1.6zM114 34h2.6v1.2h-2.6z"/>
<path fill="#e7e62b" d="M21 5h1.6v1.2h-1.6zM114 10h1.6v1.2h-1.6zM70 11h1.6v1.2h-1.6zM113 11h2.6v1.2h-2.6zM116 12h1v1.2h-1zM113 13h1.6v1.2h-1.6zM116 13h1v1.2h-1zM113 15h1.6v1.2h-1.6zM113 16h1.6v1.2h-1.6zM113 30h1.6v1.2h-1.6zM57 32h1.6v1.2h-1.6zM71 33h1.6v1.2h-1.6zM69 34h1.6v1.2h-1.6zM113 34h1.6v1.2h-1.6zM113 35h1.6v1h-1.6zM115 35h1.6v1h-1.6z"/>
<path fill="#f0e828" d="M59 10h1.6v1.2h-1.6zM70 10h1.6v1.2h-1.6zM56 11h2.6v1.2h-2.6zM116 11h1v1.2h-1zM54 12h1.6v1.2h-1.6zM57 12h1.6v1.2h-1.6zM113 12h1.6v1.2h-1.6zM115 12h1.6v1.2h-1.6zM54 13h1.6v1.2h-1.6zM57 13h2.6v1.2h-2.6zM64 13h1.6v1.2h-1.6zM54 14h1.6v1.2h-1.6zM56 14h1.6v1.2h-1.6zM59 14h1.6v1.2h-1.6zM65 14h1.6v1.2h-1.6zM54 16h1.6v1.2h-1.6zM56 16h1.6v1.2h-1.6zM65 16h1.6v1.2h-1.6zM59 32h1.6v1.2h-1.6zM71 32h1.6v1.2h-1.6zM59 33h1.6v1.2h-1.6zM71 34h1.6v1.2h-1.6z"/>
</g>
<rect x="358.7" y="330.7" width="0.8" height="180.50" fill="#0c5068" opacity="0.8"/>
<text x="355.9" y="334.15" font-size="6.0" text-anchor="end" fill="#222">HBB</text>
<text x="355.9" y="339.253" font-size="6.0" text-anchor="end" fill="#222">LTB</text>
<text x="355.9" y="344.356" font-size="6.0" text-anchor="end" fill="#222">IL7R</text>
<text x="355.9" y="349.459" font-size="6.0" text-anchor="end" fill="#222">HBA2</text>
<text x="355.9" y="354.56199999999995" font-size="6.0" text-anchor="end" fill="#222">HBA1</text>
<text x="355.9" y="359.66499999999996" font-size="6.0" text-anchor="end" fill="#222">HBG2</text>
<text x="355.9" y="364.768" font-size="6.0" text-anchor="end" fill="#222">LYZ</text>
<text x="355.9" y="369.871" font-size="6.0" text-anchor="end" fill="#222">AC099550.2</text>
<text x="355.9" y="374.974" font-size="6.0" text-anchor="end" fill="#222">FOS</text>
<text x="355.9" y="380.077" font-size="6.0" text-anchor="end" fill="#222">RPL23A</text>
<text x="355.9" y="385.17999999999995" font-size="6.0" text-anchor="end" fill="#222">STMN1</text>
<text x="355.9" y="390.28299999999996" font-size="6.0" text-anchor="end" fill="#222">TUBA1B</text>
<text x="355.9" y="395.38599999999997" font-size="6.0" text-anchor="end" fill="#222">TOP2A</text>
<text x="355.9" y="400.489" font-size="6.0" text-anchor="end" fill="#222">MKI67</text>
<text x="355.9" y="405.592" font-size="6.0" text-anchor="end" fill="#222">HIST1H4C</text>
<text x="355.9" y="410.695" font-size="6.0" text-anchor="end" fill="#222">CENPF</text>
<text x="355.9" y="415.798" font-size="6.0" text-anchor="end" fill="#222">NUSAP1</text>
<text x="355.9" y="420.90099999999995" font-size="6.0" text-anchor="end" fill="#222">TYMS</text>
<text x="355.9" y="426.00399999999996" font-size="6.0" text-anchor="end" fill="#222">HIST1H1E</text>
<text x="355.9" y="431.10699999999997" font-size="6.0" text-anchor="end" fill="#222">H2AFZ</text>
<text x="355.9" y="436.21" font-size="6.0" text-anchor="end" fill="#222">AREG</text>
<text x="355.9" y="441.313" font-size="6.0" text-anchor="end" fill="#222">KIR2DS4</text>
<text x="355.9" y="446.41599999999994" font-size="6.0" text-anchor="end" fill="#222">TRDC</text>
<text x="355.9" y="451.519" font-size="6.0" text-anchor="end" fill="#222">KIR2DL3</text>
<text x="355.9" y="456.62199999999996" font-size="6.0" text-anchor="end" fill="#222">KIR2DL4</text>
<text x="355.9" y="461.72499999999997" font-size="6.0" text-anchor="end" fill="#222">KIR2DL1</text>
<text x="355.9" y="466.828" font-size="6.0" text-anchor="end" fill="#222">LAIR2</text>
<text x="355.9" y="471.931" font-size="6.0" text-anchor="end" fill="#222">TYROBP</text>
<text x="355.9" y="477.034" font-size="6.0" text-anchor="end" fill="#222">FCGR3A</text>
<text x="355.9" y="482.13699999999994" font-size="6.0" text-anchor="end" fill="#222">KLRF1</text>
<text x="355.9" y="487.24" font-size="6.0" text-anchor="end" fill="#222">IL2RA</text>
<text x="355.9" y="492.34299999999996" font-size="6.0" text-anchor="end" fill="#222">UBE2C</text>
<text x="355.9" y="497.44599999999997" font-size="6.0" text-anchor="end" fill="#222">PTTG1</text>
<text x="355.9" y="502.549" font-size="6.0" text-anchor="end" fill="#222">TUBB4B</text>
<text x="355.9" y="507.65199999999993" font-size="6.0" text-anchor="end" fill="#222">TUBB</text>
<text x="355.9" y="512.755" font-size="6.0" text-anchor="end" fill="#222">FOXP3</text>
<text x="478.8" y="383.3" font-size="5.8" textLength="28.2" lengthAdjust="spacingAndGlyphs" fill="#333">Expression</text>
<defs><linearGradient id="vg" x1="0" y1="1" x2="0" y2="0"><stop offset="0.00" stop-color="#440154"/><stop offset="0.10" stop-color="#482475"/><stop offset="0.20" stop-color="#414487"/><stop offset="0.30" stop-color="#355f8d"/><stop offset="0.40" stop-color="#2a788e"/><stop offset="0.50" stop-color="#21918c"/><stop offset="0.60" stop-color="#22a884"/><stop offset="0.70" stop-color="#44bf70"/><stop offset="0.80" stop-color="#7ad151"/><stop offset="0.90" stop-color="#bddf26"/><stop offset="1.00" stop-color="#fde725"/></linearGradient></defs>
<rect x="483.5" y="385.9" width="4.5" height="28.5" fill="url(#vg)"/>
<text x="490.2" y="393.0" font-size="5.6" fill="#333">2</text>
<text x="490.2" y="398.5" font-size="5.6" fill="#333">1</text>
<text x="490.2" y="404.0" font-size="5.6" fill="#333">0</text>
<text x="490.2" y="409.8" font-size="5.6" fill="#333">−1</text>
<text x="490.2" y="415.6" font-size="5.6" fill="#333">−2</text>
<text x="478.8" y="427.6" font-size="5.8" textLength="18.3" lengthAdjust="spacingAndGlyphs" fill="#333">Identity</text>
<circle cx="485.9" cy="434.10" r="1.2" fill="#1a4a8a"/>
<text x="490.1" y="436.1" font-size="5.6" fill="#333">Naive T</text>
<circle cx="485.9" cy="443.10" r="1.2" fill="#c98a55"/>
<text x="490.1" y="445.1" font-size="5.6" fill="#333">CD8 Teff</text>
<circle cx="485.9" cy="452.10" r="1.2" fill="#1a7a45"/>
<text x="490.1" y="454.1" font-size="5.6" fill="#333">GDTCells</text>
<circle cx="485.9" cy="461.10" r="1.2" fill="#b52535"/>
<text x="490.1" y="463.1" font-size="5.6" fill="#333">Treg</text>
<g>
<polygon points="74.8,135.6 78.1,134.0 78.8,136.2 83.1,136.2 85.0,138.8 84.4,141.2 88.8,143.8 92.5,146.2 93.5,150.0 92.8,154.4 88.8,157.5 85.0,160.6 80.0,161.9 75.0,163.1 75.6,160.0 77.5,156.2 76.2,153.8 73.1,150.0 72.5,146.9 75.0,145.0 77.5,143.1 77.5,139.4 76.9,136.9" fill="#1266b3" stroke="#1266b3" stroke-width="0.6" stroke-linejoin="round"/>
<polygon points="45.4,169.8 51.2,169.0 55.8,170.4 59.8,172.7 62.7,175.6 65.0,177.9 68.5,180.2 73.1,180.6 77.7,180.0 82.3,180.6 82.6,181.6 78.8,182.3 73.1,182.5 70.8,184.8 69.6,188.3 69.6,191.2 66.2,191.2 64.4,192.9 63.8,196.9 62.7,201.0 61.5,203.3 58.0,204.4 53.5,205.0 50.6,203.8 49.4,199.2 49.4,194.6 50.0,191.7 46.5,191.2 43.1,188.8 41.3,184.2 40.8,178.5 41.3,173.8 43.1,171.0" fill="#1266b3" stroke="#1266b3" stroke-width="0.6" stroke-linejoin="round"/>
<polygon points="89.0,171.0 91.5,169.5 95.0,169.0 98.0,168.5 101.0,169.0 103.5,170.5 104.0,175.0 103.0,180.0 99.5,182.5 94.0,182.8 90.5,180.5 88.8,176.0" fill="#1266b3" stroke="#1266b3" stroke-width="0.6" stroke-linejoin="round"/>
<polygon points="102.7,164.6 106.5,164.2 109.6,166.9 112.7,168.5 115.8,166.2 120.4,163.5 120.0,166.9 117.3,170.8 117.3,175.4 116.5,180.8 114.2,183.8 110.4,186.2 105.0,189.2 101.2,190.8 98.8,187.7 99.6,183.8 101.2,180.8 100.8,175.4 101.2,169.2" fill="#17994a" stroke="#17994a" stroke-width="0.6" stroke-linejoin="round"/>
<polygon points="135.1,165.0 139.1,163.5 143.6,163.3 145.5,166.5 149.0,168.5 154.0,170.5 159.5,172.5 162.8,176.0 163.2,181.0 161.0,185.5 156.0,188.2 150.0,189.0 148.0,190.5 148.2,195.0 146.6,199.5 142.1,202.0 137.6,200.5 134.5,197.0 132.2,192.0 134.0,189.0 137.0,187.0 139.0,184.5 141.5,181.0 142.5,177.0 142.0,173.0 140.0,168.5 136.1,167.2" fill="#f07c14" stroke="#f07c14" stroke-width="0.6" stroke-linejoin="round"/>
<polygon points="76.5,203.5 80.0,202.8 84.0,201.2 88.0,200.2 93.0,199.8 96.5,201.5 99.0,204.5 98.5,206.5 95.0,206.0 91.0,205.5 87.0,206.0 84.5,207.5 83.0,210.5 82.6,215.0 82.2,219.5 80.2,220.0 80.0,215.0 80.3,210.0 79.5,207.0 77.0,205.5" fill="#aa58c4" stroke="#aa58c4" stroke-width="0.6" stroke-linejoin="round"/>
<polygon points="94.3,206.4 99.0,206.6 103.1,208.5 105.1,212.5 105.1,217.9 104.4,223.3 103.1,228.6 101.7,232.7 99.0,235.4 96.3,234.7 95.7,228.6 95.7,221.9 96.3,215.2 95.3,209.8" fill="#eb82b4" stroke="#eb82b4" stroke-width="0.6" stroke-linejoin="round"/>
<polygon points="101.5,228.5 104.5,229.5 107.5,232.0 112.5,233.5 117.5,231.5 121.5,229.0 125.0,228.5 124.5,232.0 121.5,237.0 117.0,241.0 111.0,243.8 105.5,243.2 102.5,239.5 100.8,234.5" fill="#f07c14" stroke="#f07c14" stroke-width="0.6" stroke-linejoin="round"/>
<polygon points="64.0,215.2 68.1,215.2 70.8,217.6 76.2,218.2 78.5,220.9 74.8,225.3 71.4,226.6 68.1,225.3 66.1,221.9 64.0,218.6" fill="#f07c14" stroke="#f07c14" stroke-width="0.6" stroke-linejoin="round"/>
<polygon points="70.8,216.2 74.8,215.0 78.8,217.5 80.4,219.9 77.2,222.2 72.1,220.6" fill="#1266b3" stroke="#1266b3" stroke-width="0.6" stroke-linejoin="round"/>
<polygon points="75.4,180.3 82.4,180.5 82.6,181.7 75.4,182.2" fill="#17994a"/>
<polygon points="99.2,188.8 101.8,189.4 102.2,191.6 100,191.2" fill="#d62728"/>
<path d="M117.8,141 Q121,136.2 125.5,135.3 Q128.5,135 130.2,137" fill="none" stroke="#bcbd22" stroke-width="1.4"/>
<g fill="#fff"><circle cx="63.4" cy="187.2" r="1.3"/><circle cx="61.5" cy="185.8" r="0.7"/><circle cx="82.5" cy="140.3" r="0.9"/><circle cx="104.5" cy="175" r="1.1"/><circle cx="106.8" cy="177.6" r="0.9"/><circle cx="110" cy="176.5" r="0.6"/><circle cx="103.5" cy="178.6" r="0.6"/><circle cx="105.5" cy="171.5" r="0.8"/><circle cx="108.5" cy="173.2" r="0.7"/><circle cx="112.5" cy="175.5" r="0.6"/><circle cx="114.8" cy="171" r="0.5"/><circle cx="140.5" cy="185.6" r="0.7"/><circle cx="139" cy="190" r="0.6"/><circle cx="144" cy="166" r="0.6"/></g>
<g fill="#1266b3"><circle cx="86.4" cy="157.1" r="0.55"/><circle cx="86.2" cy="158.5" r="0.55"/><circle cx="83.2" cy="141.2" r="0.55"/><circle cx="73.7" cy="150.3" r="0.55"/><circle cx="81.1" cy="135.0" r="0.55"/><circle cx="80.4" cy="133.8" r="0.55"/><circle cx="75.2" cy="159.8" r="0.55"/><circle cx="75.6" cy="135.0" r="0.55"/><circle cx="84.9" cy="141.7" r="0.55"/><circle cx="85.9" cy="159.1" r="0.55"/><circle cx="82.9" cy="160.2" r="0.55"/><circle cx="75.2" cy="159.7" r="0.55"/><circle cx="76.6" cy="135.7" r="0.55"/><circle cx="77.1" cy="156.5" r="0.55"/><circle cx="93.6" cy="146.7" r="0.55"/><circle cx="92.4" cy="154.3" r="0.55"/><circle cx="77.2" cy="138.0" r="0.55"/><circle cx="87.2" cy="141.8" r="0.55"/><circle cx="75.9" cy="136.7" r="0.55"/><circle cx="75.3" cy="161.6" r="0.55"/><circle cx="79.2" cy="138.3" r="0.55"/><circle cx="75.5" cy="152.7" r="0.55"/><circle cx="83.0" cy="136.8" r="0.55"/><circle cx="83.6" cy="140.3" r="0.55"/><circle cx="84.8" cy="141.1" r="0.55"/><circle cx="76.1" cy="161.7" r="0.55"/><circle cx="86.3" cy="144.9" r="0.55"/><circle cx="72.3" cy="150.8" r="0.55"/><circle cx="85.0" cy="143.5" r="0.55"/><circle cx="77.6" cy="162.8" r="0.55"/><circle cx="86.5" cy="144.1" r="0.55"/><circle cx="93.2" cy="149.6" r="0.55"/><circle cx="80.0" cy="135.9" r="0.55"/><circle cx="75.9" cy="163.4" r="0.55"/></g>
<g fill="#1266b3"><circle cx="40.4" cy="173.4" r="0.55"/><circle cx="41.9" cy="185.7" r="0.55"/><circle cx="41.2" cy="179.2" r="0.55"/><circle cx="66.7" cy="177.0" r="0.55"/><circle cx="69.3" cy="179.0" r="0.55"/><circle cx="60.3" cy="203.8" r="0.55"/><circle cx="51.1" cy="169.0" r="0.55"/><circle cx="49.8" cy="202.8" r="0.55"/><circle cx="61.4" cy="203.8" r="0.55"/><circle cx="50.0" cy="199.4" r="0.55"/><circle cx="64.0" cy="197.8" r="0.55"/><circle cx="78.7" cy="179.8" r="0.55"/><circle cx="47.4" cy="170.5" r="0.55"/><circle cx="53.5" cy="170.4" r="0.55"/><circle cx="63.4" cy="201.0" r="0.55"/><circle cx="42.4" cy="181.9" r="0.55"/><circle cx="49.9" cy="202.6" r="0.55"/><circle cx="51.9" cy="169.4" r="0.55"/><circle cx="50.2" cy="201.6" r="0.55"/><circle cx="55.1" cy="204.8" r="0.55"/><circle cx="82.9" cy="181.5" r="0.55"/><circle cx="63.6" cy="195.2" r="0.55"/><circle cx="48.9" cy="195.4" r="0.55"/><circle cx="40.0" cy="180.0" r="0.55"/><circle cx="41.6" cy="180.1" r="0.55"/><circle cx="49.1" cy="190.6" r="0.55"/><circle cx="57.1" cy="205.2" r="0.55"/><circle cx="61.1" cy="204.4" r="0.55"/><circle cx="45.7" cy="169.2" r="0.55"/><circle cx="73.6" cy="181.3" r="0.55"/><circle cx="70.0" cy="187.3" r="0.55"/><circle cx="50.6" cy="195.5" r="0.55"/><circle cx="68.1" cy="192.6" r="0.55"/><circle cx="64.4" cy="190.1" r="0.55"/><circle cx="75.8" cy="180.4" r="0.55"/><circle cx="51.4" cy="204.6" r="0.55"/><circle cx="40.4" cy="179.3" r="0.55"/><circle cx="40.5" cy="183.2" r="0.55"/><circle cx="66.3" cy="180.4" r="0.55"/><circle cx="41.5" cy="178.4" r="0.55"/><circle cx="62.1" cy="202.2" r="0.55"/><circle cx="66.9" cy="189.9" r="0.55"/><circle cx="50.4" cy="200.1" r="0.55"/><circle cx="63.9" cy="177.7" r="0.55"/><circle cx="68.6" cy="180.9" r="0.55"/><circle cx="65.6" cy="192.8" r="0.55"/><circle cx="43.0" cy="171.0" r="0.55"/><circle cx="49.7" cy="169.1" r="0.55"/><circle cx="49.1" cy="200.3" r="0.55"/></g>
<g fill="#1266b3"><circle cx="91.3" cy="180.8" r="0.55"/><circle cx="105.2" cy="177.5" r="0.55"/><circle cx="100.3" cy="169.1" r="0.55"/><circle cx="96.9" cy="183.0" r="0.55"/><circle cx="97.7" cy="180.5" r="0.55"/><circle cx="95.7" cy="183.7" r="0.55"/><circle cx="98.3" cy="168.7" r="0.55"/><circle cx="94.3" cy="183.4" r="0.55"/><circle cx="103.3" cy="170.9" r="0.55"/><circle cx="98.9" cy="181.6" r="0.55"/><circle cx="91.1" cy="180.5" r="0.55"/><circle cx="88.8" cy="173.8" r="0.55"/><circle cx="102.2" cy="175.8" r="0.55"/><circle cx="102.1" cy="172.7" r="0.55"/><circle cx="91.5" cy="180.2" r="0.55"/><circle cx="97.4" cy="184.0" r="0.55"/><circle cx="89.3" cy="178.5" r="0.55"/><circle cx="101.0" cy="167.2" r="0.55"/></g>
<g fill="#17994a"><circle cx="100.6" cy="166.1" r="0.55"/><circle cx="119.6" cy="168.6" r="0.55"/><circle cx="118.1" cy="172.2" r="0.55"/><circle cx="110.7" cy="185.0" r="0.55"/><circle cx="105.2" cy="164.0" r="0.55"/><circle cx="101.3" cy="182.0" r="0.55"/><circle cx="100.8" cy="182.6" r="0.55"/><circle cx="112.7" cy="182.8" r="0.55"/><circle cx="101.4" cy="189.4" r="0.55"/><circle cx="101.9" cy="169.0" r="0.55"/><circle cx="111.9" cy="186.4" r="0.55"/><circle cx="102.2" cy="189.4" r="0.55"/><circle cx="109.6" cy="187.3" r="0.55"/><circle cx="101.5" cy="177.2" r="0.55"/><circle cx="102.0" cy="176.8" r="0.55"/><circle cx="109.3" cy="188.1" r="0.55"/><circle cx="113.8" cy="183.8" r="0.55"/><circle cx="101.0" cy="167.0" r="0.55"/><circle cx="100.0" cy="180.8" r="0.55"/><circle cx="101.3" cy="190.1" r="0.55"/><circle cx="119.0" cy="176.7" r="0.55"/><circle cx="119.7" cy="165.9" r="0.55"/><circle cx="117.6" cy="177.2" r="0.55"/><circle cx="115.2" cy="182.7" r="0.55"/><circle cx="106.0" cy="188.7" r="0.55"/><circle cx="100.7" cy="182.9" r="0.55"/><circle cx="119.0" cy="163.4" r="0.55"/><circle cx="117.0" cy="172.0" r="0.55"/></g>
<g fill="#f07c14"><circle cx="133.9" cy="191.2" r="0.55"/><circle cx="161.5" cy="175.3" r="0.55"/><circle cx="151.1" cy="189.4" r="0.55"/><circle cx="147.7" cy="197.8" r="0.55"/><circle cx="136.9" cy="199.7" r="0.55"/><circle cx="140.6" cy="178.2" r="0.55"/><circle cx="159.6" cy="171.0" r="0.55"/><circle cx="141.7" cy="174.0" r="0.55"/><circle cx="141.8" cy="174.2" r="0.55"/><circle cx="142.7" cy="175.6" r="0.55"/><circle cx="132.8" cy="191.3" r="0.55"/><circle cx="139.7" cy="182.2" r="0.55"/><circle cx="146.7" cy="168.6" r="0.55"/><circle cx="137.5" cy="165.5" r="0.55"/><circle cx="142.1" cy="172.2" r="0.55"/><circle cx="148.2" cy="193.5" r="0.55"/><circle cx="133.8" cy="195.6" r="0.55"/><circle cx="146.9" cy="166.9" r="0.55"/><circle cx="147.5" cy="195.4" r="0.55"/><circle cx="154.8" cy="172.3" r="0.55"/><circle cx="135.9" cy="165.9" r="0.55"/><circle cx="143.2" cy="163.1" r="0.55"/><circle cx="135.5" cy="188.6" r="0.55"/><circle cx="146.9" cy="196.2" r="0.55"/><circle cx="136.1" cy="162.8" r="0.55"/><circle cx="152.5" cy="170.9" r="0.55"/><circle cx="155.7" cy="188.8" r="0.55"/><circle cx="150.0" cy="195.5" r="0.55"/><circle cx="138.5" cy="182.8" r="0.55"/><circle cx="136.8" cy="201.3" r="0.55"/><circle cx="149.8" cy="194.2" r="0.55"/><circle cx="163.0" cy="174.1" r="0.55"/><circle cx="137.6" cy="185.9" r="0.55"/><circle cx="143.1" cy="173.0" r="0.55"/><circle cx="136.3" cy="186.6" r="0.55"/><circle cx="133.4" cy="191.7" r="0.55"/><circle cx="149.2" cy="190.3" r="0.55"/><circle cx="136.5" cy="199.4" r="0.55"/><circle cx="139.6" cy="167.9" r="0.55"/><circle cx="134.3" cy="197.5" r="0.55"/></g>
<g fill="#eb82b4"><circle cx="105.1" cy="225.8" r="0.55"/><circle cx="95.9" cy="224.4" r="0.55"/><circle cx="94.8" cy="205.5" r="0.55"/><circle cx="104.9" cy="216.8" r="0.55"/><circle cx="104.8" cy="212.7" r="0.55"/><circle cx="106.0" cy="215.6" r="0.55"/><circle cx="102.1" cy="233.2" r="0.55"/><circle cx="93.3" cy="205.5" r="0.55"/><circle cx="98.3" cy="206.0" r="0.55"/><circle cx="97.9" cy="206.3" r="0.55"/><circle cx="102.7" cy="232.2" r="0.55"/><circle cx="98.2" cy="233.9" r="0.55"/><circle cx="102.1" cy="227.7" r="0.55"/><circle cx="103.9" cy="225.4" r="0.55"/><circle cx="97.9" cy="236.6" r="0.55"/><circle cx="105.6" cy="219.4" r="0.55"/><circle cx="98.1" cy="207.8" r="0.55"/><circle cx="105.0" cy="224.9" r="0.55"/><circle cx="99.9" cy="206.4" r="0.55"/><circle cx="100.2" cy="206.2" r="0.55"/><circle cx="102.7" cy="231.5" r="0.55"/></g>
<g fill="#f07c14"><circle cx="122.0" cy="237.2" r="0.55"/><circle cx="124.5" cy="234.5" r="0.55"/><circle cx="117.3" cy="242.1" r="0.55"/><circle cx="123.4" cy="234.2" r="0.55"/><circle cx="121.1" cy="238.6" r="0.55"/><circle cx="111.7" cy="243.4" r="0.55"/><circle cx="116.2" cy="241.2" r="0.55"/><circle cx="122.5" cy="238.0" r="0.55"/><circle cx="107.9" cy="243.9" r="0.55"/><circle cx="101.5" cy="234.6" r="0.55"/><circle cx="123.9" cy="230.0" r="0.55"/><circle cx="117.4" cy="239.0" r="0.55"/><circle cx="106.8" cy="243.9" r="0.55"/><circle cx="102.9" cy="229.0" r="0.55"/><circle cx="104.8" cy="229.6" r="0.55"/><circle cx="124.1" cy="231.8" r="0.55"/><circle cx="120.1" cy="238.8" r="0.55"/><circle cx="110.6" cy="243.0" r="0.55"/><circle cx="124.4" cy="228.6" r="0.55"/><circle cx="122.9" cy="227.1" r="0.55"/><circle cx="107.2" cy="231.9" r="0.55"/></g>
<g fill="#f07c14"><circle cx="72.0" cy="225.8" r="0.55"/><circle cx="78.0" cy="223.0" r="0.55"/><circle cx="75.9" cy="217.4" r="0.55"/><circle cx="74.9" cy="217.9" r="0.55"/><circle cx="63.2" cy="218.8" r="0.55"/><circle cx="68.2" cy="214.9" r="0.55"/><circle cx="66.4" cy="214.8" r="0.55"/><circle cx="69.1" cy="227.4" r="0.55"/><circle cx="67.4" cy="216.5" r="0.55"/><circle cx="66.9" cy="216.6" r="0.55"/><circle cx="69.2" cy="226.2" r="0.55"/><circle cx="77.0" cy="218.5" r="0.55"/><circle cx="68.3" cy="214.5" r="0.55"/><circle cx="65.9" cy="217.8" r="0.55"/><circle cx="78.0" cy="221.1" r="0.55"/></g>
<g fill="#fff"><circle cx="79.2" cy="145.6" r="0.58"/><circle cx="80.1" cy="144.6" r="0.41"/><circle cx="80.8" cy="145.3" r="0.36"/><circle cx="84.3" cy="157.2" r="0.46"/><circle cx="90.1" cy="150.4" r="0.35"/></g>
<g fill="#fff"><circle cx="52.6" cy="169.8" r="0.45"/><circle cx="63.5" cy="189.4" r="0.59"/><circle cx="43.5" cy="188.7" r="0.54"/><circle cx="44.3" cy="171.9" r="0.52"/><circle cx="51.1" cy="176.9" r="0.53"/></g>
<g fill="#fff"><circle cx="110.1" cy="184.4" r="0.42"/><circle cx="113.3" cy="177.0" r="0.46"/><circle cx="114.4" cy="182.8" r="0.57"/><circle cx="107.7" cy="186.1" r="0.50"/><circle cx="110.1" cy="182.9" r="0.54"/></g>
<g fill="#fff"><circle cx="145.3" cy="179.6" r="0.34"/><circle cx="143.8" cy="169.8" r="0.36"/><circle cx="145.4" cy="174.6" r="0.59"/><circle cx="135.8" cy="188.4" r="0.53"/><circle cx="137.8" cy="165.7" r="0.44"/></g>
<g fill="#fff"><circle cx="100.6" cy="232.8" r="0.31"/><circle cx="96.6" cy="213.2" r="0.52"/><circle cx="100.7" cy="212.9" r="0.36"/><circle cx="97.3" cy="211.4" r="0.53"/><circle cx="97.7" cy="222.3" r="0.55"/></g>
<g fill="#fff"><circle cx="109.1" cy="236.9" r="0.59"/><circle cx="120.2" cy="234.4" r="0.46"/><circle cx="112.2" cy="234.2" r="0.54"/><circle cx="118.1" cy="237.8" r="0.35"/><circle cx="104.6" cy="233.4" r="0.38"/></g>
<g fill="#fff"><circle cx="82.5" cy="210.6" r="0.35"/><circle cx="95.0" cy="201.5" r="0.38"/><circle cx="92.6" cy="201.8" r="0.44"/><circle cx="81.2" cy="210.8" r="0.46"/><circle cx="83.5" cy="206.1" r="0.32"/><circle cx="83.4" cy="209.2" r="0.51"/></g>
<g fill="#aa58c4"><circle cx="74.9" cy="206.6" r="0.55"/><circle cx="78.7" cy="205.6" r="0.55"/><circle cx="71.4" cy="205.6" r="0.55"/><circle cx="83.5" cy="200.7" r="0.55"/><circle cx="84.1" cy="203.1" r="0.55"/><circle cx="81.6" cy="201.7" r="0.55"/><circle cx="85.8" cy="201.2" r="0.55"/><circle cx="94.8" cy="202.4" r="0.55"/><circle cx="88.5" cy="200.8" r="0.55"/><circle cx="91.6" cy="200.8" r="0.55"/><circle cx="91.0" cy="203.4" r="0.55"/><circle cx="92.4" cy="203.4" r="0.55"/><circle cx="95.0" cy="205.7" r="0.55"/><circle cx="97.4" cy="205.2" r="0.55"/><circle cx="97.3" cy="202.4" r="0.55"/><circle cx="84.7" cy="207.2" r="0.55"/><circle cx="81.7" cy="206.4" r="0.55"/><circle cx="82.4" cy="207.3" r="0.55"/><circle cx="82.1" cy="212.6" r="0.55"/><circle cx="80.0" cy="209.5" r="0.55"/><circle cx="82.5" cy="213.7" r="0.55"/><circle cx="82.8" cy="213.9" r="0.55"/><circle cx="82.6" cy="216.7" r="0.55"/><circle cx="81.9" cy="216.8" r="0.55"/><circle cx="80.3" cy="219.4" r="0.55"/><circle cx="83.0" cy="218.1" r="0.55"/><circle cx="77.8" cy="218.8" r="0.55"/><circle cx="85.4" cy="200.7" r="0.55"/><circle cx="83.5" cy="205.1" r="0.55"/><circle cx="84.7" cy="204.2" r="0.55"/><circle cx="87.2" cy="204.6" r="0.55"/><circle cx="93.9" cy="202.6" r="0.55"/><circle cx="88.4" cy="200.9" r="0.55"/></g>
</g>
<text x="97.9" y="140.4" font-size="4.6" textLength="47.3" lengthAdjust="spacingAndGlyphs" fill="#333">Pleural_mesothelial_cells</text>
<text x="50.5" y="178.3" font-size="4.6" textLength="25" lengthAdjust="spacingAndGlyphs" fill="#333">Plasma_cells</text>
<text x="91.2" y="195.2" font-size="4.6" textLength="13" lengthAdjust="spacingAndGlyphs" fill="#333">B_cells</text>
<text x="132.6" y="197.6" font-size="4.6" textLength="11.5" lengthAdjust="spacingAndGlyphs" fill="#333">Myeloid</text>
<text x="67.6" y="214.2" font-size="4.6" textLength="24" lengthAdjust="spacingAndGlyphs" fill="#333">Erythroblasts</text>
<text x="97.8" y="222.1" font-size="4.6" textLength="10.8" lengthAdjust="spacingAndGlyphs" fill="#333">NMPs</text>
<text x="104.5" y="180.5" font-size="4.6" textLength="12.5" lengthAdjust="spacingAndGlyphs" fill="#333">T_cells</text>
<defs>
<clipPath id="cTOP"><polygon points="74.8,135.6 78.1,134.0 78.8,136.2 83.1,136.2 85.0,138.8 84.4,141.2 88.8,143.8 92.5,146.2 93.5,150.0 92.8,154.4 88.8,157.5 85.0,160.6 80.0,161.9 75.0,163.1 75.6,160.0 77.5,156.2 76.2,153.8 73.1,150.0 72.5,146.9 75.0,145.0 77.5,143.1 77.5,139.4 76.9,136.9"/></clipPath>
<clipPath id="cLEFT"><polygon points="45.4,169.8 51.2,169.0 55.8,170.4 59.8,172.7 62.7,175.6 65.0,177.9 68.5,180.2 73.1,180.6 77.7,180.0 82.3,180.6 82.6,181.6 78.8,182.3 73.1,182.5 70.8,184.8 69.6,188.3 69.6,191.2 66.2,191.2 64.4,192.9 63.8,196.9 62.7,201.0 61.5,203.3 58.0,204.4 53.5,205.0 50.6,203.8 49.4,199.2 49.4,194.6 50.0,191.7 46.5,191.2 43.1,188.8 41.3,184.2 40.8,178.5 41.3,173.8 43.1,171.0"/></clipPath>
<clipPath id="cMIDB"><polygon points="89.0,171.0 91.5,169.5 95.0,169.0 98.0,168.5 101.0,169.0 103.5,170.5 104.0,175.0 103.0,180.0 99.5,182.5 94.0,182.8 90.5,180.5 88.8,176.0"/></clipPath>
<clipPath id="cMIDG"><polygon points="102.7,164.6 106.5,164.2 109.6,166.9 112.7,168.5 115.8,166.2 120.4,163.5 120.0,166.9 117.3,170.8 117.3,175.4 116.5,180.8 114.2,183.8 110.4,186.2 105.0,189.2 101.2,190.8 98.8,187.7 99.6,183.8 101.2,180.8 100.8,175.4 101.2,169.2"/></clipPath>
<clipPath id="cRIGHT"><polygon points="135.1,165.0 139.1,163.5 143.6,163.3 145.5,166.5 149.0,168.5 154.0,170.5 159.5,172.5 162.8,176.0 163.2,181.0 161.0,185.5 156.0,188.2 150.0,189.0 148.0,190.5 148.2,195.0 146.6,199.5 142.1,202.0 137.6,200.5 134.5,197.0 132.2,192.0 134.0,189.0 137.0,187.0 139.0,184.5 141.5,181.0 142.5,177.0 142.0,173.0 140.0,168.5 136.1,167.2"/></clipPath>
<clipPath id="cORB"><polygon points="101.5,228.5 104.5,229.5 107.5,232.0 112.5,233.5 117.5,231.5 121.5,229.0 125.0,228.5 124.5,232.0 121.5,237.0 117.0,241.0 111.0,243.8 105.5,243.2 102.5,239.5 100.8,234.5"/></clipPath>
<clipPath id="cSM"><polygon points="64.0,215.2 68.1,215.2 70.8,217.6 76.2,218.2 78.5,220.9 74.8,225.3 71.4,226.6 68.1,225.3 66.1,221.9 64.0,218.6 70.8,216.2 74.8,215.0 78.8,217.5 80.4,219.9 77.2,222.2 72.1,220.6"/></clipPath>
</defs>
<g transform="translate(243.1,189.1) scale(0.866,0.9655) translate(-92.7,-186.8)">
<polygon points="74.8,135.6 78.1,134.0 78.8,136.2 83.1,136.2 85.0,138.8 84.4,141.2 88.8,143.8 92.5,146.2 93.5,150.0 92.8,154.4 88.8,157.5 85.0,160.6 80.0,161.9 75.0,163.1 75.6,160.0 77.5,156.2 76.2,153.8 73.1,150.0 72.5,146.9 75.0,145.0 77.5,143.1 77.5,139.4 76.9,136.9" fill="#17994a" stroke="#17994a" stroke-width="0.6"/>
<g clip-path="url(#cTOP)"><polygon points="70,155 84,153.5 96,149 96,166 70,166" fill="#b45cc6"/><polygon points="70,130 82,130 81,139 70,141" fill="#d0525e"/></g>
<polygon points="45.4,169.8 51.2,169.0 55.8,170.4 59.8,172.7 62.7,175.6 65.0,177.9 68.5,180.2 73.1,180.6 77.7,180.0 82.3,180.6 82.6,181.6 78.8,182.3 73.1,182.5 70.8,184.8 69.6,188.3 69.6,191.2 66.2,191.2 64.4,192.9 63.8,196.9 62.7,201.0 61.5,203.3 58.0,204.4 53.5,205.0 50.6,203.8 49.4,199.2 49.4,194.6 50.0,191.7 46.5,191.2 43.1,188.8 41.3,184.2 40.8,178.5 41.3,173.8 43.1,171.0" fill="#e0241f" stroke="#e0241f" stroke-width="0.6"/>
<g clip-path="url(#cLEFT)"><polygon points="38,166 58,166 57,180 55,190 38,192" fill="#d0525e"/><polygon points="46,190 60,189 66,191 66,206 46,206" fill="#ee88b4"/></g>
<polygon points="75.4,180.3 82.4,180.5 82.6,181.7 75.4,182.2" fill="#e0241f"/>
<polygon points="89.0,171.0 91.5,169.5 95.0,169.0 98.0,168.5 101.0,169.0 103.5,170.5 104.0,175.0 103.0,180.0 99.5,182.5 94.0,182.8 90.5,180.5 88.8,176.0" fill="#b45cc6" stroke="#b45cc6" stroke-width="0.6"/>
<polygon points="102.7,164.6 106.5,164.2 109.6,166.9 112.7,168.5 115.8,166.2 120.4,163.5 120.0,166.9 117.3,170.8 117.3,175.4 116.5,180.8 114.2,183.8 110.4,186.2 105.0,189.2 101.2,190.8 98.8,187.7 99.6,183.8 101.2,180.8 100.8,175.4 101.2,169.2" fill="#bcbd22" stroke="#bcbd22" stroke-width="0.6"/>
<g clip-path="url(#cMIDG)"><polygon points="98,160 122,160 122,168 116,172 104,174 98,174" fill="#f07c14"/><polygon points="101,162 108,162 108,169 101,170" fill="#a0522d"/><polygon points="106,164 116,164 115,172 106,174" fill="#17994a"/><polygon points="115,162 122,162 119,168 114,169" fill="#e0241f"/><polygon points="111,167 116,166 112,172" fill="#1a8a8a"/><polygon points="98,176 102,175 103,186 99,190" fill="#f07c14"/></g>
<polygon points="135.1,165.0 139.1,163.5 143.6,163.3 145.5,166.5 149.0,168.5 154.0,170.5 159.5,172.5 162.8,176.0 163.2,181.0 161.0,185.5 156.0,188.2 150.0,189.0 148.0,190.5 148.2,195.0 146.6,199.5 142.1,202.0 137.6,200.5 134.5,197.0 132.2,192.0 134.0,189.0 137.0,187.0 139.0,184.5 141.5,181.0 142.5,177.0 142.0,173.0 140.0,168.5 136.1,167.2" fill="#f07c14" stroke="#f07c14" stroke-width="0.6"/>
<g clip-path="url(#cRIGHT)"><polygon points="132,160 147,160 147,170 136,171" fill="#d0525e"/><polygon points="145,166 152,168 158,173 150,174 146,171" fill="#1266b3"/><polygon points="149,173 158,173 161,177 151,177" fill="#17994a"/><polygon points="144,183 151,183 151,187.5 145,188" fill="#e0241f"/><polygon points="130,188 150,188 150,204 130,204" fill="#bcbd22"/><polygon points="130,188 138,188 140,197 130,197" fill="#ee88b4"/></g>
<polygon points="76.5,203.5 80.0,202.8 84.0,201.2 88.0,200.2 93.0,199.8 96.5,201.5 99.0,204.5 98.5,206.5 95.0,206.0 91.0,205.5 87.0,206.0 84.5,207.5 83.0,210.5 82.6,215.0 82.2,219.5 80.2,220.0 80.0,215.0 80.3,210.0 79.5,207.0 77.0,205.5" fill="#ee88b4" stroke="#ee88b4" stroke-width="0.6"/>
<polygon points="94.3,206.4 99.0,206.6 103.1,208.5 105.1,212.5 105.1,217.9 104.4,223.3 103.1,228.6 101.7,232.7 99.0,235.4 96.3,234.7 95.7,228.6 95.7,221.9 96.3,215.2 95.3,209.8" fill="#ee88b4" stroke="#ee88b4" stroke-width="0.6"/>
<polygon points="101.5,228.5 104.5,229.5 107.5,232.0 112.5,233.5 117.5,231.5 121.5,229.0 125.0,228.5 124.5,232.0 121.5,237.0 117.0,241.0 111.0,243.8 105.5,243.2 102.5,239.5 100.8,234.5" fill="#ee88b4" stroke="#ee88b4" stroke-width="0.6"/>
<g clip-path="url(#cORB)"><polygon points="100,236 110,238 118,235 126,229 126,246 100,246" fill="#17994a"/><polygon points="100,241 110,242 118,239 126,233 126,246 100,246" fill="#f07c14"/></g>
<polygon points="64.0,215.2 68.1,215.2 70.8,217.6 76.2,218.2 78.5,220.9 74.8,225.3 71.4,226.6 68.1,225.3 66.1,221.9 64.0,218.6" fill="#bcbd22" stroke="#bcbd22" stroke-width="0.6"/>
<polygon points="70.8,216.2 74.8,215.0 78.8,217.5 80.4,219.9 77.2,222.2 72.1,220.6" fill="#bcbd22" stroke="#bcbd22" stroke-width="0.6"/>
<g clip-path="url(#cSM)"><polygon points="70,216 78,217 79,221 72,222" fill="#e0241f"/><polygon points="69,218 72,217 72,221 69,221" fill="#f07c14"/></g>
<path d="M117.8,141 Q121,136.2 125.5,135.3 Q128.5,135 130.2,137" fill="none" stroke="#1a5fa8" stroke-width="1.8"/>
<g fill="#17994a"><circle cx="75.8" cy="135.6" r="0.55"/><circle cx="76.2" cy="161.0" r="0.55"/><circle cx="84.8" cy="159.1" r="0.55"/><circle cx="76.5" cy="164.2" r="0.55"/><circle cx="76.7" cy="142.6" r="0.55"/><circle cx="86.0" cy="161.6" r="0.55"/><circle cx="74.3" cy="136.1" r="0.55"/><circle cx="73.7" cy="148.5" r="0.55"/><circle cx="75.2" cy="162.8" r="0.55"/><circle cx="87.7" cy="143.3" r="0.55"/><circle cx="94.1" cy="148.9" r="0.55"/><circle cx="89.3" cy="160.1" r="0.55"/><circle cx="84.9" cy="136.8" r="0.55"/><circle cx="79.4" cy="161.6" r="0.55"/><circle cx="79.2" cy="142.2" r="0.55"/><circle cx="77.8" cy="163.9" r="0.55"/><circle cx="92.7" cy="145.6" r="0.55"/><circle cx="79.2" cy="161.7" r="0.55"/><circle cx="81.3" cy="161.7" r="0.55"/><circle cx="86.6" cy="140.7" r="0.55"/><circle cx="75.2" cy="161.1" r="0.55"/><circle cx="75.3" cy="154.4" r="0.55"/><circle cx="73.5" cy="149.0" r="0.55"/><circle cx="87.8" cy="159.4" r="0.55"/><circle cx="79.8" cy="163.0" r="0.55"/><circle cx="89.6" cy="144.5" r="0.55"/><circle cx="76.7" cy="161.5" r="0.55"/><circle cx="85.6" cy="137.7" r="0.55"/><circle cx="86.1" cy="159.5" r="0.55"/></g>
<g fill="#e0241f"><circle cx="50.5" cy="201.6" r="0.55"/><circle cx="69.0" cy="191.1" r="0.55"/><circle cx="41.4" cy="187.1" r="0.55"/><circle cx="64.0" cy="199.0" r="0.55"/><circle cx="62.4" cy="195.2" r="0.55"/><circle cx="83.8" cy="182.1" r="0.55"/><circle cx="40.9" cy="179.7" r="0.55"/><circle cx="49.0" cy="196.2" r="0.55"/><circle cx="55.0" cy="170.6" r="0.55"/><circle cx="65.2" cy="192.1" r="0.55"/><circle cx="49.6" cy="202.3" r="0.55"/><circle cx="81.1" cy="180.9" r="0.55"/><circle cx="56.1" cy="168.7" r="0.55"/><circle cx="53.4" cy="204.0" r="0.55"/><circle cx="46.7" cy="192.6" r="0.55"/><circle cx="63.4" cy="199.5" r="0.55"/><circle cx="48.9" cy="192.2" r="0.55"/><circle cx="41.9" cy="174.3" r="0.55"/><circle cx="80.5" cy="180.7" r="0.55"/><circle cx="41.4" cy="180.7" r="0.55"/><circle cx="77.6" cy="182.2" r="0.55"/><circle cx="50.0" cy="168.8" r="0.55"/><circle cx="68.1" cy="190.6" r="0.55"/><circle cx="69.3" cy="191.9" r="0.55"/><circle cx="41.3" cy="177.6" r="0.55"/><circle cx="42.4" cy="189.5" r="0.55"/><circle cx="67.0" cy="175.7" r="0.55"/><circle cx="67.7" cy="179.5" r="0.55"/><circle cx="41.6" cy="183.6" r="0.55"/><circle cx="48.7" cy="200.2" r="0.55"/><circle cx="41.4" cy="184.3" r="0.55"/><circle cx="51.1" cy="201.9" r="0.55"/><circle cx="55.6" cy="171.1" r="0.55"/><circle cx="49.9" cy="200.9" r="0.55"/><circle cx="71.6" cy="179.2" r="0.55"/><circle cx="74.8" cy="180.8" r="0.55"/><circle cx="62.0" cy="203.3" r="0.55"/><circle cx="40.6" cy="176.8" r="0.55"/><circle cx="58.2" cy="206.0" r="0.55"/><circle cx="68.8" cy="187.4" r="0.55"/><circle cx="50.7" cy="168.6" r="0.55"/><circle cx="74.5" cy="180.1" r="0.55"/></g>
<g fill="#b45cc6"><circle cx="102.2" cy="169.0" r="0.55"/><circle cx="101.4" cy="169.4" r="0.55"/><circle cx="89.0" cy="176.0" r="0.55"/><circle cx="103.5" cy="176.7" r="0.55"/><circle cx="88.3" cy="174.5" r="0.55"/><circle cx="100.8" cy="180.6" r="0.55"/><circle cx="96.9" cy="181.6" r="0.55"/><circle cx="103.8" cy="178.5" r="0.55"/><circle cx="103.2" cy="180.0" r="0.55"/><circle cx="91.9" cy="182.1" r="0.55"/><circle cx="98.5" cy="169.4" r="0.55"/><circle cx="91.2" cy="180.2" r="0.55"/><circle cx="103.4" cy="180.0" r="0.55"/><circle cx="104.3" cy="179.6" r="0.55"/><circle cx="92.3" cy="182.0" r="0.55"/></g>
<g fill="#bcbd22"><circle cx="115.9" cy="166.3" r="0.55"/><circle cx="113.5" cy="183.9" r="0.55"/><circle cx="120.3" cy="164.9" r="0.55"/><circle cx="100.0" cy="171.8" r="0.55"/><circle cx="100.6" cy="182.4" r="0.55"/><circle cx="119.4" cy="169.1" r="0.55"/><circle cx="104.6" cy="188.9" r="0.55"/><circle cx="109.2" cy="188.6" r="0.55"/><circle cx="115.3" cy="167.1" r="0.55"/><circle cx="101.1" cy="188.3" r="0.55"/><circle cx="106.8" cy="165.6" r="0.55"/><circle cx="118.8" cy="164.6" r="0.55"/><circle cx="114.9" cy="180.4" r="0.55"/><circle cx="112.0" cy="168.4" r="0.55"/><circle cx="106.1" cy="166.1" r="0.55"/><circle cx="112.6" cy="168.6" r="0.55"/><circle cx="117.1" cy="178.3" r="0.55"/><circle cx="102.7" cy="163.5" r="0.55"/><circle cx="119.5" cy="165.2" r="0.55"/><circle cx="118.3" cy="164.0" r="0.55"/><circle cx="116.0" cy="175.2" r="0.55"/><circle cx="107.0" cy="188.8" r="0.55"/><circle cx="103.9" cy="190.3" r="0.55"/><circle cx="100.9" cy="188.5" r="0.55"/></g>
<g fill="#f07c14"><circle cx="141.4" cy="175.4" r="0.55"/><circle cx="140.5" cy="181.4" r="0.55"/><circle cx="157.4" cy="172.3" r="0.55"/><circle cx="146.9" cy="200.0" r="0.55"/><circle cx="156.9" cy="172.0" r="0.55"/><circle cx="151.9" cy="188.9" r="0.55"/><circle cx="142.5" cy="178.9" r="0.55"/><circle cx="143.3" cy="162.5" r="0.55"/><circle cx="163.4" cy="176.5" r="0.55"/><circle cx="160.5" cy="176.6" r="0.55"/><circle cx="132.1" cy="192.9" r="0.55"/><circle cx="151.6" cy="168.9" r="0.55"/><circle cx="135.8" cy="185.7" r="0.55"/><circle cx="137.0" cy="164.9" r="0.55"/><circle cx="144.8" cy="163.8" r="0.55"/><circle cx="136.3" cy="187.2" r="0.55"/><circle cx="156.8" cy="188.1" r="0.55"/><circle cx="150.3" cy="169.0" r="0.55"/><circle cx="162.2" cy="181.5" r="0.55"/><circle cx="148.7" cy="167.8" r="0.55"/><circle cx="132.5" cy="190.6" r="0.55"/><circle cx="156.3" cy="172.8" r="0.55"/><circle cx="154.1" cy="189.4" r="0.55"/><circle cx="158.8" cy="173.1" r="0.55"/><circle cx="158.0" cy="171.9" r="0.55"/><circle cx="136.2" cy="199.9" r="0.55"/><circle cx="136.2" cy="168.6" r="0.55"/><circle cx="141.6" cy="172.8" r="0.55"/><circle cx="136.5" cy="196.8" r="0.55"/><circle cx="159.6" cy="172.6" r="0.55"/><circle cx="152.6" cy="188.8" r="0.55"/><circle cx="157.4" cy="188.1" r="0.55"/><circle cx="163.4" cy="177.9" r="0.55"/><circle cx="148.7" cy="192.0" r="0.55"/><circle cx="160.9" cy="173.8" r="0.55"/></g>
<g fill="#ee88b4"><circle cx="103.9" cy="228.9" r="0.55"/><circle cx="94.4" cy="226.4" r="0.55"/><circle cx="95.2" cy="207.0" r="0.55"/><circle cx="98.4" cy="206.8" r="0.55"/><circle cx="100.7" cy="232.3" r="0.55"/><circle cx="104.6" cy="221.6" r="0.55"/><circle cx="105.4" cy="222.2" r="0.55"/><circle cx="104.8" cy="216.5" r="0.55"/><circle cx="100.6" cy="229.6" r="0.55"/><circle cx="102.3" cy="223.0" r="0.55"/><circle cx="94.8" cy="221.1" r="0.55"/><circle cx="102.8" cy="227.6" r="0.55"/><circle cx="96.7" cy="217.4" r="0.55"/><circle cx="96.3" cy="212.6" r="0.55"/><circle cx="100.7" cy="234.1" r="0.55"/><circle cx="95.1" cy="208.4" r="0.55"/><circle cx="104.8" cy="214.1" r="0.55"/><circle cx="93.5" cy="206.2" r="0.55"/></g>
<g fill="#ee88b4"><circle cx="115.2" cy="231.9" r="0.55"/><circle cx="118.6" cy="238.1" r="0.55"/><circle cx="103.6" cy="239.7" r="0.55"/><circle cx="123.8" cy="228.2" r="0.55"/><circle cx="108.7" cy="242.3" r="0.55"/><circle cx="101.4" cy="230.5" r="0.55"/><circle cx="114.1" cy="241.9" r="0.55"/><circle cx="124.4" cy="230.0" r="0.55"/><circle cx="120.2" cy="238.9" r="0.55"/><circle cx="122.2" cy="229.9" r="0.55"/><circle cx="109.4" cy="232.6" r="0.55"/><circle cx="107.4" cy="231.6" r="0.55"/><circle cx="123.6" cy="232.6" r="0.55"/><circle cx="112.8" cy="231.9" r="0.55"/><circle cx="104.9" cy="230.9" r="0.55"/><circle cx="103.2" cy="242.6" r="0.55"/><circle cx="117.2" cy="230.8" r="0.55"/><circle cx="122.4" cy="227.2" r="0.55"/></g>
<g fill="#bcbd22"><circle cx="65.1" cy="221.3" r="0.55"/><circle cx="67.6" cy="224.4" r="0.55"/><circle cx="67.1" cy="223.2" r="0.55"/><circle cx="70.3" cy="226.7" r="0.55"/><circle cx="62.7" cy="214.1" r="0.55"/><circle cx="64.9" cy="217.4" r="0.55"/><circle cx="77.6" cy="220.6" r="0.55"/><circle cx="64.3" cy="217.9" r="0.55"/><circle cx="68.7" cy="225.7" r="0.55"/><circle cx="74.4" cy="215.2" r="0.55"/><circle cx="68.6" cy="215.9" r="0.55"/><circle cx="74.1" cy="225.2" r="0.55"/><circle cx="76.2" cy="216.5" r="0.55"/></g>
<g clip-path="url(#cLEFT)" fill="#e0241f"><circle cx="45.1" cy="177.2" r="0.8"/><circle cx="51.1" cy="185.1" r="0.8"/><circle cx="57.7" cy="177.2" r="0.8"/><circle cx="52.5" cy="180.5" r="0.8"/><circle cx="54.4" cy="172.1" r="0.8"/><circle cx="43.2" cy="171.2" r="0.8"/><circle cx="56.8" cy="174.3" r="0.8"/><circle cx="48.8" cy="171.5" r="0.8"/><circle cx="45.8" cy="169.4" r="0.8"/><circle cx="50.2" cy="172.0" r="0.8"/><circle cx="51.3" cy="174.8" r="0.8"/><circle cx="44.1" cy="179.1" r="0.8"/><circle cx="46.6" cy="174.5" r="0.8"/><circle cx="40.9" cy="170.4" r="0.8"/><circle cx="56.1" cy="175.5" r="0.8"/><circle cx="41.4" cy="172.8" r="0.8"/><circle cx="48.7" cy="189.9" r="0.8"/><circle cx="43.6" cy="187.2" r="0.8"/><circle cx="48.7" cy="177.7" r="0.8"/><circle cx="54.5" cy="177.3" r="0.8"/><circle cx="41.0" cy="180.6" r="0.8"/><circle cx="51.8" cy="182.1" r="0.8"/><circle cx="45.0" cy="188.7" r="0.8"/><circle cx="55.6" cy="189.9" r="0.8"/><circle cx="48.0" cy="186.5" r="0.8"/><circle cx="53.0" cy="172.7" r="0.8"/><circle cx="40.5" cy="172.5" r="0.8"/><circle cx="42.1" cy="170.6" r="0.8"/><circle cx="46.5" cy="184.8" r="0.8"/><circle cx="45.6" cy="179.8" r="0.8"/><circle cx="40.2" cy="173.4" r="0.8"/><circle cx="57.3" cy="169.2" r="0.8"/><circle cx="49.5" cy="186.0" r="0.8"/><circle cx="54.3" cy="184.4" r="0.8"/><circle cx="47.2" cy="185.9" r="0.8"/><circle cx="54.9" cy="185.1" r="0.8"/><circle cx="57.7" cy="171.1" r="0.8"/><circle cx="57.1" cy="177.4" r="0.8"/><circle cx="52.7" cy="174.3" r="0.8"/><circle cx="56.4" cy="169.5" r="0.8"/></g>
<g clip-path="url(#cLEFT)" fill="#d0525e"><circle cx="69.8" cy="179.6" r="0.7"/><circle cx="65.3" cy="181.9" r="0.7"/><circle cx="71.8" cy="189.0" r="0.7"/><circle cx="64.8" cy="186.2" r="0.7"/><circle cx="64.5" cy="180.5" r="0.7"/><circle cx="77.7" cy="181.1" r="0.7"/><circle cx="58.3" cy="181.4" r="0.7"/><circle cx="73.8" cy="179.4" r="0.7"/><circle cx="73.8" cy="184.7" r="0.7"/><circle cx="72.3" cy="178.8" r="0.7"/><circle cx="58.5" cy="178.3" r="0.7"/><circle cx="64.4" cy="182.9" r="0.7"/><circle cx="56.2" cy="184.0" r="0.7"/><circle cx="65.7" cy="181.1" r="0.7"/></g>
<g clip-path="url(#cLEFT)" fill="#e0241f"><circle cx="59.5" cy="197.4" r="0.8"/><circle cx="54.9" cy="196.6" r="0.8"/><circle cx="56.5" cy="195.0" r="0.8"/><circle cx="53.5" cy="197.9" r="0.8"/><circle cx="58.0" cy="197.6" r="0.8"/><circle cx="55.1" cy="190.9" r="0.8"/><circle cx="61.9" cy="188.1" r="0.8"/><circle cx="55.8" cy="194.1" r="0.8"/><circle cx="65.3" cy="189.9" r="0.8"/><circle cx="54.6" cy="190.3" r="0.8"/><circle cx="65.9" cy="187.8" r="0.8"/><circle cx="60.9" cy="190.5" r="0.8"/><circle cx="61.0" cy="188.5" r="0.8"/><circle cx="60.6" cy="196.7" r="0.8"/><circle cx="64.0" cy="193.5" r="0.8"/><circle cx="59.1" cy="192.8" r="0.8"/></g>
<g clip-path="url(#cRIGHT)" fill="#e0241f"><circle cx="139.0" cy="185.4" r="0.8"/><circle cx="153.9" cy="179.3" r="0.8"/><circle cx="153.3" cy="178.7" r="0.8"/><circle cx="146.0" cy="175.7" r="0.8"/><circle cx="151.6" cy="181.2" r="0.8"/><circle cx="149.4" cy="172.5" r="0.8"/><circle cx="152.3" cy="179.1" r="0.8"/><circle cx="151.4" cy="181.5" r="0.8"/><circle cx="160.2" cy="174.4" r="0.8"/><circle cx="148.2" cy="187.9" r="0.8"/><circle cx="155.2" cy="177.0" r="0.8"/><circle cx="155.2" cy="187.8" r="0.8"/><circle cx="146.5" cy="185.9" r="0.8"/><circle cx="139.3" cy="187.8" r="0.8"/><circle cx="148.8" cy="175.7" r="0.8"/><circle cx="157.8" cy="182.4" r="0.8"/><circle cx="160.4" cy="185.3" r="0.8"/><circle cx="156.7" cy="180.2" r="0.8"/></g>
<g clip-path="url(#cMIDG)" fill="#f07c14"><circle cx="117.9" cy="171.3" r="0.7"/><circle cx="115.7" cy="184.2" r="0.7"/><circle cx="104.5" cy="186.1" r="0.7"/><circle cx="108.2" cy="180.7" r="0.7"/><circle cx="115.6" cy="173.9" r="0.7"/><circle cx="105.0" cy="182.9" r="0.7"/><circle cx="101.3" cy="181.1" r="0.7"/><circle cx="114.2" cy="179.8" r="0.7"/><circle cx="104.4" cy="186.0" r="0.7"/><circle cx="115.4" cy="185.4" r="0.7"/><circle cx="109.9" cy="188.1" r="0.7"/><circle cx="114.3" cy="173.0" r="0.7"/><circle cx="106.6" cy="172.0" r="0.7"/><circle cx="100.7" cy="176.9" r="0.7"/><circle cx="115.6" cy="186.7" r="0.7"/><circle cx="102.1" cy="173.6" r="0.7"/></g>
<g clip-path="url(#cTOP)" fill="#b45cc6"><circle cx="80.8" cy="149.6" r="0.7"/><circle cx="85.3" cy="150.4" r="0.7"/><circle cx="74.4" cy="151.8" r="0.7"/><circle cx="77.1" cy="146.1" r="0.7"/><circle cx="90.5" cy="147.6" r="0.7"/><circle cx="76.9" cy="146.7" r="0.7"/><circle cx="81.6" cy="136.2" r="0.7"/><circle cx="79.8" cy="141.0" r="0.7"/><circle cx="85.6" cy="140.5" r="0.7"/><circle cx="85.1" cy="147.1" r="0.7"/></g>
<g fill="#fff"><circle cx="63.4" cy="187.2" r="1.3"/><circle cx="61.5" cy="185.8" r="0.7"/><circle cx="82.5" cy="140.3" r="0.9"/><circle cx="104.5" cy="175" r="1.1"/><circle cx="106.8" cy="177.6" r="0.9"/><circle cx="110" cy="176.5" r="0.6"/><circle cx="103.5" cy="178.6" r="0.6"/><circle cx="105.5" cy="171.5" r="0.8"/><circle cx="108.5" cy="173.2" r="0.7"/><circle cx="112.5" cy="175.5" r="0.6"/><circle cx="114.8" cy="171" r="0.5"/><circle cx="140.5" cy="185.6" r="0.7"/><circle cx="139" cy="190" r="0.6"/><circle cx="144" cy="166" r="0.6"/></g>
</g>
<text x="6.9" y="314.4" font-size="11" font-weight="700" fill="#111">D</text>
<path d="M154.2 357.4h0M128.7 367.6h0M133.1 392.5h0M117.5 418.6h0M146.2 361.0h0M148.0 359.4h0M137.4 358.5h0M118.1 422.1h0M132.8 400.5h0M113.1 420.5h0M153.7 371.6h0M118.8 394.8h0M120.9 372.4h0M149.3 385.4h0M119.6 385.5h0M142.6 353.1h0M122.6 392.9h0M111.7 421.6h0M112.6 406.4h0M121.3 375.8h0M132.0 407.9h0M107.4 405.8h0M121.1 419.2h0M133.2 372.6h0M124.9 366.9h0M127.9 380.9h0M104.3 418.6h0M150.5 358.7h0M109.8 413.2h0M118.4 383.3h0M129.8 404.4h0M129.3 371.0h0M123.2 424.1h0M130.5 374.6h0M122.3 408.7h0M122.4 402.5h0M117.6 385.8h0M118.3 420.9h0M139.3 393.0h0M115.8 400.0h0M128.3 411.0h0M121.5 397.9h0M121.7 413.0h0M131.6 389.1h0M110.8 412.6h0M144.1 361.9h0M147.0 393.1h0M140.3 380.9h0M127.0 398.3h0M113.9 401.1h0M138.2 352.0h0M128.8 366.0h0M128.5 377.8h0M137.1 393.8h0M115.0 417.6h0M117.4 380.0h0M107.8 412.2h0M137.2 356.0h0M133.2 374.7h0M149.3 380.7h0M136.2 391.8h0M136.9 375.6h0M137.3 359.5h0M123.2 381.7h0M158.4 377.7h0M136.2 368.6h0M125.5 373.1h0M117.9 385.1h0M108.2 396.2h0M127.2 371.1h0M117.2 420.1h0M147.1 367.5h0M136.9 385.0h0M139.0 394.8h0M144.9 357.8h0M145.9 371.7h0M132.5 374.4h0M118.5 389.2h0M128.4 376.3h0M145.0 393.8h0M127.9 418.6h0M126.2 392.7h0M142.8 397.0h0M123.7 378.7h0M151.3 363.8h0M118.5 412.0h0M104.9 412.5h0M142.0 381.8h0M117.9 408.3h0M154.7 359.7h0M129.2 390.6h0M130.4 374.0h0M110.1 393.4h0M148.9 354.0h0M114.6 411.3h0M142.4 352.5h0M150.7 365.5h0M143.0 359.1h0M118.3 418.8h0M109.8 395.3h0M137.7 352.1h0M134.9 405.4h0M152.8 359.0h0M126.5 372.8h0M136.4 386.1h0M156.4 377.3h0M109.9 396.9h0M133.7 396.1h0M116.5 390.8h0M116.0 406.0h0M131.5 359.0h0M144.5 362.5h0M136.0 367.0h0M152.7 385.4h0M120.1 409.5h0M149.4 359.5h0M137.9 375.8h0M137.2 375.4h0M148.5 381.8h0M151.2 388.2h0M136.0 392.5h0M144.7 378.9h0M153.5 385.5h0M128.7 416.6h0M137.5 381.5h0M123.1 378.2h0M152.9 360.4h0M114.9 385.5h0M122.8 420.3h0M108.0 399.7h0M118.2 400.2h0M144.0 361.2h0M124.7 423.0h0M122.5 372.6h0M128.6 370.4h0M139.1 381.6h0M104.6 408.2h0M131.6 375.5h0M154.0 386.2h0M156.2 352.9h0M116.1 379.8h0M111.6 387.6h0M124.7 389.3h0M151.5 365.1h0M129.7 392.3h0M123.2 396.4h0M119.1 383.0h0M149.8 365.9h0M106.2 407.7h0M149.3 372.6h0M126.3 392.8h0M142.3 352.5h0M125.8 372.7h0M145.4 391.2h0M145.8 392.6h0M127.1 411.0h0M116.8 410.7h0M116.5 400.3h0M146.1 391.3h0M137.1 366.4h0M126.3 376.4h0M143.9 356.1h0M132.3 361.8h0M142.9 382.8h0M155.0 383.9h0M126.6 382.4h0M136.2 356.7h0M149.0 380.8h0M129.4 416.0h0M134.2 376.0h0M145.3 367.2h0M150.1 386.1h0M106.8 403.5h0M154.1 364.0h0M148.0 373.5h0M131.2 393.5h0M119.4 378.0h0M129.1 402.4h0M124.5 423.7h0M132.7 409.7h0M122.4 394.0h0M141.1 388.6h0M143.2 372.2h0M155.8 369.7h0M143.2 354.3h0M144.6 395.4h0M113.3 388.2h0M153.9 367.0h0M141.6 391.0h0M143.2 377.3h0M153.3 365.0h0M110.9 397.0h0M146.2 365.9h0M144.0 380.6h0M126.1 389.1h0M154.4 371.8h0M117.6 394.9h0M158.0 363.1h0M134.2 394.8h0M136.1 398.1h0M119.8 413.6h0M114.5 401.9h0M150.6 385.1h0M110.0 395.7h0M107.2 406.6h0M123.1 383.8h0M133.1 377.4h0M123.1 400.9h0M156.8 354.3h0M129.3 375.8h0M123.5 370.9h0M130.4 401.9h0M147.6 392.7h0M118.5 374.5h0M151.0 388.4h0M115.0 399.6h0M123.8 420.0h0M146.2 376.3h0M128.0 378.0h0M127.1 384.8h0M124.2 408.1h0M126.6 394.0h0M125.4 415.4h0M109.7 408.3h0M159.7 365.3h0M125.9 369.4h0M128.7 370.6h0M140.3 358.2h0M136.3 359.2h0M115.0 418.9h0M156.3 351.2h0M116.7 406.2h0M123.0 407.9h0M139.0 377.4h0M122.8 385.2h0M115.2 392.1h0M116.5 390.4h0M144.2 359.0h0M129.4 402.6h0M125.7 387.2h0M118.6 383.1h0M122.9 389.2h0M156.0 354.7h0M127.5 404.9h0M132.2 378.4h0M155.5 371.6h0M130.2 391.9h0M113.2 383.4h0M158.1 368.9h0M117.3 408.5h0M144.7 368.8h0M123.9 396.7h0M152.7 382.2h0M153.9 362.3h0M144.6 391.6h0M149.6 386.5h0M152.4 351.8h0M135.7 357.7h0M143.5 395.4h0M137.1 365.7h0M157.0 357.3h0M128.2 398.2h0M150.8 358.0h0M145.5 368.5h0M145.7 388.1h0M154.2 384.3h0M116.5 420.9h0M126.1 396.2h0M139.4 362.1h0M141.5 382.9h0M130.1 389.7h0M140.1 380.8h0M153.5 369.0h0M138.1 397.6h0M157.4 357.7h0M146.4 374.4h0M123.7 397.3h0M143.7 368.7h0M125.1 373.9h0M143.3 380.1h0M152.3 353.6h0M153.9 387.4h0M134.3 370.9h0M146.4 357.5h0M126.8 369.5h0M126.2 364.7h0M123.5 397.1h0M155.2 373.6h0M148.8 389.1h0M156.4 384.3h0M127.1 418.7h0M134.9 386.9h0M117.8 405.5h0M116.1 384.7h0M145.8 394.9h0M110.6 402.0h0M108.2 407.0h0M120.9 393.9h0M138.7 386.0h0M152.7 358.9h0M125.8 380.4h0M158.6 358.6h0M156.7 372.6h0M125.8 412.6h0M140.9 374.7h0M144.2 387.3h0M143.0 395.6h0M148.0 360.9h0M150.4 352.1h0M132.6 385.3h0M115.1 412.0h0M139.4 378.1h0M139.0 366.3h0M139.7 393.1h0M144.9 387.2h0M126.7 372.1h0M144.4 377.2h0M127.2 401.1h0M150.6 360.0h0M146.2 356.9h0M128.0 382.2h0M148.4 385.1h0M102.2 416.2h0M159.4 364.1h0M118.7 404.3h0M141.7 365.3h0M124.8 383.2h0M127.9 407.3h0M147.8 380.5h0M139.9 399.0h0M112.3 389.5h0M150.6 376.7h0M150.2 373.7h0M155.5 354.9h0M145.7 385.2h0M148.4 383.2h0M132.7 361.8h0M126.2 382.4h0M149.5 366.3h0M118.4 411.0h0M114.0 399.5h0M136.1 356.0h0M144.1 379.8h0M119.9 414.1h0M146.9 372.4h0M141.0 358.2h0M138.5 351.9h0M131.3 384.6h0M117.4 383.1h0M155.9 371.0h0M156.8 355.5h0M141.2 384.0h0M106.8 414.5h0M120.4 401.1h0M127.7 415.2h0M149.5 387.1h0M121.5 387.4h0M127.6 398.9h0M137.3 379.7h0M126.9 415.8h0M119.1 376.6h0M136.6 393.8h0M144.3 352.0h0M107.4 406.4h0M154.4 353.9h0M117.8 398.8h0M141.9 387.7h0M119.9 396.4h0M107.6 416.3h0M122.9 408.5h0M124.0 414.1h0M128.0 370.0h0M156.0 379.4h0M116.1 396.0h0M126.8 395.6h0M127.8 370.6h0M103.1 411.2h0M139.9 367.4h0M130.5 393.1h0M146.9 372.1h0M121.0 395.4h0M110.6 420.0h0M117.1 388.9h0M114.0 383.6h0M147.2 368.2h0M143.5 386.2h0M123.6 392.5h0M116.3 383.7h0M136.0 373.4h0M124.2 373.0h0M147.6 371.3h0M135.5 366.2h0M140.2 393.3h0M117.6 404.5h0M113.2 419.0h0M129.7 415.2h0M138.1 401.4h0M128.5 390.3h0M106.6 405.3h0M121.4 385.0h0M118.8 391.5h0M136.7 398.7h0M128.8 394.6h0M139.0 359.0h0M127.3 391.5h0M130.4 371.3h0M154.7 354.9h0M121.7 401.8h0M153.8 382.5h0M116.2 385.4h0M129.2 389.8h0M137.2 352.2h0M130.8 399.3h0M120.5 400.9h0M122.7 395.8h0M137.2 399.9h0M114.6 395.6h0M137.6 353.4h0M145.5 366.1h0M130.0 388.7h0M127.1 392.0h0M106.0 408.0h0M139.5 389.9h0M137.3 402.1h0M149.9 353.7h0M126.2 418.4h0M120.7 407.5h0M132.4 399.7h0M130.1 386.4h0M139.8 391.6h0M119.8 386.9h0M155.8 369.9h0M118.6 410.7h0M115.2 399.7h0M129.1 373.8h0M118.3 396.7h0M131.9 369.3h0M109.5 408.6h0M146.2 390.2h0M152.5 373.0h0M156.8 352.1h0M153.8 381.1h0M128.5 418.1h0M154.6 360.2h0M126.2 388.5h0M127.8 372.5h0M119.2 408.1h0M115.4 381.0h0M131.9 400.1h0M140.7 388.5h0M140.8 374.5h0M130.1 364.8h0M151.3 385.6h0M118.2 403.1h0M103.7 416.5h0M130.0 408.5h0M152.1 385.6h0M153.3 371.5h0M158.8 373.4h0M141.2 351.8h0M121.5 375.1h0M131.5 377.2h0M116.8 380.2h0M102.8 415.9h0M137.3 385.1h0M143.6 381.4h0M121.6 380.2h0M117.4 408.3h0M130.1 361.8h0M114.0 397.5h0M122.2 371.5h0M118.8 395.1h0M130.7 386.0h0M141.2 384.9h0M156.9 382.2h0M137.7 393.7h0M141.5 373.9h0M122.1 382.0h0M142.4 365.5h0M159.4 362.8h0M135.3 397.9h0M118.0 416.5h0M137.0 402.9h0M109.2 412.2h0M118.0 395.9h0M144.5 373.4h0M128.8 391.6h0M139.7 368.8h0M135.3 394.4h0M130.3 380.9h0M128.8 377.1h0M145.8 392.6h0M132.1 405.9h0M133.3 393.6h0M135.0 357.5h0M108.7 404.5h0M146.1 378.3h0M108.8 406.7h0M113.7 399.7h0M142.1 369.6h0M147.6 393.6h0M159.1 366.2h0M144.1 382.0h0M135.2 371.8h0M114.6 390.6h0M136.6 386.9h0M139.4 396.6h0M125.1 369.1h0M141.3 378.3h0M122.2 401.1h0M139.7 386.2h0M149.2 373.7h0M121.7 406.0h0M141.1 381.3h0M153.5 350.8h0M152.9 363.5h0M148.6 389.4h0M156.2 373.8h0M140.2 397.7h0M141.3 354.2h0M151.1 359.9h0M112.2 421.2h0M130.4 406.3h0M122.7 423.7h0M112.3 417.8h0M116.7 404.5h0M114.0 395.3h0M138.2 352.5h0M116.2 386.4h0M140.9 373.0h0M135.3 389.0h0M147.6 392.7h0M138.7 391.8h0M149.6 356.2h0M107.7 414.8h0M150.2 349.4h0M128.7 369.4h0M122.5 420.1h0M128.3 364.8h0M144.1 378.3h0M129.0 400.9h0M117.1 394.1h0M133.2 381.4h0M153.8 359.7h0M155.1 368.8h0M119.6 423.5h0M122.4 412.5h0M141.1 388.6h0M131.8 368.3h0M146.6 369.1h0M155.8 366.1h0M155.8 384.8h0M153.2 384.2h0M132.9 368.5h0M145.7 376.8h0M116.8 380.6h0M122.8 393.2h0M147.6 383.9h0M133.6 394.4h0M119.1 399.4h0M157.1 352.1h0M149.8 391.3h0M109.5 405.6h0M137.6 358.7h0M144.1 369.2h0M125.9 377.7h0M124.1 418.3h0M126.7 409.7h0M138.2 355.1h0M113.4 392.8h0M147.6 366.6h0M128.1 380.8h0M131.0 361.0h0M123.7 391.5h0M133.8 362.2h0M132.9 386.7h0M138.2 390.9h0M118.6 384.7h0M125.0 396.6h0M152.8 377.2h0M132.7 391.6h0M140.4 367.4h0M115.6 419.1h0M109.6 400.7h0M116.3 386.2h0M127.6 367.0h0M111.4 421.8h0M144.6 377.1h0M112.5 408.0h0M158.9 364.6h0M142.7 379.0h0M142.6 360.5h0M143.2 382.3h0M141.3 381.4h0M128.3 366.5h0M143.8 381.6h0M130.0 378.9h0M128.5 373.6h0M148.3 359.1h0M121.3 416.5h0M156.5 354.2h0M137.9 377.8h0M128.5 390.6h0M153.4 367.8h0M148.0 378.7h0M111.8 410.0h0M135.1 366.0h0M153.7 386.3h0M120.3 390.2h0M133.2 370.5h0M142.1 369.0h0M141.3 395.7h0M122.8 399.9h0M123.2 408.3h0M123.9 411.6h0M125.6 367.1h0M136.7 371.7h0M140.5 369.7h0M145.8 374.6h0M152.3 381.1h0M122.7 421.8h0M119.3 382.4h0M152.4 361.9h0M121.0 404.2h0M127.7 398.0h0M131.3 376.3h0M147.2 387.5h0M109.6 411.5h0M118.9 378.2h0M144.3 371.2h0M108.7 420.7h0M150.7 386.2h0M145.3 389.4h0M130.0 383.5h0M138.2 395.7h0M112.6 386.2h0M157.1 366.4h0M111.5 398.0h0M142.9 375.8h0M136.4 361.2h0M147.2 391.7h0M116.7 379.8h0M134.2 401.3h0M126.2 378.7h0M110.0 411.2h0M138.9 375.0h0M142.0 369.7h0M145.0 391.4h0M145.9 371.2h0M143.6 357.7h0M133.2 375.1h0M128.8 370.9h0M104.3 416.9h0M126.3 387.4h0M156.9 372.8h0M152.1 375.1h0M137.7 363.9h0M129.4 373.6h0M129.3 395.7h0M131.0 410.6h0M130.9 363.5h0M140.5 369.4h0M122.3 422.0h0M131.1 376.8h0M128.0 402.0h0M130.7 379.7h0M135.3 369.8h0M141.3 381.1h0M142.6 375.3h0M138.7 363.8h0M129.6 386.3h0M128.2 407.1h0M109.2 409.2h0M109.2 418.1h0M136.1 402.4h0M132.3 391.0h0M131.4 409.6h0M138.6 385.4h0M120.6 404.1h0M138.7 365.5h0M152.3 384.8h0M132.3 363.9h0M150.0 384.9h0M131.6 393.4h0M128.3 366.9h0M126.9 374.8h0M115.2 407.9h0M123.7 392.1h0M126.3 387.4h0M144.2 371.1h0M141.5 398.1h0M129.5 416.2h0M109.2 393.7h0M125.3 411.3h0M150.3 350.8h0M127.7 389.3h0M159.1 357.0h0M108.9 417.6h0M118.0 389.8h0M119.0 417.0h0M142.5 391.9h0M117.5 379.0h0M149.7 378.3h0M143.0 380.6h0M123.7 407.7h0M153.3 387.6h0M118.0 393.5h0M105.8 418.2h0M153.8 358.9h0M146.8 354.2h0M152.6 389.5h0M109.4 403.5h0M105.1 407.9h0M118.7 416.8h0M117.8 405.2h0M130.2 367.0h0M130.0 381.6h0M110.2 390.4h0M132.4 402.1h0M121.0 395.6h0M112.7 388.6h0M115.1 408.7h0M132.9 366.2h0M108.1 416.9h0M124.5 412.9h0M133.2 374.3h0M118.2 391.6h0M110.6 420.1h0M131.2 362.2h0M113.5 413.2h0M137.9 396.2h0M152.8 372.9h0M117.4 392.3h0M113.0 402.0h0M129.1 364.1h0M120.5 376.8h0M154.3 368.5h0M137.8 392.0h0M125.7 417.3h0M103.2 417.9h0M127.4 393.6h0M149.7 365.8h0M111.8 406.2h0M152.7 366.1h0M133.3 387.5h0M119.3 413.0h0M117.7 408.2h0M157.8 360.0h0M110.2 420.5h0M116.0 403.3h0M138.8 372.9h0M143.0 374.8h0M134.1 363.2h0M135.0 384.9h0M124.4 405.9h0M135.1 402.9h0M127.1 379.3h0M143.7 362.6h0M113.1 414.6h0M119.4 404.9h0M128.7 405.5h0M148.9 370.8h0M155.0 370.8h0M106.1 415.0h0M149.4 382.8h0M150.4 363.2h0M147.5 388.6h0M124.2 423.4h0M152.6 387.2h0M108.8 395.5h0M134.5 387.0h0M157.0 372.4h0M157.3 373.4h0M121.6 406.4h0M119.6 395.8h0M108.3 415.3h0M134.4 380.8h0M147.8 382.6h0M117.4 409.0h0M123.5 405.7h0M140.4 392.9h0M147.3 390.9h0M132.7 368.5h0M146.9 357.0h0M103.7 415.5h0M116.3 385.5h0M137.4 363.8h0M157.8 351.8h0M113.2 416.1h0M107.9 397.6h0M138.2 371.2h0M134.9 373.9h0M152.9 365.7h0M127.2 392.2h0M113.0 419.6h0M132.5 378.4h0M145.1 351.7h0M116.2 383.3h0M103.3 409.2h0M155.6 383.8h0M157.1 355.5h0M135.3 394.7h0M124.6 377.9h0M116.1 395.4h0M137.2 372.8h0M155.0 380.4h0M142.8 354.0h0M157.9 374.8h0M102.8 412.6h0M140.0 385.0h0M130.4 364.1h0M110.8 396.2h0M110.1 406.0h0M105.9 411.9h0M137.3 397.7h0M144.2 396.6h0M133.3 388.3h0M141.6 380.4h0M127.6 413.3h0M123.8 404.3h0M114.8 395.1h0M128.6 393.5h0M115.5 408.6h0M147.2 378.0h0M136.7 382.4h0M132.7 369.1h0M121.3 421.8h0M153.2 358.0h0M108.0 414.7h0M127.2 397.6h0M136.6 394.8h0M154.5 360.5h0M151.8 368.6h0M131.4 409.9h0M134.9 393.8h0M142.1 387.4h0M106.9 408.4h0M147.9 354.2h0M141.4 396.2h0M116.2 396.4h0M132.5 410.8h0M111.1 396.1h0M158.6 376.2h0M145.7 381.0h0M131.1 368.0h0M156.7 364.9h0M152.0 356.2h0M135.2 392.0h0M142.3 362.8h0M116.1 423.1h0M126.0 395.8h0M152.7 374.1h0M136.9 374.0h0M155.6 369.2h0M121.0 405.4h0M134.7 365.2h0M108.5 415.5h0M113.2 387.7h0M150.4 385.8h0M129.1 361.3h0M140.4 378.8h0M143.0 377.7h0M131.3 399.1h0M158.6 368.1h0M134.7 394.0h0M102.8 416.7h0M124.5 394.7h0M127.1 415.8h0M144.5 377.3h0M138.7 365.1h0M156.6 361.0h0M112.7 400.5h0M138.9 360.8h0M119.7 388.6h0M129.0 380.3h0M139.1 375.8h0M137.9 394.5h0M122.6 388.6h0M129.9 391.6h0M117.7 414.8h0M144.4 381.3h0M131.6 377.0h0M118.5 420.4h0M142.4 366.4h0M136.9 364.7h0M128.0 415.8h0M116.4 411.5h0M117.6 393.4h0M132.5 366.5h0M132.9 368.9h0M148.0 366.7h0M147.1 363.2h0M115.9 387.3h0M120.5 399.3h0M120.6 391.0h0M130.2 360.6h0M115.1 414.8h0M154.2 384.8h0M143.5 353.9h0M115.2 382.2h0M132.9 363.7h0M118.1 419.8h0M118.0 378.9h0M140.1 358.4h0M121.0 402.0h0M156.1 382.3h0M128.7 388.2h0M143.0 385.0h0M137.7 401.3h0M156.8 354.9h0M147.1 375.2h0M111.0 411.3h0M111.4 417.1h0M150.8 358.3h0M116.8 398.4h0M106.7 414.7h0M145.1 391.1h0M146.9 359.4h0M151.0 389.8h0M123.6 410.8h0M142.2 351.6h0M134.2 365.4h0M125.3 380.8h0M142.2 397.4h0M146.9 353.8h0M135.4 404.2h0M126.1 421.7h0M134.5 389.5h0M112.1 395.3h0M128.7 402.1h0M141.3 356.4h0M134.9 399.6h0M131.7 369.5h0M125.4 407.7h0M131.2 396.0h0M150.3 375.1h0M137.0 356.1h0M156.3 381.5h0M128.1 365.7h0M125.3 388.7h0M117.9 402.4h0M137.9 377.5h0M157.8 365.1h0M129.0 414.8h0M136.6 396.3h0M103.2 412.7h0M146.3 394.2h0M115.3 419.2h0M133.2 395.0h0M156.6 382.1h0M119.5 422.5h0M104.4 412.6h0M105.8 412.6h0M107.6 410.5h0M150.9 359.5h0M129.5 381.0h0M109.2 401.4h0M116.9 382.3h0M128.6 403.2h0M115.7 407.8h0M144.3 357.6h0M101.9 418.3h0M111.2 415.2h0M156.9 380.8h0M105.5 413.6h0M137.8 368.5h0M146.2 369.5h0M104.2 411.5h0M134.4 376.8h0M132.0 383.7h0M132.9 369.1h0M128.3 383.1h0M121.2 396.6h0M156.1 360.2h0M122.7 387.3h0M143.9 368.3h0M141.1 399.2h0M115.9 416.1h0M137.0 387.0h0M138.3 375.1h0M115.2 418.5h0M135.9 386.6h0M146.2 359.3h0M126.9 384.4h0M156.3 379.2h0M131.2 365.6h0M150.2 359.3h0M127.0 374.0h0M155.1 356.4h0M146.1 373.0h0M154.6 368.4h0M138.3 354.6h0M135.0 372.3h0M140.4 356.8h0M141.7 369.2h0M135.0 403.8h0M153.6 351.0h0M124.0 375.4h0M153.2 386.9h0M127.2 374.6h0M153.4 379.8h0M127.6 415.8h0M145.0 362.8h0M122.4 374.7h0M149.3 360.5h0M121.1 394.1h0M126.2 403.5h0M121.8 401.6h0M113.4 407.5h0M143.0 355.2h0M112.8 418.2h0M106.2 415.0h0M143.4 359.5h0M141.1 396.4h0M119.8 414.0h0M126.8 367.5h0M130.5 379.1h0M140.4 355.5h0M132.9 409.1h0M123.1 416.4h0M120.7 373.5h0M110.5 409.0h0M130.3 407.1h0M110.7 419.8h0M126.0 405.7h0M113.4 403.9h0M127.5 366.4h0M126.5 365.6h0M122.3 395.3h0M144.6 385.5h0M126.2 370.7h0M142.5 369.1h0M145.6 391.1h0M152.5 386.9h0M153.7 370.6h0M107.6 404.1h0M106.1 417.4h0M144.7 370.0h0M136.5 386.1h0M125.2 403.5h0M122.9 399.6h0M134.7 356.9h0M146.1 393.8h0M109.1 402.4h0M147.3 351.3h0M144.3 384.9h0M112.0 405.1h0M127.6 366.7h0M117.9 395.0h0M119.3 372.6h0M141.4 377.5h0M113.2 421.1h0M105.2 418.3h0M136.2 380.0h0M135.7 361.4h0M149.2 349.8h0M106.9 411.2h0M130.0 380.5h0M151.9 368.1h0M129.3 409.7h0M142.8 353.9h0M116.4 414.5h0M137.2 379.0h0M153.0 369.6h0M137.2 377.6h0M131.4 373.6h0M119.7 380.5h0M110.1 412.8h0M106.9 406.7h0M129.9 364.3h0M150.6 363.4h0M128.5 382.2h0M139.6 377.5h0M125.0 413.9h0M148.0 367.9h0M138.2 378.4h0M110.8 406.5h0M124.1 391.2h0M143.9 379.4h0M130.3 385.5h0M152.2 372.5h0M131.1 372.1h0M147.6 383.1h0M152.5 365.4h0M154.8 353.6h0M145.0 382.7h0M122.8 371.7h0M142.9 379.1h0M143.8 392.6h0M131.4 401.7h0M138.4 362.1h0M133.3 383.6h0M130.2 386.0h0M131.0 395.0h0M117.5 411.9h0M147.3 374.0h0M158.3 368.9h0M105.9 412.2h0M138.4 374.8h0M146.8 355.8h0M112.3 411.5h0M115.4 393.6h0M112.1 411.1h0M135.4 355.6h0M120.9 399.9h0M118.7 410.9h0M153.8 378.9h0M158.5 365.8h0M145.0 352.0h0M133.7 394.4h0M107.0 412.4h0M135.6 368.9h0M147.5 356.3h0M136.5 353.4h0M113.0 420.8h0M129.3 405.0h0M143.6 370.3h0M128.2 383.9h0M155.7 361.1h0M145.8 384.4h0M128.9 381.2h0M116.0 418.9h0M138.3 370.2h0M144.1 365.3h0M142.2 360.1h0M118.0 390.2h0M113.2 415.2h0M139.8 367.5h0M154.0 380.7h0M113.1 416.7h0M155.1 385.0h0M144.6 367.4h0M121.7 405.9h0M122.5 405.5h0M123.0 390.4h0M121.7 413.8h0M154.3 383.6h0M121.8 373.8h0M134.4 383.8h0M122.2 391.8h0M111.9 410.1h0M117.7 378.7h0M138.4 358.1h0M119.0 390.2h0M132.4 393.5h0M124.8 422.2h0M150.5 384.4h0M107.3 407.7h0M131.3 395.2h0M136.1 368.6h0M121.7 396.2h0M114.8 409.0h0M135.7 382.8h0M124.0 377.4h0M115.6 400.8h0M143.4 367.6h0M136.1 403.9h0M136.0 390.4h0M119.9 386.9h0M122.1 416.3h0M153.8 361.2h0M137.3 402.2h0M111.2 388.9h0M143.8 382.8h0M126.1 417.5h0M140.5 385.5h0M149.6 374.9h0M121.3 394.1h0M158.8 363.3h0M139.4 385.2h0M129.2 376.0h0M122.6 393.0h0M130.3 380.1h0M119.6 409.8h0M114.9 389.0h0M158.0 376.7h0M125.8 400.8h0M130.3 408.3h0M153.4 366.7h0M130.6 384.9h0M128.0 397.4h0M115.5 382.0h0M138.4 394.7h0M134.4 399.8h0M121.9 377.7h0M116.4 407.0h0M144.9 390.0h0M131.1 371.2h0M134.3 372.3h0M135.5 403.8h0M127.6 415.2h0M142.2 361.9h0M112.1 394.0h0M138.6 386.2h0M134.3 371.9h0M142.4 367.7h0M137.8 364.9h0M153.6 380.7h0M155.7 359.4h0M124.2 370.6h0M122.3 394.2h0M145.3 382.7h0M122.0 407.0h0M129.4 370.7h0M156.8 381.2h0M155.9 378.8h0M127.8 398.8h0M139.7 374.6h0M136.4 362.1h0M124.9 367.7h0M144.4 360.3h0M141.7 365.1h0M147.2 390.7h0M159.3 362.1h0M122.3 370.2h0M144.0 386.6h0M116.9 379.1h0M107.7 403.1h0M136.7 389.9h0M152.4 358.9h0M138.1 357.0h0M116.0 398.5h0M123.3 371.4h0M140.9 374.4h0M124.6 408.6h0M130.2 380.1h0M108.6 403.6h0M112.9 396.8h0M142.2 395.1h0M144.9 379.5h0M150.8 386.4h0M115.2 414.9h0M138.7 371.8h0M122.5 402.3h0M79.1 459.2h0M87.7 438.3h0M80.3 443.5h0M72.9 437.2h0M76.2 438.9h0M76.9 459.8h0M69.5 454.7h0M80.0 452.3h0M59.0 459.2h0M102.0 421.1h0M55.8 455.1h0M46.2 468.0h0M45.9 477.2h0M64.4 434.8h0M54.1 449.7h0M71.7 443.6h0M46.0 475.3h0M99.1 428.5h0M96.9 434.7h0M45.1 480.2h0M55.8 436.3h0M49.1 480.1h0M61.4 448.4h0M81.9 449.8h0M47.7 455.7h0M72.3 446.4h0M49.0 454.3h0M54.0 475.7h0M76.7 461.7h0M87.6 440.9h0M67.6 450.9h0M72.4 441.1h0M71.3 458.1h0M56.2 443.7h0M57.3 449.3h0M90.5 438.3h0M81.0 432.1h0M73.7 462.4h0M63.4 460.1h0M51.2 450.3h0M73.1 464.4h0M44.6 463.9h0M60.9 455.4h0M79.8 439.6h0M100.8 420.3h0M52.6 464.1h0M97.6 427.0h0M95.5 434.2h0M80.9 446.3h0M76.5 432.2h0M49.3 467.8h0M70.2 437.3h0M89.6 436.7h0M44.3 462.9h0M67.6 449.9h0M94.0 434.4h0M71.8 437.7h0M45.1 478.7h0M42.3 474.7h0M49.8 474.8h0M49.6 460.0h0M49.6 451.8h0M72.1 454.5h0M94.4 426.5h0M59.2 469.7h0M74.3 452.4h0M64.7 445.8h0M54.5 442.8h0M61.0 473.8h0M66.7 447.5h0M101.2 431.3h0M70.7 439.8h0M53.5 451.5h0M96.3 428.8h0M70.4 454.0h0M61.5 456.2h0M46.7 462.3h0M49.5 476.5h0M48.3 454.3h0M97.1 422.6h0M83.5 436.9h0M89.3 441.2h0M79.1 450.8h0M94.6 433.0h0M77.2 454.5h0M68.6 453.4h0M73.6 445.0h0M46.9 473.5h0M90.2 436.0h0M58.5 439.0h0M54.1 460.0h0M60.4 455.1h0M77.0 456.8h0M63.2 453.4h0M64.7 458.8h0M74.9 456.6h0M63.4 434.8h0M73.1 453.4h0M45.4 471.3h0M53.8 477.1h0M57.3 453.6h0M83.6 430.9h0M103.5 426.9h0M93.6 429.1h0M67.3 450.2h0M79.0 450.4h0M59.5 464.0h0M104.5 419.7h0M69.1 469.7h0M65.4 469.0h0M89.7 435.1h0M85.4 439.8h0M77.4 436.6h0M67.9 454.8h0M85.3 443.2h0M94.7 429.4h0M64.3 453.0h0M66.2 457.0h0M76.0 456.7h0M65.7 452.4h0M47.2 458.9h0M80.7 436.2h0M62.6 471.5h0M57.1 456.8h0M54.9 469.7h0M100.5 422.7h0M74.3 443.8h0M79.0 437.4h0M52.4 465.8h0M74.4 447.9h0M76.6 448.3h0M68.4 447.9h0M61.9 434.5h0M84.4 446.3h0M44.2 462.7h0M67.3 436.5h0M52.3 471.5h0M69.5 448.5h0M70.8 449.8h0M53.3 471.7h0M54.4 442.9h0M72.9 450.3h0M57.1 438.7h0M76.9 434.1h0M87.1 438.3h0M92.7 429.1h0M101.5 427.3h0M51.3 474.1h0M51.4 469.6h0M51.6 458.4h0M59.0 440.4h0M93.6 431.4h0M85.7 440.6h0M66.8 442.0h0M51.6 477.6h0M55.5 464.0h0M69.2 442.0h0M83.4 430.5h0M89.3 435.3h0M67.8 468.0h0M80.3 432.5h0M48.9 461.7h0M60.7 476.6h0M76.2 462.2h0M65.6 445.7h0M79.8 444.4h0M86.3 429.1h0M79.3 455.4h0M75.9 456.9h0M56.7 443.6h0M68.4 441.4h0M60.4 436.7h0M71.4 445.4h0M72.1 442.2h0M74.7 457.7h0M70.5 468.5h0M66.0 468.5h0M54.7 457.2h0M82.8 440.2h0M53.1 452.1h0M85.2 428.9h0M75.2 447.6h0M88.9 441.1h0M91.7 434.5h0M52.6 448.3h0M76.6 434.1h0M63.7 446.9h0M77.2 451.6h0M85.0 441.8h0M52.5 465.1h0M64.2 461.0h0M51.4 471.5h0M60.7 466.6h0M49.3 452.7h0M62.4 451.4h0M81.2 444.1h0M63.4 441.2h0M52.5 465.8h0M100.8 425.3h0M63.0 471.6h0M64.3 459.7h0M53.7 447.6h0M94.5 437.8h0M86.1 434.5h0M73.2 452.1h0M86.6 428.4h0M58.2 456.9h0M83.8 447.8h0M83.6 452.0h0M82.9 451.7h0M60.6 444.7h0M75.5 431.8h0M46.7 472.0h0M55.4 473.4h0M73.2 460.9h0M57.6 471.8h0M42.3 474.0h0M69.1 457.7h0M69.8 465.5h0M46.0 458.4h0M75.8 454.5h0M46.2 473.5h0M86.0 448.1h0M85.9 441.8h0M96.7 428.1h0M54.5 474.7h0M64.6 444.9h0M81.5 431.0h0M98.1 429.1h0M95.8 426.3h0M74.4 464.7h0M72.7 443.7h0M74.8 432.5h0M57.3 440.8h0M59.2 439.7h0M57.3 461.5h0M56.5 465.5h0M52.2 465.3h0M50.7 452.1h0M103.5 418.9h0M90.8 437.4h0M88.6 437.7h0M89.4 441.2h0M105.2 417.3h0M95.6 433.2h0M93.6 425.1h0M51.0 472.4h0M76.9 435.8h0M99.9 419.8h0M52.9 469.2h0M78.4 443.4h0M80.6 433.9h0M97.2 429.9h0M70.4 457.2h0M103.0 416.3h0M65.4 460.2h0M87.3 443.4h0M100.2 428.2h0M68.2 444.9h0M95.9 429.4h0M104.1 423.5h0M49.5 473.9h0M99.2 422.4h0M101.6 425.0h0M54.4 458.3h0M57.8 450.9h0M57.4 472.3h0M70.7 461.6h0M62.0 462.3h0M78.6 436.1h0M51.8 451.7h0M58.0 472.1h0M56.0 437.4h0M66.4 472.4h0M78.4 454.9h0M76.6 458.4h0M61.0 445.9h0M94.9 432.0h0M58.3 471.6h0M72.2 452.3h0M75.6 447.3h0M95.7 425.5h0M83.5 443.4h0M70.7 449.0h0M63.5 472.0h0M70.7 442.7h0M56.4 478.4h0M99.9 429.3h0M58.4 446.0h0M55.2 438.3h0M68.3 452.0h0M93.0 438.3h0M44.3 478.8h0M95.6 431.1h0M87.5 434.9h0M96.0 433.3h0M82.2 439.1h0M42.9 468.9h0M78.1 452.5h0M70.2 464.9h0M74.3 432.7h0M91.0 439.8h0M73.2 441.3h0M57.6 455.9h0M64.3 446.2h0M48.9 465.5h0M65.7 462.5h0M67.1 461.4h0M80.6 451.1h0M99.6 423.9h0M77.8 453.5h0M89.0 444.3h0M89.2 445.1h0M52.7 455.4h0M67.2 434.1h0M54.8 462.4h0M82.4 439.3h0M70.6 448.5h0M66.2 456.0h0M80.9 436.8h0M76.3 453.2h0M78.0 451.8h0M58.6 444.5h0M70.2 454.7h0M63.9 460.3h0M78.5 448.7h0M66.4 437.3h0M67.9 449.6h0M78.3 436.1h0M65.5 446.9h0M60.2 437.0h0M58.2 471.9h0M97.3 424.7h0M45.2 474.2h0M66.3 456.0h0M44.6 478.7h0M54.9 464.9h0M66.3 452.0h0M52.4 448.2h0M51.7 460.7h0M48.2 474.1h0M102.0 428.5h0M63.3 466.3h0M92.9 438.7h0M65.8 440.5h0M65.6 434.2h0M74.4 444.0h0M91.0 436.0h0M93.7 433.6h0M61.7 460.9h0M53.0 476.7h0M68.4 445.6h0M69.8 457.7h0M78.8 453.6h0M59.5 461.4h0M97.2 424.0h0M63.7 465.8h0M74.4 452.1h0M78.3 431.3h0M67.6 448.6h0M49.4 475.7h0M83.5 439.0h0M68.4 437.1h0M50.5 471.5h0M58.9 462.7h0M79.4 456.9h0M100.7 429.1h0M96.6 432.5h0M57.2 434.7h0M87.6 441.8h0M61.8 474.6h0M58.4 463.1h0M42.7 473.6h0M52.0 472.4h0M88.4 436.8h0M56.2 442.7h0M60.9 448.2h0M44.6 462.7h0M62.9 463.9h0M64.5 465.9h0M75.7 459.6h0M68.1 451.9h0M70.6 439.1h0M52.7 463.6h0M57.0 452.4h0M60.7 463.4h0M82.9 454.1h0M61.9 471.2h0M55.6 443.3h0M52.8 459.0h0M46.5 463.5h0M70.2 468.3h0M88.9 442.8h0M67.9 461.6h0M65.0 441.6h0M100.9 419.1h0M105.3 415.7h0M78.0 445.1h0M91.9 440.2h0M69.2 437.5h0M73.2 457.1h0M68.8 439.0h0M80.2 446.6h0M67.4 461.6h0M67.4 433.3h0M57.5 451.4h0M59.3 435.8h0M74.9 438.5h0M50.9 470.3h0M76.7 436.2h0M52.4 457.1h0M60.6 456.4h0M81.1 452.9h0M103.2 416.8h0M56.7 456.2h0M56.4 451.3h0M80.9 432.4h0M70.9 437.1h0M52.0 472.1h0M96.1 430.5h0M54.4 465.4h0M63.1 449.0h0M60.5 442.2h0M64.8 466.2h0M60.7 440.1h0M43.1 471.4h0M51.9 478.8h0M63.0 439.1h0M57.6 453.9h0M88.9 428.9h0M68.7 447.0h0M77.9 442.3h0M58.2 456.8h0M92.5 429.7h0M79.0 438.0h0M50.9 459.0h0M99.6 430.4h0M96.9 435.6h0M49.3 454.0h0M43.1 478.1h0M84.9 443.3h0M64.0 465.7h0M52.6 448.7h0M67.9 449.6h0M80.2 450.6h0M95.6 430.9h0M70.4 466.9h0M70.6 451.3h0M51.7 472.6h0M64.4 445.7h0M86.2 432.9h0M72.8 460.3h0M81.4 437.3h0M81.6 447.3h0M67.3 434.0h0M88.3 434.8h0M72.1 465.7h0M72.5 454.1h0M98.8 430.2h0M96.3 433.0h0M85.5 430.4h0M79.2 452.8h0M68.1 451.1h0M68.3 447.5h0M82.9 453.0h0M61.8 463.8h0M53.5 454.6h0M72.6 441.3h0M52.7 449.0h0M56.4 474.3h0M88.4 434.8h0M95.7 431.4h0M69.3 458.3h0M71.2 460.0h0M45.1 470.8h0M51.3 478.2h0M83.9 436.5h0M45.4 464.3h0M58.6 475.8h0M81.2 443.9h0M64.4 437.1h0M64.7 459.3h0M52.4 471.1h0M91.4 428.4h0M75.8 446.4h0M55.3 476.6h0M91.6 436.7h0M69.3 436.7h0M85.9 444.6h0M54.4 441.9h0M86.9 437.9h0M49.9 451.9h0M86.9 447.0h0M68.6 443.1h0M76.9 449.0h0M92.4 432.1h0M57.2 468.3h0M59.3 456.2h0M52.9 449.2h0M80.7 450.2h0M78.4 434.3h0M75.9 434.6h0M44.1 477.6h0M45.2 478.5h0M64.7 457.5h0M84.3 431.2h0M99.6 426.4h0M56.9 475.2h0M75.0 454.8h0M54.0 451.7h0M75.7 455.3h0M61.2 462.6h0M53.1 470.9h0M94.8 438.5h0M58.1 445.7h0M75.2 443.5h0M78.1 435.3h0M93.9 435.0h0M87.3 440.2h0M79.5 452.6h0M60.9 473.5h0M67.1 436.2h0M58.0 472.1h0M56.8 439.5h0M76.7 441.8h0M54.7 477.8h0M56.4 449.4h0M75.1 461.8h0M80.3 438.7h0M47.5 467.5h0M58.9 476.1h0M88.4 440.7h0M64.7 439.2h0M95.5 425.1h0M59.8 471.6h0M63.2 468.6h0M56.8 436.3h0M46.6 459.3h0M45.2 458.4h0M67.7 454.9h0M63.7 445.7h0M97.1 422.3h0M54.9 465.9h0M87.6 432.1h0M57.0 469.7h0M55.8 461.5h0M44.7 471.3h0M57.9 446.1h0M87.9 434.8h0M67.9 441.1h0M46.5 461.3h0M77.7 456.4h0M43.1 471.9h0M78.3 459.2h0M72.9 434.0h0M100.0 420.2h0M83.8 430.4h0M55.4 468.2h0M61.5 471.8h0M58.4 438.9h0M76.9 460.1h0M65.4 462.0h0M56.4 477.3h0M66.8 442.7h0M61.6 456.7h0M88.8 435.8h0M61.8 467.5h0M49.2 463.9h0M57.9 453.0h0M80.0 456.6h0M57.7 460.5h0M47.0 467.7h0M44.1 464.7h0M77.0 436.3h0M74.4 451.8h0M62.3 461.0h0M65.4 443.4h0M65.0 469.9h0M87.3 435.3h0M49.8 451.1h0M90.5 430.1h0M62.1 451.1h0M70.5 465.6h0M50.5 458.9h0M58.5 473.2h0M100.0 427.7h0M87.7 444.5h0M73.1 439.0h0M55.2 469.0h0M93.1 432.0h0M56.3 444.9h0M92.4 439.5h0M89.6 427.1h0M71.5 437.7h0M91.3 436.1h0M97.5 425.3h0M67.4 443.6h0M81.5 439.6h0M47.7 476.0h0M62.0 444.9h0M45.8 464.9h0M56.0 444.1h0M50.4 469.0h0M68.4 462.7h0M51.9 461.4h0M67.0 443.7h0M61.2 470.0h0M50.9 474.3h0M100.9 421.3h0M81.4 433.4h0M56.5 465.8h0M74.7 446.5h0M74.9 453.5h0M67.7 439.7h0M52.4 450.4h0M103.4 419.9h0M59.5 458.7h0M54.8 474.3h0M90.6 435.2h0M55.6 460.1h0M62.4 433.5h0M79.1 432.9h0M68.9 435.8h0M63.2 436.4h0M60.4 444.5h0M46.2 475.5h0M53.7 479.0h0M68.2 434.0h0M68.1 440.5h0M96.2 428.3h0M71.2 437.1h0M63.7 441.1h0M91.5 428.4h0M50.7 473.2h0M49.4 460.1h0M54.5 473.7h0M71.1 433.7h0M48.9 461.3h0M57.2 453.8h0M57.7 461.8h0M88.8 434.5h0M64.2 465.8h0M52.3 453.7h0M56.0 478.1h0M56.8 439.8h0M72.2 456.8h0M92.2 439.0h0M59.7 458.8h0M92.4 432.4h0M68.5 468.9h0M55.7 476.6h0M74.5 432.9h0M49.3 452.3h0M63.9 438.7h0M71.5 463.9h0M56.6 433.1h0M97.6 436.1h0M60.5 437.5h0M50.8 478.5h0M93.8 433.5h0M99.7 431.5h0M86.3 435.7h0M54.7 466.6h0M76.5 439.5h0M72.2 447.0h0M79.7 434.3h0M47.3 478.6h0M60.8 474.5h0M58.2 465.9h0M82.2 444.1h0M102.1 428.7h0M60.5 461.3h0M45.9 475.5h0M60.7 435.7h0M57.9 443.7h0M75.7 457.5h0M57.9 458.5h0M46.0 472.0h0M50.9 468.4h0M51.4 466.3h0M74.3 438.2h0M66.0 435.3h0M57.6 467.9h0M75.8 434.8h0M94.8 426.8h0M58.1 442.5h0M74.8 444.5h0M67.5 450.1h0M53.5 462.5h0M71.6 447.6h0M74.9 456.7h0M44.0 471.6h0M60.9 437.3h0M88.5 432.2h0M79.5 449.8h0M59.5 476.1h0M97.6 434.9h0M65.5 453.2h0M50.2 469.8h0M62.6 439.6h0M63.0 459.4h0M99.0 430.5h0M43.4 467.4h0M59.0 443.2h0M66.7 436.9h0M54.0 442.2h0M55.5 456.1h0M60.0 461.2h0M48.3 456.2h0M76.8 457.8h0M42.6 470.7h0M65.4 435.8h0M54.0 465.4h0M50.1 458.5h0M63.6 460.1h0M56.2 437.0h0M47.9 467.4h0M61.9 470.1h0M75.7 461.9h0M66.0 456.5h0M48.9 465.4h0M54.8 450.6h0M54.9 442.4h0M67.3 444.5h0M54.7 437.3h0M89.6 433.4h0M87.4 431.5h0M77.0 434.1h0M67.9 457.6h0M74.1 454.1h0M59.5 451.0h0M79.5 433.1h0M61.8 462.9h0M59.5 456.6h0M80.5 433.3h0M56.5 454.8h0M66.6 453.5h0M71.3 460.1h0M97.2 435.8h0M85.3 435.1h0M92.5 434.3h0M77.8 436.6h0M50.5 461.8h0M62.8 458.8h0M69.7 444.5h0M52.0 477.4h0M61.3 433.9h0M55.5 437.4h0M60.7 452.5h0M100.7 428.1h0M101.0 417.3h0M71.4 433.1h0M64.8 468.1h0M77.6 440.3h0M62.2 453.1h0M47.7 456.5h0M63.1 460.8h0M49.4 455.4h0M92.2 425.6h0M62.4 461.9h0M66.7 446.4h0M86.9 435.4h0M52.5 469.4h0M49.4 472.3h0M66.0 462.1h0M91.5 433.8h0M73.5 443.6h0M53.7 476.2h0M90.6 434.2h0M102.8 421.6h0M54.5 471.1h0M62.4 474.9h0M46.8 476.5h0M60.2 439.9h0M74.7 453.4h0M76.0 457.3h0M68.4 470.1h0M54.0 443.2h0M62.9 437.8h0M54.6 455.9h0M53.1 463.0h0M80.5 433.5h0M55.7 456.9h0M74.3 455.2h0M68.4 456.0h0M81.9 448.5h0M70.1 452.9h0M82.2 451.6h0M64.3 454.2h0M84.7 433.9h0M97.5 426.4h0M56.5 445.1h0M76.3 438.6h0M88.5 428.6h0M84.6 437.7h0M55.7 437.3h0M90.4 426.7h0M83.5 439.9h0M67.4 470.6h0M71.9 461.2h0M51.5 450.3h0M56.5 461.7h0M72.7 449.4h0M56.7 457.7h0M83.3 443.3h0M62.4 475.2h0M56.1 447.4h0M52.4 465.7h0M48.4 463.7h0M91.5 429.4h0M58.0 439.8h0M63.5 459.4h0M64.9 450.5h0M68.0 463.6h0M63.0 465.4h0M79.8 447.8h0M66.9 434.1h0M59.0 445.0h0M51.9 465.0h0M103.1 424.6h0M46.9 469.6h0M70.3 453.4h0M59.2 455.7h0M81.3 440.2h0M50.5 479.5h0M89.5 443.3h0M61.1 453.2h0M96.9 436.9h0M73.3 456.8h0M75.2 454.0h0M69.7 441.8h0M78.5 435.1h0M75.9 444.6h0M61.9 455.0h0M61.0 456.5h0M59.5 470.6h0M53.6 450.9h0M56.5 438.7h0M73.1 447.9h0M79.2 455.6h0M91.0 426.7h0M55.8 476.9h0M91.4 441.8h0M78.1 460.6h0M57.2 469.6h0M57.1 473.3h0M59.7 457.2h0M90.7 437.9h0M87.6 431.3h0M137.2 435.0h0M134.3 438.8h0M127.1 440.4h0M127.0 439.8h0M124.6 441.9h0M132.7 441.8h0M132.3 439.1h0M126.8 439.3h0M133.0 441.6h0M127.5 442.3h0M123.2 440.2h0M124.5 439.1h0M127.2 437.8h0M135.6 439.1h0M127.4 440.5h0M123.2 439.9h0M122.7 444.9h0M127.7 442.9h0M136.2 435.0h0M132.6 441.0h0M128.6 437.5h0M122.3 441.3h0M136.2 438.5h0M125.0 442.6h0M127.8 441.6h0M134.0 433.6h0M124.2 442.6h0M130.4 439.6h0M126.7 440.7h0M131.8 438.6h0M129.2 440.8h0M130.1 443.1h0M125.8 438.3h0M128.7 441.2h0M123.8 440.8h0M134.7 433.8h0M125.1 439.0h0M134.8 440.1h0M129.6 438.3h0M123.8 443.5h0M129.5 441.6h0M128.0 441.8h0M134.2 435.2h0M130.9 437.3h0M130.0 443.9h0M128.6 439.3h0M127.6 441.6h0M128.1 440.0h0M129.8 442.1h0M124.5 438.5h0M136.0 436.1h0M133.6 439.8h0M124.9 443.3h0M131.5 437.8h0M129.6 437.4h0M128.4 439.4h0M136.8 436.6h0M124.2 441.4h0M104.0 421.1h0M96.8 424.4h0M100.0 421.3h0M101.8 416.9h0M98.0 415.1h0M96.1 422.4h0M97.1 424.2h0M94.5 417.6h0M101.4 413.8h0M102.4 415.1h0M97.1 417.5h0M104.1 419.0h0M98.2 412.7h0M102.3 413.6h0M95.1 426.9h0M102.9 418.9h0M92.1 424.7h0M100.5 416.1h0M102.5 414.8h0M101.5 423.6h0M104.4 415.6h0M96.6 418.7h0M95.4 419.9h0M94.9 424.0h0M102.7 414.5h0M101.2 415.4h0M94.8 419.4h0M103.8 417.7h0M104.7 417.2h0M96.9 425.5h0M92.3 423.0h0M98.1 420.4h0M103.5 413.1h0M96.2 426.8h0M98.0 421.0h0M94.6 417.7h0M92.7 423.8h0M104.1 413.8h0M101.5 417.5h0M100.3 410.5h0M120.3 416.2h0M142.0 369.7h0M139.3 360.5h0M142.0 363.3h0M153.8 381.1h0M118.9 415.1h0M125.1 384.1h0M129.7 362.9h0M141.0 356.4h0M162.5 379.2h0M160.8 356.0h0M154.7 354.8h0M141.7 362.8h0M130.5 400.9h0M121.0 395.7h0M157.6 362.7h0M152.8 370.6h0M122.5 376.5h0M127.8 393.6h0M114.3 422.0h0M124.4 404.2h0M105.0 416.0h0M149.3 386.4h0M116.8 372.7h0M129.5 407.8h0M132.6 352.4h0M116.8 375.0h0M117.9 419.9h0M125.1 411.2h0M134.4 400.2h0M142.1 376.7h0M130.9 384.2h0M141.7 406.4h0M117.6 384.5h0M155.4 364.5h0M134.8 359.4h0M143.1 375.1h0M126.8 412.7h0M113.7 386.7h0M120.9 401.8h0M150.8 357.3h0M124.2 391.1h0M146.0 357.2h0M152.2 346.3h0M122.6 372.0h0M133.4 377.0h0M123.6 413.5h0M125.5 374.2h0M114.6 406.6h0M106.2 407.5h0M140.0 390.9h0M103.4 408.6h0M147.2 370.2h0M112.3 383.4h0M149.1 367.0h0M156.4 368.5h0M123.2 367.5h0M158.6 372.8h0M127.6 388.9h0M135.0 361.4h0M139.4 399.6h0M110.6 396.4h0M112.4 409.1h0M162.3 368.6h0M119.2 405.2h0M117.1 368.5h0M132.1 379.2h0M120.3 376.7h0M145.4 362.2h0M128.5 401.9h0M126.3 368.5h0M127.3 399.4h0M140.8 365.2h0M134.9 392.9h0M119.6 384.0h0M120.3 371.4h0M123.1 368.7h0M117.6 370.4h0M125.7 373.0h0M124.5 379.4h0M109.7 379.5h0M108.2 379.4h0M112.9 379.8h0M111.1 385.2h0M120.1 379.5h0M120.2 385.4h0M112.0 374.5h0M113.8 374.4h0M110.6 378.7h0M125.8 370.5h0M111.8 372.1h0M112.2 377.3h0M112.1 373.9h0M121.6 373.5h0M121.3 372.2h0M119.6 381.4h0M116.3 380.9h0M121.8 379.7h0M114.5 377.6h0M114.0 369.3h0M109.2 382.0h0M114.3 374.6h0M114.6 368.4h0M122.5 383.6h0M124.7 376.5h0M110.8 369.7h0M118.0 375.7h0M112.9 368.5h0M118.0 374.5h0" stroke="#f2872a" stroke-width="1.45" stroke-linecap="round" fill="none"/>
<path d="M122.0 345.5h0M135.1 347.8h0M138.7 347.0h0M123.7 349.7h0M138.5 350.3h0M137.7 349.1h0M132.3 354.3h0M126.1 349.2h0M134.6 345.6h0M128.1 355.9h0M127.2 354.3h0M130.7 355.1h0M134.5 349.0h0M139.3 351.1h0M128.3 348.4h0M125.1 352.5h0M129.9 346.0h0M138.3 349.7h0M128.8 344.7h0M124.6 345.9h0M132.9 360.6h0M135.8 348.7h0M138.5 353.4h0M128.2 348.2h0M126.6 354.9h0M127.9 350.0h0M127.6 348.8h0M124.3 345.1h0M131.3 358.3h0M130.1 348.4h0M126.1 353.5h0M136.9 345.3h0M139.5 351.2h0M134.0 359.6h0M138.4 349.1h0M134.8 349.6h0M136.7 347.8h0M125.4 348.8h0M134.0 357.3h0M128.3 350.4h0M134.9 351.6h0M128.7 357.9h0M127.7 344.8h0M129.4 345.8h0M135.4 349.8h0M128.5 348.2h0M132.3 349.2h0M131.3 354.6h0M134.1 355.3h0M139.8 351.3h0M126.1 353.5h0M130.9 346.1h0M124.9 347.3h0M126.6 351.8h0M132.2 348.7h0M126.5 352.5h0M127.9 348.8h0M137.0 355.2h0M135.9 352.2h0M132.4 357.8h0M129.8 356.6h0M132.5 348.7h0M136.2 350.0h0M131.8 346.3h0M137.1 348.1h0M127.5 348.0h0M128.0 345.1h0M137.0 351.5h0M127.2 343.7h0M130.5 349.7h0M137.5 357.7h0M125.1 343.7h0M139.3 351.7h0M135.4 359.6h0M134.9 352.8h0M125.4 345.4h0M133.3 358.4h0M132.8 357.7h0M135.7 347.9h0M127.2 343.8h0M132.4 353.4h0M128.2 358.3h0M130.7 347.8h0M126.5 344.8h0M130.5 347.1h0M133.7 350.0h0M132.9 358.1h0M127.4 346.7h0M128.9 358.0h0M138.6 345.7h0M125.8 351.9h0M137.3 349.0h0M124.2 350.7h0M135.5 357.8h0M131.2 346.8h0M133.8 353.8h0M130.0 356.6h0M132.8 346.6h0M130.5 350.3h0M129.2 359.5h0M132.6 344.6h0M126.2 349.4h0M130.5 358.7h0M129.1 348.2h0M132.1 356.1h0M137.7 352.1h0M133.9 354.8h0M135.9 351.8h0M132.5 356.5h0M131.5 349.2h0M127.1 350.1h0M124.4 347.6h0M133.0 344.9h0M136.0 355.9h0M129.4 347.3h0M132.5 355.7h0M128.2 350.4h0M129.5 351.7h0M130.4 347.5h0M131.7 345.1h0M129.5 344.2h0M132.5 355.4h0M132.9 357.3h0M122.1 346.6h0M138.1 357.8h0M137.5 346.7h0M138.7 348.8h0M130.4 343.0h0M131.5 355.9h0M133.8 343.9h0M134.6 353.2h0M128.6 353.9h0M136.4 349.5h0M137.6 353.5h0M134.6 354.0h0M139.9 351.8h0M130.1 349.9h0M130.4 353.2h0M126.5 355.8h0M130.3 348.6h0M128.3 351.8h0M136.4 354.6h0M123.6 349.3h0M125.6 351.8h0M138.1 356.4h0M125.3 353.4h0M139.6 348.1h0M129.7 356.0h0M123.8 351.3h0M138.3 351.2h0M136.7 348.2h0M118.7 361.8h0M117.1 362.3h0M115.4 358.9h0M106.6 368.1h0M104.5 367.9h0M124.4 358.0h0M113.5 370.9h0M115.0 371.8h0M119.7 357.1h0M100.9 366.0h0M119.7 371.4h0M114.9 367.2h0M119.1 363.1h0M111.9 372.0h0M116.6 367.0h0M119.5 359.6h0M117.4 362.6h0M117.7 359.4h0M120.5 363.5h0M124.2 357.7h0M127.8 357.1h0M116.2 359.1h0M120.4 361.8h0M115.0 371.9h0M124.0 357.6h0M115.8 358.5h0M112.2 361.7h0M119.9 364.7h0M124.0 360.0h0M115.3 362.0h0M121.6 366.9h0M126.4 359.5h0M123.4 363.5h0M107.1 361.7h0M110.1 359.8h0M120.0 365.8h0M117.1 359.2h0M105.1 367.4h0M107.2 370.6h0M108.2 369.3h0M100.9 365.8h0M117.8 359.0h0M106.8 364.4h0M111.7 359.7h0M114.5 366.7h0M120.8 370.0h0M110.9 369.8h0M108.7 365.0h0M110.7 365.0h0M121.0 359.0h0M114.8 363.7h0M126.1 360.3h0M125.9 356.6h0M120.8 366.6h0M112.5 363.2h0M116.1 363.0h0M128.3 357.3h0M118.0 358.2h0M115.3 365.4h0M117.5 362.3h0M123.1 365.5h0M117.9 372.5h0M118.6 359.6h0M119.1 371.1h0M108.1 366.4h0M115.3 362.4h0M127.7 361.4h0M104.3 364.8h0M115.7 363.5h0M107.5 361.1h0M121.3 369.4h0M108.2 361.2h0M123.5 364.9h0M122.5 365.0h0M114.2 369.1h0M121.3 364.2h0M107.2 370.8h0M116.4 372.8h0M101.5 366.2h0M110.5 370.5h0M116.9 368.5h0M118.2 361.9h0M114.1 371.4h0M116.2 365.5h0M107.7 367.7h0M121.9 361.9h0M118.3 365.5h0M123.7 360.5h0M105.2 362.7h0M113.6 358.9h0M127.1 362.0h0M121.7 369.2h0M122.7 362.2h0M124.7 365.1h0M102.8 364.2h0M121.7 358.4h0M126.1 365.1h0M108.9 365.2h0M118.0 358.3h0M119.7 367.4h0M118.4 360.1h0M115.2 361.9h0M124.5 357.7h0M122.0 361.5h0M108.7 370.8h0M119.6 368.5h0M122.5 370.5h0M113.6 360.0h0M118.8 368.4h0M128.6 358.3h0M114.0 364.5h0M118.8 365.2h0M116.1 370.5h0M110.5 363.8h0M117.0 358.0h0M108.2 366.7h0M125.9 363.2h0M106.1 366.6h0M112.2 361.0h0M113.5 364.4h0M122.7 365.9h0M115.2 363.9h0M125.0 361.6h0M114.2 361.5h0M121.7 360.2h0M124.1 357.3h0M118.9 362.6h0M119.1 358.9h0M118.4 371.2h0M112.3 371.3h0M99.6 365.4h0M126.3 365.6h0M118.3 362.7h0M108.7 363.1h0M108.9 370.3h0M126.6 365.2h0M111.7 365.0h0M112.5 371.2h0M114.6 368.7h0M107.3 363.5h0M114.8 368.2h0M117.6 369.1h0M125.5 359.9h0M127.0 359.9h0M120.8 361.1h0M128.3 359.9h0M115.2 362.2h0M112.5 370.0h0M118.2 359.5h0M113.2 369.8h0M123.5 369.4h0M125.2 358.7h0M125.5 367.3h0M122.8 365.8h0M115.9 366.5h0M112.0 358.5h0M100.6 365.3h0M110.8 364.3h0M125.5 361.3h0M126.7 357.6h0M104.6 366.9h0M102.4 364.5h0M119.4 359.7h0M113.8 358.4h0M116.2 371.3h0M117.1 365.0h0M112.8 363.4h0M104.6 363.3h0M118.8 365.7h0M128.3 357.6h0M117.5 361.4h0M107.4 361.4h0M118.4 359.1h0M114.8 369.9h0M109.9 371.0h0M110.4 359.5h0M115.4 369.3h0M126.0 362.6h0M118.4 359.4h0M113.3 362.6h0M112.1 365.0h0M108.6 369.2h0M122.5 361.4h0M119.5 370.9h0M117.9 358.7h0M117.3 365.1h0M128.7 354.8h0M131.9 353.4h0M128.5 355.9h0M128.7 355.3h0M130.8 351.4h0M130.1 354.5h0M130.0 353.8h0M124.3 355.3h0M127.5 354.1h0M128.3 354.7h0M124.9 353.5h0M128.2 355.1h0M129.2 353.2h0M127.3 354.1h0M133.0 353.0h0M131.0 353.8h0M135.7 352.4h0M129.1 355.1h0M100.5 359.8h0M126.6 359.7h0M119.5 365.7h0M123.0 364.0h0M119.6 368.8h0M130.0 358.7h0M121.8 359.9h0M107.3 363.9h0M112.9 355.6h0M122.6 362.2h0M117.8 369.9h0M111.7 367.7h0M106.5 363.1h0M119.7 359.8h0M111.6 360.0h0M111.4 368.2h0M103.9 362.2h0M122.1 360.4h0M110.9 370.3h0M126.5 356.6h0M125.7 363.4h0M122.0 361.0h0M109.7 368.3h0M116.0 372.2h0M120.8 361.5h0M121.4 374.7h0M107.6 360.5h0M137.5 358.1h0M137.2 347.9h0M136.0 344.2h0M127.9 359.0h0M127.9 347.7h0M127.7 339.7h0M134.5 347.5h0M130.8 352.7h0M128.9 349.4h0M128.8 345.0h0M126.4 351.1h0M132.1 351.6h0M129.3 353.0h0M128.6 352.3h0M127.9 344.7h0M134.1 357.6h0M130.9 353.3h0M126.0 345.6h0" stroke="#1c9a48" stroke-width="1.45" stroke-linecap="round" fill="none"/>
<path d="M167.7 372.7h0M172.8 366.6h0M173.4 383.6h0M170.8 386.9h0M166.8 371.9h0M165.1 356.5h0M171.7 377.1h0M172.7 358.8h0M161.7 352.9h0M163.8 377.3h0M172.2 377.1h0M162.3 356.7h0M168.8 360.5h0M171.6 380.9h0M170.7 362.7h0M164.4 363.0h0M164.5 363.0h0M160.6 364.9h0M176.1 368.5h0M162.4 370.6h0M173.8 372.6h0M168.5 372.7h0M163.1 373.2h0M164.7 372.8h0M167.1 361.7h0M170.9 359.7h0M174.0 368.3h0M170.2 361.2h0M174.2 370.6h0M162.4 364.1h0M172.3 380.6h0M172.2 377.6h0M169.9 376.6h0M170.6 354.4h0M176.5 365.0h0M166.1 376.5h0M167.0 368.1h0M167.1 371.0h0M161.8 359.7h0M173.2 366.5h0M175.9 369.6h0M175.7 367.3h0M171.7 378.2h0M172.4 386.5h0M165.8 381.5h0M172.3 364.9h0M171.2 364.1h0M161.6 371.7h0M163.1 362.3h0M176.5 369.8h0M167.5 379.3h0M171.1 369.4h0M172.5 381.7h0M164.9 380.7h0M164.7 358.0h0M172.1 378.3h0M161.7 366.5h0M174.0 367.4h0M174.7 360.7h0M170.1 354.2h0M170.8 361.9h0M166.3 355.4h0M166.2 359.2h0M165.3 357.7h0M167.2 384.2h0M169.7 368.7h0M170.9 361.2h0M175.3 370.1h0M175.9 362.8h0M172.8 373.1h0M168.5 381.9h0M171.1 373.0h0M175.5 362.7h0M164.0 371.6h0M176.8 368.2h0M171.7 386.6h0M173.3 357.8h0M168.3 360.6h0M172.1 377.1h0M168.1 372.6h0M167.5 372.7h0M164.7 362.3h0M170.7 375.6h0M166.4 363.1h0M166.5 371.3h0M173.5 357.0h0M165.3 368.7h0M166.0 370.1h0M168.3 374.3h0M169.7 355.5h0M160.9 355.7h0M163.1 375.3h0M167.1 377.2h0M165.8 375.6h0M165.3 357.1h0M166.3 378.6h0M161.4 360.2h0M163.6 360.8h0M163.2 352.8h0M176.7 367.6h0M172.3 372.7h0M174.1 374.7h0M165.9 361.2h0M164.2 355.4h0M165.0 379.4h0M164.0 357.8h0M169.3 360.8h0M166.3 368.5h0M162.9 377.3h0M174.4 360.2h0M169.4 357.3h0M173.0 370.1h0M169.6 363.6h0M167.7 367.2h0M163.2 369.6h0M172.4 375.6h0M175.9 368.1h0M172.4 360.9h0M165.9 376.7h0M168.5 366.6h0M163.2 369.4h0M164.9 368.9h0M175.1 376.2h0M173.2 357.1h0M176.8 369.6h0M168.6 372.5h0M173.6 383.5h0M169.7 370.6h0M174.5 356.3h0M172.8 381.8h0M174.6 364.1h0M170.8 382.4h0M168.1 384.8h0M172.8 356.8h0M174.3 374.5h0M167.4 360.3h0M166.4 368.5h0M167.4 370.1h0M174.2 355.9h0M166.4 355.8h0M175.2 375.2h0M165.6 378.1h0M176.1 367.8h0M172.0 376.2h0M165.5 353.0h0M164.8 359.4h0M174.1 361.6h0M163.3 372.1h0M172.7 357.4h0M168.8 362.0h0M171.7 369.8h0M173.2 363.5h0M162.1 373.0h0M173.8 363.7h0M166.2 378.2h0M174.7 374.8h0M168.4 364.8h0M172.2 380.5h0M167.2 359.2h0M174.7 357.9h0M175.3 364.4h0M169.8 385.5h0M170.2 376.1h0M174.7 368.7h0M168.8 377.0h0M175.7 373.7h0M165.6 375.1h0M165.3 361.0h0M162.3 358.8h0M175.0 364.1h0M160.4 363.4h0M163.9 375.0h0M166.6 361.0h0M171.0 378.0h0M171.6 375.0h0M169.8 370.9h0M164.7 377.7h0M171.8 364.5h0M166.1 369.5h0M160.3 364.7h0M166.8 372.4h0M166.8 368.7h0M168.4 366.0h0M175.6 366.5h0M168.4 379.3h0M166.5 361.0h0M167.0 369.4h0M163.1 374.0h0M174.0 378.5h0M168.9 365.8h0M173.7 365.3h0M163.2 354.0h0M175.2 377.8h0M166.8 378.3h0M166.3 374.2h0M175.5 370.8h0M162.0 370.2h0M161.7 372.3h0M169.1 376.3h0M162.6 376.7h0M170.6 375.9h0M175.5 370.4h0M171.3 375.8h0M162.8 365.2h0M168.0 372.0h0M170.1 356.8h0M161.8 359.1h0M174.2 385.3h0M164.0 358.5h0M162.4 369.6h0M165.2 369.3h0M164.3 379.9h0M170.7 377.2h0M168.1 372.9h0M170.1 381.3h0M173.4 381.1h0M163.2 357.5h0M171.0 361.9h0M173.9 361.3h0M174.7 380.4h0M168.8 353.8h0M169.4 379.6h0M169.3 352.6h0M174.5 363.1h0M167.4 359.2h0M166.6 382.0h0M164.0 368.0h0M162.3 370.6h0M167.2 356.6h0M170.1 357.1h0M166.7 375.9h0M174.2 363.9h0M174.3 374.6h0M163.4 363.5h0M169.1 371.3h0M173.1 379.4h0M170.1 383.5h0M173.5 375.4h0M163.0 372.0h0M170.3 360.6h0M169.2 353.8h0M176.1 366.8h0M168.5 358.1h0M164.1 368.0h0M172.7 357.7h0M171.7 380.3h0M174.1 365.7h0M165.5 393.6h0M157.6 412.4h0M166.4 407.2h0M135.0 414.2h0M143.1 419.7h0M136.5 412.9h0M148.3 412.7h0M170.3 397.1h0M137.4 417.8h0M167.0 398.4h0M162.2 416.3h0M149.5 395.0h0M166.7 421.5h0M156.1 422.0h0M158.2 394.3h0M154.9 425.9h0M161.7 409.0h0M158.4 404.1h0M168.6 402.7h0M162.0 401.6h0M149.7 412.4h0M171.5 405.4h0M148.4 397.1h0M156.5 414.9h0M159.0 387.1h0M143.7 410.2h0M152.0 427.8h0M155.8 392.0h0M164.8 395.2h0M173.1 398.9h0M145.0 406.1h0M159.1 400.4h0M166.2 402.3h0M166.3 394.4h0M138.0 417.0h0M167.6 410.5h0M151.6 418.5h0M140.4 420.6h0M172.1 405.4h0M152.1 412.5h0M147.8 404.2h0M171.8 412.0h0M163.1 419.8h0M148.9 397.8h0M165.7 411.4h0M164.1 393.6h0M151.8 421.6h0M162.6 421.1h0M153.5 391.7h0M142.4 416.0h0M149.7 410.5h0M158.8 407.7h0M142.7 406.9h0M159.8 388.1h0M151.6 406.3h0M163.6 408.8h0M156.9 426.5h0M145.6 401.0h0M144.3 426.4h0M171.0 415.0h0M150.5 417.3h0M155.5 408.7h0M164.7 389.9h0M158.7 407.6h0M149.9 425.4h0M150.2 397.3h0M140.0 413.6h0M151.9 411.3h0M151.1 408.5h0M159.4 425.6h0M142.4 413.5h0M157.5 405.5h0M160.8 425.1h0M134.8 416.1h0M139.8 415.0h0M154.1 420.7h0M157.2 396.5h0M146.0 398.9h0M173.7 404.4h0M164.9 417.2h0M148.9 402.8h0M155.1 387.7h0M155.7 405.1h0M139.0 405.6h0M161.9 422.1h0M171.7 405.0h0M139.7 419.3h0M148.6 393.5h0M172.8 392.5h0M132.5 420.4h0M132.4 420.6h0M166.9 403.6h0M166.0 414.7h0M152.2 409.3h0M169.8 401.3h0M146.6 412.3h0M144.4 416.0h0M131.4 421.2h0M163.1 390.1h0M137.8 405.9h0M162.8 394.8h0M146.1 418.9h0M157.6 416.9h0M135.1 424.5h0M153.5 390.8h0M166.4 404.1h0M169.3 411.3h0M150.2 429.7h0M159.4 402.3h0M156.2 417.8h0M161.4 395.6h0M147.0 425.1h0M156.7 405.5h0M145.7 408.3h0M149.1 417.3h0M161.8 399.5h0M166.9 391.9h0M158.6 407.3h0M146.1 418.5h0M168.0 412.2h0M139.0 416.5h0M146.4 408.8h0M151.4 410.6h0M155.1 424.6h0M155.0 423.9h0M163.7 424.6h0M144.9 421.2h0M167.2 420.0h0M172.0 393.1h0M153.6 403.3h0M142.5 402.9h0M155.3 398.4h0M159.5 386.3h0M141.6 418.4h0M151.8 404.1h0M164.5 394.4h0M171.7 405.0h0M165.7 396.3h0M144.4 429.0h0M167.8 421.8h0M152.2 394.8h0M155.8 423.8h0M171.7 413.2h0M152.9 404.5h0M168.2 404.1h0M170.0 415.1h0M155.3 393.1h0M170.3 390.5h0M137.5 420.5h0M166.1 422.3h0M156.9 416.5h0M160.8 403.1h0M145.4 428.4h0M145.8 429.6h0M150.7 425.9h0M167.6 409.2h0M156.5 425.7h0M157.3 417.8h0M156.6 387.6h0M145.7 417.7h0M145.0 405.7h0M154.9 415.9h0M156.5 391.0h0M157.2 408.1h0M141.4 402.1h0M145.5 415.2h0M149.6 399.0h0M157.9 405.3h0M135.2 416.4h0M148.4 398.0h0M157.9 422.6h0M158.6 387.3h0M142.9 407.4h0M144.1 420.2h0M138.8 416.5h0M168.9 390.7h0M141.0 415.9h0M157.5 402.4h0M155.2 393.2h0M146.9 413.6h0M169.9 413.1h0M136.9 426.8h0M164.9 409.5h0M147.0 408.6h0M171.6 393.5h0M158.9 411.4h0M173.1 412.5h0M143.6 429.4h0M148.9 409.5h0M161.4 426.0h0M165.7 398.3h0M148.8 426.9h0M167.1 410.7h0M134.2 413.9h0M138.5 419.9h0M137.3 424.4h0M148.1 395.2h0M171.1 414.1h0M168.4 416.4h0M156.7 389.8h0M150.0 400.2h0M154.6 394.3h0M159.8 394.3h0M170.8 415.7h0M146.2 426.2h0M160.0 398.3h0M164.5 400.2h0M159.8 404.7h0M158.4 425.4h0M142.4 424.9h0M141.6 403.7h0M151.1 418.7h0M142.7 422.8h0M151.7 421.9h0M143.6 412.9h0M157.4 400.4h0M147.9 403.9h0M161.1 396.6h0M141.9 402.4h0M140.4 423.6h0M144.0 415.3h0M149.1 410.8h0M158.3 420.9h0M132.6 411.4h0M160.6 400.3h0M139.7 406.0h0M169.9 410.2h0M140.8 423.8h0M154.4 399.1h0M144.9 429.0h0M149.6 421.3h0M144.2 422.5h0M139.1 402.6h0M165.5 387.5h0M165.6 388.8h0M153.0 389.5h0M165.3 389.2h0M140.1 408.5h0M163.1 389.2h0M157.9 427.3h0M165.4 415.9h0M165.0 405.7h0M173.5 406.3h0M164.9 424.5h0M151.0 418.6h0M161.7 412.0h0M131.5 421.3h0M157.1 398.3h0M166.4 411.6h0M136.9 424.9h0M154.3 396.4h0M144.6 405.2h0M147.6 409.7h0M151.8 423.9h0M131.0 417.5h0M162.1 426.5h0M173.6 399.8h0M163.9 412.9h0M152.3 418.2h0M157.8 426.4h0M141.2 415.6h0M132.1 416.1h0M166.6 395.8h0M169.9 417.9h0M140.8 408.9h0M160.2 405.4h0M153.8 420.0h0M159.7 409.1h0M140.2 407.0h0M153.2 424.4h0M138.7 415.5h0M158.5 403.0h0M153.2 411.4h0M155.5 415.8h0M164.1 398.2h0M164.0 390.7h0M168.0 389.9h0M172.3 413.8h0M151.9 421.9h0M147.2 402.7h0M158.5 401.8h0M142.0 424.5h0M158.8 393.8h0M136.7 421.1h0M154.8 409.7h0M139.2 403.0h0M157.3 401.7h0M133.9 413.5h0M148.5 397.9h0M149.9 399.7h0M161.2 400.6h0M130.5 420.2h0M160.4 406.2h0M148.3 411.7h0M142.6 429.0h0M143.4 411.1h0M147.4 407.2h0M166.4 397.6h0M152.7 412.8h0M149.1 420.0h0M157.0 389.1h0M132.1 423.6h0M149.1 393.2h0M163.4 420.2h0M151.3 402.1h0M172.9 412.3h0M169.0 419.1h0M173.6 406.4h0M163.5 395.2h0M154.2 417.6h0M160.3 425.0h0M156.6 413.7h0M161.1 411.4h0M153.8 410.9h0M147.4 418.7h0M163.2 398.6h0M146.8 397.0h0M161.1 407.1h0M166.5 423.9h0M158.6 386.4h0M137.9 426.3h0M166.9 396.3h0M158.4 400.7h0M134.5 408.7h0M147.9 410.6h0M145.7 413.2h0M167.3 411.4h0M166.8 392.1h0M167.2 392.2h0M161.7 426.6h0M163.7 417.9h0M149.6 394.9h0M147.5 422.1h0M168.3 409.2h0M142.1 411.8h0M129.8 417.3h0M158.2 388.3h0M138.9 420.4h0M161.8 393.8h0M174.4 405.6h0M164.9 396.5h0M157.4 422.4h0M157.9 419.1h0M156.1 399.4h0M160.1 410.7h0M132.7 414.0h0M144.5 411.3h0M162.0 412.7h0M159.9 416.3h0M159.9 424.9h0M150.2 394.1h0M154.3 415.5h0M150.2 406.0h0M143.8 413.4h0M132.0 423.6h0M173.0 414.1h0M149.0 413.7h0M141.0 405.4h0M171.6 414.9h0M162.4 394.4h0M170.3 411.9h0M149.9 401.3h0M168.7 403.9h0M143.4 420.6h0M144.5 415.1h0M151.7 426.9h0M148.3 420.5h0M158.5 389.7h0M150.0 409.4h0M138.7 421.9h0M146.7 418.9h0M159.5 408.9h0M152.2 407.4h0M155.2 398.0h0M157.4 425.5h0M156.0 421.9h0M152.3 395.7h0M158.0 386.9h0M160.1 395.8h0M130.9 417.6h0M139.8 422.0h0M173.5 407.4h0M160.0 402.5h0M169.4 407.8h0M162.3 395.3h0M162.8 388.9h0M150.3 393.1h0M161.8 388.3h0M142.5 411.3h0M168.6 421.3h0M135.4 414.7h0M163.2 406.4h0M150.8 410.9h0M159.5 423.1h0M149.1 407.4h0M149.8 397.6h0M142.0 416.5h0M171.6 406.0h0M146.2 401.7h0M166.3 405.5h0M158.5 406.2h0M145.7 427.4h0M136.4 420.9h0M167.0 398.4h0M163.4 399.8h0M147.3 426.0h0M158.1 426.1h0M136.8 404.6h0M170.1 405.6h0M149.6 423.3h0M152.2 417.6h0M161.8 420.6h0M162.8 413.0h0M163.7 413.8h0M151.2 429.9h0M164.7 423.5h0M170.6 417.6h0M145.8 410.9h0M143.2 421.4h0M151.1 393.7h0M154.5 411.1h0M136.8 415.8h0M166.2 413.2h0M159.4 395.8h0M141.0 406.8h0M158.5 427.5h0M151.9 417.5h0M165.9 424.3h0M160.1 418.6h0M166.5 420.2h0M160.8 419.3h0M159.6 424.5h0M164.3 394.8h0M137.8 407.3h0M159.0 394.7h0M164.6 424.8h0M157.5 428.1h0M158.7 428.3h0M147.3 423.1h0M156.6 409.3h0M166.9 417.4h0M156.4 405.4h0M131.7 418.8h0M168.6 402.2h0M170.9 409.8h0M158.2 386.4h0M147.3 429.7h0M141.1 407.1h0M157.5 386.5h0M136.7 416.1h0M153.6 420.7h0M171.0 402.6h0M154.1 406.1h0M151.7 423.4h0M166.5 409.9h0M161.4 425.7h0M161.3 399.9h0M170.7 406.3h0M135.7 411.2h0M134.9 410.0h0M135.3 406.8h0M149.6 419.4h0M145.9 399.1h0M150.1 424.8h0M156.9 388.6h0M141.3 412.5h0M154.4 415.5h0M145.1 415.2h0M156.5 387.5h0M146.7 415.5h0M166.1 423.9h0M155.4 411.5h0M160.7 403.5h0M145.4 419.1h0M140.6 427.3h0M146.3 421.8h0M159.7 407.5h0M141.6 404.7h0M142.1 421.0h0M157.3 387.4h0M155.0 408.2h0M140.8 410.9h0M159.5 416.2h0M146.2 414.4h0M155.9 395.6h0M151.5 394.5h0M139.9 419.8h0M172.0 404.8h0M145.4 421.3h0M162.7 424.7h0M170.5 408.4h0M137.4 405.8h0M146.9 396.4h0M161.8 412.2h0M150.9 422.8h0M151.8 405.9h0M155.4 413.0h0M157.1 426.6h0M165.1 404.1h0M159.9 397.8h0M169.1 417.9h0M156.9 415.5h0M172.0 416.0h0M169.6 416.2h0M140.1 422.5h0M153.8 426.4h0M163.5 390.7h0M133.0 413.0h0M151.8 423.4h0M167.9 395.7h0M155.8 405.7h0M158.6 394.2h0M149.8 418.3h0M135.4 420.6h0M145.2 405.0h0M170.9 401.7h0M157.6 421.2h0M160.7 387.9h0M141.1 421.5h0M143.6 416.8h0M170.2 404.7h0M143.5 399.9h0M149.7 405.6h0M150.4 418.0h0M159.0 397.4h0M151.3 405.0h0M173.3 403.3h0M153.1 394.6h0M151.5 411.2h0M159.4 403.2h0M170.1 415.7h0M154.0 395.3h0M144.4 418.0h0M153.4 425.9h0M132.2 419.7h0M166.8 411.4h0M146.3 406.5h0M144.2 429.1h0M150.1 401.2h0M144.5 417.1h0M140.4 420.3h0M173.2 412.9h0M172.0 412.4h0M149.6 405.6h0M166.5 423.5h0M140.5 427.5h0M135.1 421.7h0M162.9 414.7h0M167.0 393.1h0M148.4 409.2h0M166.1 419.3h0M167.7 408.3h0M164.8 397.7h0M142.0 422.0h0M150.1 403.0h0M157.3 392.0h0M149.0 427.7h0M171.2 412.9h0M165.4 392.1h0M169.5 411.0h0M132.5 418.3h0M157.5 404.6h0M151.4 402.2h0M168.3 389.0h0M135.6 408.8h0M163.2 408.0h0M160.0 391.3h0M164.3 394.5h0M151.9 426.4h0M172.5 395.8h0M152.4 399.4h0M156.3 414.0h0M148.2 425.2h0M154.8 401.4h0M160.0 394.8h0M160.4 387.4h0M160.6 390.7h0M169.3 393.2h0M167.0 410.9h0M160.0 418.6h0M151.1 402.8h0M166.5 411.3h0M154.2 397.7h0M172.3 393.6h0M148.5 402.9h0M150.7 407.3h0M145.0 414.9h0M160.8 409.3h0M168.5 397.8h0M147.6 404.4h0M150.8 395.2h0M137.1 422.3h0M149.8 410.4h0M156.7 402.5h0M169.6 390.3h0M138.7 417.7h0M149.4 402.4h0M157.5 425.7h0M160.6 386.1h0M133.0 414.3h0M151.0 405.6h0M154.5 391.4h0M166.1 419.3h0M144.2 422.8h0M151.7 410.6h0M172.0 410.6h0M138.1 408.6h0M159.2 394.6h0M141.8 407.0h0M160.6 405.5h0M156.9 387.2h0M157.7 425.9h0M148.5 400.0h0M142.2 410.1h0M145.5 423.0h0M171.0 414.2h0M150.9 421.8h0M147.0 399.4h0M151.7 393.8h0M169.0 419.4h0M137.7 415.4h0M138.4 426.3h0M143.9 400.6h0M165.3 419.9h0M158.8 392.6h0M167.9 400.1h0M153.7 389.0h0M134.2 410.3h0M153.9 429.6h0M171.5 411.0h0M157.8 392.1h0M154.7 391.0h0M136.9 406.1h0M131.5 415.4h0M135.2 411.5h0M159.7 411.8h0M142.9 418.2h0M155.7 395.7h0M165.5 414.6h0M148.9 409.0h0M152.9 401.1h0M165.8 398.4h0M141.2 412.5h0M151.4 390.9h0M140.1 404.9h0M166.0 397.7h0M141.3 404.8h0M149.5 412.1h0M140.5 425.3h0M166.4 398.5h0M164.5 407.2h0M157.5 400.6h0M145.2 413.1h0M155.4 402.4h0M139.6 421.8h0M149.9 394.6h0M172.0 398.9h0M163.1 388.9h0M160.1 391.0h0M160.4 398.2h0M164.3 412.7h0M140.2 427.9h0M162.7 387.4h0M137.0 407.3h0M164.4 421.5h0M153.0 416.4h0M150.8 397.9h0M150.5 411.2h0M164.6 416.9h0M167.6 409.4h0M147.3 414.2h0M170.8 396.1h0M146.2 409.1h0M165.8 403.0h0M158.7 424.2h0M152.6 390.4h0M154.3 419.2h0M150.6 428.5h0M140.9 424.3h0M158.4 418.1h0M147.4 415.9h0M159.3 402.8h0M151.9 408.7h0M143.9 426.4h0M153.7 406.1h0M170.9 415.7h0M157.8 392.8h0M145.9 404.5h0M136.8 417.1h0M159.5 400.9h0M143.8 407.8h0M134.7 411.0h0M144.4 418.0h0M155.3 404.7h0M148.6 419.2h0M168.0 412.5h0M155.6 412.0h0M163.8 424.8h0M162.2 420.9h0M155.6 419.9h0M149.7 429.1h0M137.2 412.8h0M155.7 417.0h0M147.8 417.3h0M171.6 397.2h0M136.8 421.5h0M140.8 413.5h0M161.4 394.9h0M151.3 399.9h0M141.3 407.3h0M152.8 412.7h0M152.7 405.7h0M136.0 420.4h0M172.3 415.3h0M147.8 416.8h0M145.3 421.3h0M153.5 415.5h0M148.3 427.8h0M165.5 423.0h0M143.6 420.2h0M167.7 407.4h0M170.8 397.9h0M168.0 402.1h0M152.8 399.3h0M155.3 415.4h0M161.2 416.6h0M140.0 422.3h0M144.8 401.4h0M171.8 399.5h0M151.3 391.5h0M143.8 416.7h0M151.6 390.0h0M169.5 395.5h0M132.8 418.1h0M163.8 417.7h0M133.8 409.1h0M173.5 397.8h0M157.1 393.7h0M137.9 420.4h0M139.5 425.3h0M141.8 418.4h0M162.6 414.0h0M152.3 394.2h0M141.8 416.4h0M139.3 409.7h0M147.1 408.4h0M159.8 422.8h0M142.5 410.3h0M164.4 393.8h0M132.0 422.9h0M151.5 421.0h0M145.6 423.2h0M165.1 409.0h0M160.6 402.1h0M138.1 420.3h0M156.1 391.3h0M158.0 402.3h0M166.2 416.6h0M145.3 417.4h0M156.9 388.1h0M139.1 421.8h0M137.0 411.2h0M169.1 391.7h0M150.4 424.2h0M135.3 414.0h0M139.8 420.6h0M163.4 421.0h0M160.9 390.3h0M123.1 429.6h0M103.0 438.1h0M108.4 436.2h0M112.8 436.5h0M123.9 429.7h0M106.6 437.4h0M118.5 431.9h0M125.2 429.7h0M108.5 434.9h0M108.5 436.0h0M102.0 441.0h0M109.9 436.9h0M109.6 437.7h0M103.9 437.9h0M100.5 440.7h0M126.1 427.5h0M99.3 442.0h0M123.1 429.6h0M109.1 437.4h0M99.6 439.9h0M102.1 439.5h0M108.5 436.3h0M118.9 431.7h0M103.3 439.6h0M115.4 434.6h0M118.7 431.3h0M105.3 438.8h0M117.2 430.8h0M115.4 435.6h0M109.9 435.8h0M172.9 392.9h0M172.0 391.1h0M171.3 387.5h0M176.6 392.3h0M168.8 382.9h0M169.8 390.7h0M170.3 393.2h0M169.4 388.4h0M173.5 392.8h0M168.5 381.8h0M172.8 388.9h0M168.2 388.7h0M166.5 382.7h0M173.8 393.6h0M170.0 389.3h0M168.3 381.9h0M173.0 385.3h0M169.6 384.6h0M174.7 393.0h0M165.2 388.8h0M172.9 384.6h0M169.9 388.6h0M174.7 389.2h0M173.7 392.8h0M172.7 386.4h0M169.2 389.4h0M165.9 405.0h0M141.2 410.6h0M166.1 393.5h0M155.7 416.2h0M160.0 401.2h0M168.8 422.5h0M161.0 415.9h0M154.0 410.3h0M143.5 412.8h0M155.5 429.4h0M168.4 385.2h0M149.7 429.6h0M156.2 425.3h0M150.3 430.9h0M150.5 392.0h0M164.9 420.6h0M151.1 432.1h0M137.6 419.4h0M129.7 419.2h0M146.0 413.3h0M145.0 430.3h0M140.4 409.5h0M158.2 420.9h0M137.0 399.6h0M163.5 417.7h0M146.6 413.9h0M153.3 387.3h0M152.3 392.7h0M154.4 395.9h0M152.5 423.0h0M145.5 421.6h0M126.1 415.0h0M155.7 404.8h0M172.7 391.8h0M140.3 403.2h0M149.1 431.6h0M149.2 423.0h0M164.0 423.8h0M168.0 405.2h0M164.6 415.4h0M162.5 390.4h0M153.9 416.4h0M138.7 422.0h0M165.2 404.8h0M157.0 402.7h0M148.9 408.3h0M142.2 409.8h0M158.8 405.4h0M135.5 409.2h0M144.6 416.8h0M152.9 401.9h0M161.4 397.3h0M163.8 413.1h0M150.8 422.6h0" stroke="#1f7ac4" stroke-width="1.45" stroke-linecap="round" fill="none"/>
<path d="M58.8 477.3h0M62.4 481.5h0M59.1 478.4h0M60.5 479.5h0M61.0 478.4h0M59.4 481.0h0M61.3 479.7h0M60.2 480.5h0M60.8 481.3h0M57.9 477.0h0M59.0 477.2h0M59.9 478.8h0M61.7 478.9h0M58.7 479.1h0M61.8 479.7h0M59.7 478.1h0M60.0 480.6h0M57.6 479.9h0M62.1 480.4h0M60.4 479.8h0M59.1 480.5h0" stroke="#d62728" stroke-width="1.45" stroke-linecap="round" fill="none"/>
<path d="M169.5 402.7h0M135.2 420.5h0M143.8 412.4h0M159.5 411.5h0M136.7 409.3h0M147.0 430.1h0M144.2 422.4h0M142.9 402.8h0M147.9 402.2h0M159.3 416.9h0M136.3 410.4h0M135.1 412.9h0M141.6 405.6h0M160.6 395.3h0M131.9 422.2h0M150.1 412.9h0M150.5 417.0h0M169.0 410.9h0M153.8 416.5h0M153.5 390.5h0M158.2 405.7h0M156.9 428.3h0M137.0 415.3h0M132.5 423.7h0M160.3 405.5h0M140.1 407.4h0M135.2 419.9h0M161.1 393.2h0M171.4 392.7h0M163.0 414.4h0M150.3 400.7h0M147.3 406.4h0M136.7 420.3h0M146.5 401.6h0M160.7 422.5h0M136.2 405.3h0M171.1 416.4h0M132.7 410.8h0M134.3 411.8h0M155.8 399.7h0M155.3 405.9h0" stroke="#f2872a" stroke-width="1.45" stroke-linecap="round" fill="none"/>
<text x="109" y="414.8" font-size="4.6" textLength="16.5" lengthAdjust="spacingAndGlyphs" fill="#333">CD8Teff</text>
<text x="148" y="400.4" font-size="4.6" textLength="13" lengthAdjust="spacingAndGlyphs" fill="#333">NaiveT</text>
<text x="122" y="357.6" font-size="4.6" textLength="16" lengthAdjust="spacingAndGlyphs" fill="#333">GDTCells</text>
<text x="52.5" y="485.3" font-size="4.6" textLength="9.5" lengthAdjust="spacingAndGlyphs" fill="#333">Treg</text>
<line x1="35.4" y1="336.3" x2="35.4" y2="489.7" stroke="#222" stroke-width="1.1"/>
<line x1="34.9" y1="489.2" x2="185.2" y2="489.2" stroke="#222" stroke-width="1.1"/>
<line x1="33.3" y1="345.0" x2="35.4" y2="345.0" stroke="#222" stroke-width="0.9"/>
<text x="30.3" y="347.1" font-size="5.9" text-anchor="end" fill="#333">5.0</text>
<line x1="33.3" y1="375.1" x2="35.4" y2="375.1" stroke="#222" stroke-width="0.9"/>
<text x="30.3" y="377.20000000000005" font-size="5.9" text-anchor="end" fill="#333">2.5</text>
<line x1="33.3" y1="405.1" x2="35.4" y2="405.1" stroke="#222" stroke-width="0.9"/>
<text x="30.3" y="407.20000000000005" font-size="5.9" text-anchor="end" fill="#333">0.0</text>
<line x1="33.3" y1="435.5" x2="35.4" y2="435.5" stroke="#222" stroke-width="0.9"/>
<text x="30.3" y="437.6" font-size="5.9" text-anchor="end" fill="#333">−2.5</text>
<line x1="33.3" y1="465.2" x2="35.4" y2="465.2" stroke="#222" stroke-width="0.9"/>
<text x="30.3" y="467.3" font-size="5.9" text-anchor="end" fill="#333">−5</text>
<line x1="42.8" y1="489.2" x2="42.8" y2="491.4" stroke="#222" stroke-width="0.9"/>
<text x="42.8" y="500.2" font-size="5.9" text-anchor="middle" fill="#333">−7.5</text>
<line x1="69.6" y1="489.2" x2="69.6" y2="491.4" stroke="#222" stroke-width="0.9"/>
<text x="69.6" y="500.2" font-size="5.9" text-anchor="middle" fill="#333">−5.0</text>
<line x1="96.6" y1="489.2" x2="96.6" y2="491.4" stroke="#222" stroke-width="0.9"/>
<text x="96.6" y="500.2" font-size="5.9" text-anchor="middle" fill="#333">−2.5</text>
<line x1="123.7" y1="489.2" x2="123.7" y2="491.4" stroke="#222" stroke-width="0.9"/>
<text x="123.7" y="500.2" font-size="5.9" text-anchor="middle" fill="#333">0.0</text>
<line x1="151.0" y1="489.2" x2="151.0" y2="491.4" stroke="#222" stroke-width="0.9"/>
<text x="151.0" y="500.2" font-size="5.9" text-anchor="middle" fill="#333">2.5</text>
<line x1="178.0" y1="489.2" x2="178.0" y2="491.4" stroke="#222" stroke-width="0.9"/>
<text x="178.0" y="500.2" font-size="5.9" text-anchor="middle" fill="#333">5.0</text>
<text x="110.4" y="511.5" font-size="7.2" text-anchor="middle" font-weight="700" textLength="19.6" lengthAdjust="spacingAndGlyphs" fill="#333">UMAP 1</text>
<text x="13.1" y="413.0" font-size="7.2" text-anchor="middle" font-weight="700" textLength="20.0" lengthAdjust="spacingAndGlyphs" transform="rotate(-90 13.1 413.0)" fill="#333">UMAP 2</text>
<rect x="0" y="0" width="520" height="1.1" fill="#5a5a5a"/><rect x="0" y="0" width="1.3" height="547" fill="#4a4a4a"/><rect x="518.7" y="0" width="1.3" height="547" fill="#505050"/><rect x="0" y="545.9" width="520" height="1.1" fill="#555"/>
</svg></body></html>
